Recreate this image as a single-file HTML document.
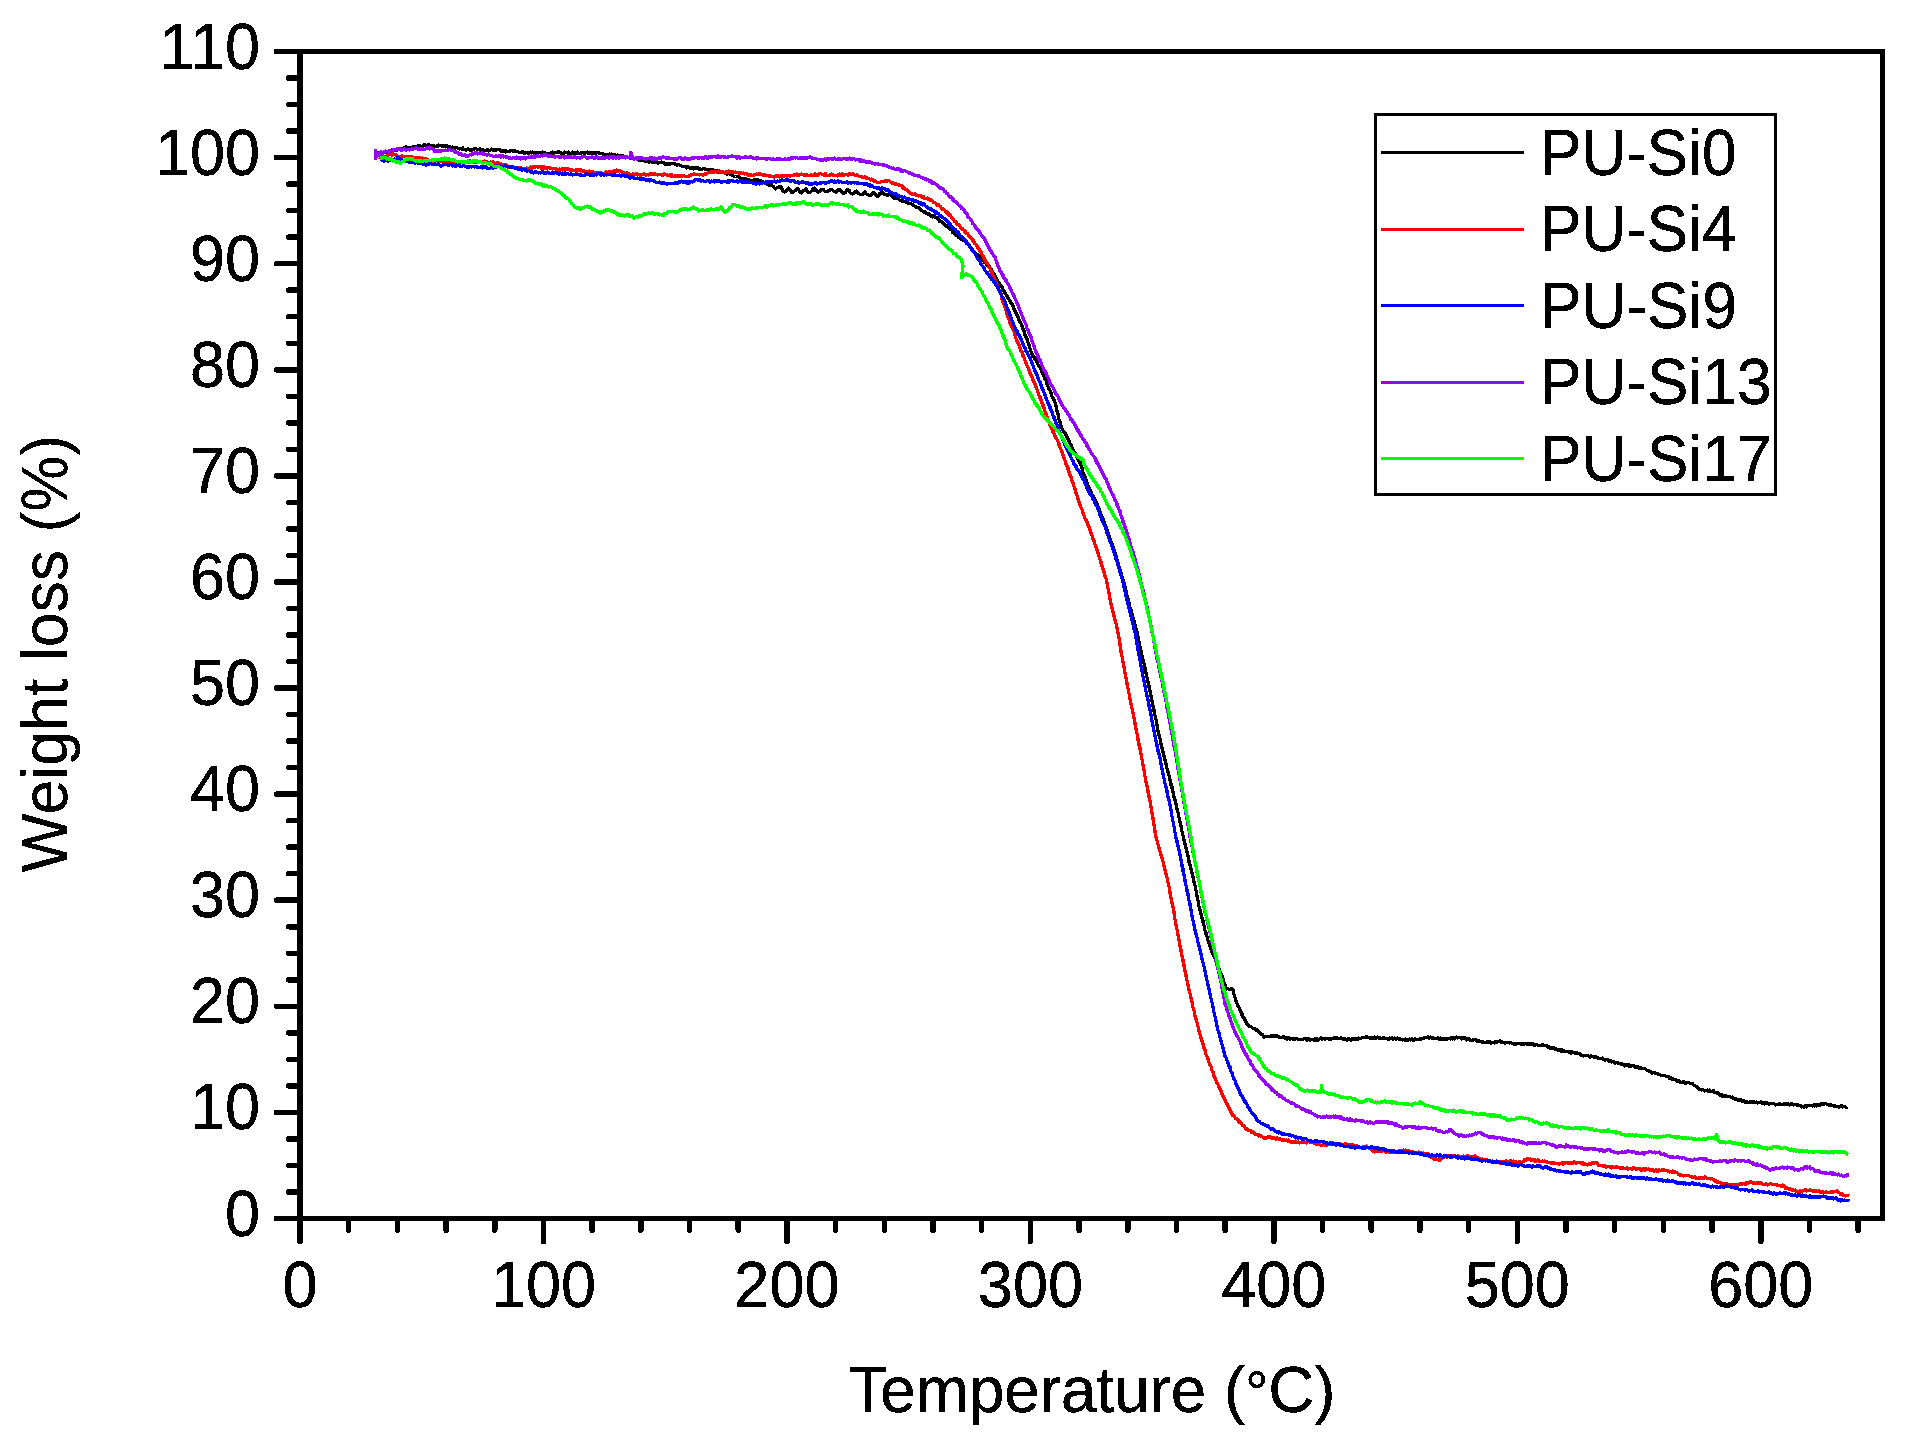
<!DOCTYPE html>
<html><head><meta charset="utf-8"><title>TGA curves</title>
<style>
html,body{margin:0;padding:0;background:#fff;}
body{width:1912px;height:1440px;overflow:hidden;}
svg{display:block;}
text{font-family:"Liberation Sans",sans-serif;font-size:63px;fill:#000;stroke:#000;stroke-width:0.35px;}
.ax{stroke:#000;stroke-width:5.5;fill:none;shape-rendering:crispEdges;}
.tk{stroke:#000;stroke-width:5.5;stroke-linecap:round;fill:none;shape-rendering:crispEdges;}
.cv{fill:none;stroke-width:3.3;stroke-linejoin:round;stroke-linecap:butt;}
</style></head><body>
<svg width="1912" height="1440" viewBox="0 0 1912 1440">
<defs><filter id="bin" x="-5%" y="-20%" width="110%" height="140%" color-interpolation-filters="sRGB"><feComponentTransfer><feFuncA type="discrete" tableValues="0 0 1 1"/></feComponentTransfer></filter></defs>
<rect x="0" y="0" width="1912" height="1440" fill="#fff"/>

<g shape-rendering="crispEdges">
<polyline class="cv" stroke="#000000" points="375.5,153.6 376.5,153.0 377.5,153.7 378.5,152.8 379.4,153.7 380.4,153.7 381.4,154.0 382.4,152.5 383.4,153.0 384.4,151.9 385.4,152.0 386.3,152.3 387.3,152.7 388.3,151.8 389.3,150.5 390.3,151.3 391.3,151.6 392.2,150.0 393.2,150.6 394.2,150.7 395.2,149.5 396.2,149.1 397.1,150.0 398.1,148.9 399.1,149.6 400.1,148.4 401.1,148.9 402.0,148.6 403.0,148.4 404.0,148.1 405.0,147.1 406.0,146.9 407.0,147.2 407.9,148.1 408.9,147.2 409.9,148.1 410.9,148.0 411.9,147.2 412.9,146.8 413.9,147.5 414.9,146.9 415.9,146.6 416.9,146.3 417.9,145.7 418.9,146.2 419.9,145.5 420.9,146.6 421.9,146.7 422.9,146.3 423.9,145.0 424.8,145.4 425.8,145.0 426.8,145.8 427.8,145.1 428.8,144.7 429.8,145.5 430.8,145.2 431.8,145.4 432.8,145.4 433.8,145.5 434.8,146.3 435.8,146.6 436.8,146.1 437.8,146.2 438.8,145.1 439.8,145.2 440.8,145.2 441.8,145.9 442.8,146.5 443.8,145.8 444.8,145.9 445.8,146.3 446.8,145.6 447.8,147.4 448.7,146.6 449.7,146.3 450.7,147.7 451.7,147.7 452.7,147.0 453.7,147.9 454.7,148.5 455.7,148.0 456.7,147.5 457.6,148.1 458.6,148.6 459.6,149.0 460.6,148.6 461.6,149.1 462.6,147.8 463.6,149.7 464.6,149.2 465.6,150.2 466.6,149.3 467.6,148.9 468.6,148.9 469.6,149.7 470.6,150.3 471.6,150.0 472.6,150.1 473.6,148.9 474.6,148.9 475.6,148.4 476.6,149.1 477.6,149.4 478.6,149.4 479.6,148.8 480.6,150.3 481.6,150.1 482.6,150.0 483.6,150.2 484.6,151.0 485.6,150.3 486.6,150.6 487.6,149.4 488.6,150.9 489.6,150.2 490.6,150.1 491.6,149.1 492.6,150.2 493.6,149.3 494.6,150.5 495.6,149.8 496.6,150.0 497.6,149.8 498.6,149.7 499.6,149.8 500.5,150.5 501.5,151.4 502.5,150.9 503.5,151.3 504.5,150.6 505.5,151.9 506.5,151.0 507.5,151.4 508.5,151.3 509.5,151.3 510.5,150.4 511.5,150.5 512.5,150.4 513.5,151.5 514.5,150.6 515.5,151.0 516.5,151.6 517.5,151.6 518.5,151.9 519.5,152.7 520.5,152.8 521.5,152.8 522.5,151.5 523.5,153.0 524.5,152.6 525.5,153.2 526.5,152.4 527.5,153.1 528.5,153.2 529.5,152.9 530.5,152.0 531.5,152.4 532.5,152.1 533.5,152.7 534.5,153.6 535.5,153.0 536.5,152.5 537.5,152.3 538.5,152.4 539.5,152.8 540.5,153.0 541.5,153.5 542.5,151.9 543.5,152.5 544.5,152.6 545.5,153.7 546.5,153.4 547.5,153.8 548.5,153.6 549.5,153.2 550.5,153.5 551.5,152.7 552.5,151.9 553.5,153.3 554.5,152.9 555.5,152.6 556.5,152.6 557.5,152.4 558.5,151.5 559.5,152.1 560.5,152.6 561.5,153.4 562.5,153.6 563.6,153.4 564.6,152.2 565.6,152.8 566.6,152.6 567.6,153.2 568.6,152.1 569.6,153.5 570.6,153.4 571.6,153.2 572.6,152.1 573.6,152.8 574.6,153.3 575.6,153.1 576.6,153.2 577.6,152.2 578.6,153.0 579.6,153.6 580.6,153.6 581.6,152.5 582.6,152.6 583.6,152.9 584.6,153.1 585.6,153.0 586.6,152.4 587.6,152.0 588.6,153.6 589.6,152.7 590.6,153.2 591.6,152.5 592.6,152.5 593.6,153.6 594.6,152.8 595.6,153.6 596.6,152.5 597.6,152.5 598.6,153.1 599.6,152.9 600.6,153.4 601.5,153.2 602.5,153.4 603.5,154.5 604.5,154.3 605.5,154.9 606.5,154.4 607.5,154.6 608.5,154.7 609.5,154.0 610.5,155.1 611.5,154.1 612.5,154.8 613.5,154.4 614.5,154.7 615.5,154.9 616.5,155.8 617.4,154.9 618.4,155.8 619.4,156.5 620.4,155.4 621.4,156.5 622.4,155.9 623.4,156.1 624.3,157.0 625.3,157.4 626.3,156.7 627.3,156.7 628.3,157.5 629.3,157.4 630.3,157.4 631.3,158.6 632.2,158.3 633.2,158.7 634.2,158.9 635.2,158.6 636.2,158.4 637.2,158.5 638.1,159.9 639.1,160.2 640.1,160.0 641.1,159.2 642.0,160.7 643.0,160.0 644.0,160.5 645.0,161.3 645.9,160.1 646.9,161.0 647.9,160.8 648.9,162.2 649.9,161.5 650.9,161.4 651.9,162.3 652.9,162.3 653.9,162.5 654.9,162.6 655.9,162.6 656.9,162.0 657.9,163.0 658.9,162.8 659.9,162.5 660.9,162.3 661.9,162.1 662.9,162.7 663.9,162.6 664.9,164.2 665.9,164.0 666.9,164.4 667.8,163.6 668.8,164.4 669.8,163.3 670.8,164.0 671.8,163.2 672.8,163.8 673.8,163.3 674.8,163.4 675.8,164.5 676.7,165.2 677.7,164.5 678.7,164.4 679.7,165.3 680.6,165.8 681.6,166.1 682.6,166.7 683.6,166.7 684.6,166.5 685.5,166.5 686.5,168.0 687.5,166.8 688.5,167.2 689.5,168.2 690.5,167.5 691.5,167.9 692.5,168.2 693.5,169.0 694.5,167.8 695.5,168.4 696.5,168.5 697.5,167.7 698.5,168.9 699.5,168.4 700.4,169.3 701.4,169.6 702.4,169.1 703.4,168.8 704.4,169.0 705.4,169.0 706.4,169.2 707.4,169.2 708.4,169.2 709.4,170.0 710.4,169.6 711.3,170.4 712.3,169.6 713.3,171.3 714.3,171.1 715.2,170.5 716.2,170.7 717.2,170.8 718.2,171.9 719.1,171.1 720.1,172.2 721.1,171.6 722.1,172.4 723.0,172.6 724.0,172.6 724.9,173.5 725.9,173.3 726.9,174.0 727.8,172.7 728.8,173.5 729.7,173.4 730.7,174.7 731.6,174.0 732.6,175.5 733.6,176.1 734.5,176.5 735.5,176.6 736.5,176.6 737.4,176.5 738.4,176.7 739.4,177.2 740.3,178.7 741.3,178.3 742.3,178.2 743.2,179.1 744.2,179.5 745.2,178.6 746.1,179.1 747.1,179.4 748.1,179.6 749.1,180.0 750.1,180.3 751.1,180.5 752.1,180.4 753.1,180.4 754.1,179.4 755.1,180.0 756.1,180.8 757.1,179.6 758.1,179.7 759.1,181.5 760.1,181.7 761.0,180.9 761.9,182.6 762.8,182.8 763.7,182.1 764.6,182.8 765.5,183.2 766.4,183.4 767.4,184.5 768.3,184.7 769.2,185.1 770.1,185.2 771.0,184.9 772.0,185.8 772.9,186.2 773.8,187.1 774.8,188.2 775.7,188.9 776.7,187.7 777.6,187.2 778.5,187.2 779.5,186.8 780.4,186.6 781.4,187.6 782.4,190.0 783.3,191.2 784.3,191.9 785.3,191.6 786.3,190.4 787.3,190.0 788.3,188.1 789.3,188.8 790.3,189.8 791.3,192.1 792.3,192.8 793.3,191.7 794.3,191.3 795.3,190.7 796.3,189.1 797.3,188.4 798.3,189.3 799.2,191.0 800.2,192.5 801.2,193.0 802.2,191.7 803.2,190.5 804.2,190.4 805.2,190.1 806.2,188.8 807.2,190.6 808.2,192.6 809.3,192.7 810.3,192.1 811.3,191.2 812.3,190.4 813.3,188.4 814.3,188.1 815.3,190.3 816.3,190.1 817.3,191.3 818.3,192.1 819.3,191.1 820.3,191.1 821.3,189.3 822.3,189.6 823.3,189.5 824.3,190.9 825.3,191.6 826.3,191.7 827.3,191.5 828.3,190.9 829.3,190.5 830.3,189.5 831.2,189.4 832.2,189.8 833.2,190.7 834.2,191.5 835.2,192.0 836.2,192.5 837.2,190.8 838.2,189.8 839.2,190.0 840.2,189.9 841.2,191.4 842.2,191.5 843.2,193.3 844.2,193.4 845.2,192.7 846.2,190.9 847.2,189.3 848.2,190.9 849.2,190.4 850.2,192.7 851.2,193.3 852.2,193.9 853.2,193.8 854.2,192.8 855.2,191.7 856.2,191.0 857.2,191.9 858.2,192.9 859.2,193.9 860.2,194.2 861.2,194.7 862.2,194.1 863.1,194.1 864.1,192.8 865.1,191.6 866.1,193.7 867.1,194.2 868.1,194.7 869.1,195.2 870.1,195.8 871.1,195.2 872.1,193.7 873.1,193.0 874.1,192.7 875.1,194.3 876.1,194.8 877.1,196.0 878.1,196.4 879.0,195.5 880.0,193.1 881.0,193.4 882.0,191.6 883.0,192.2 884.0,194.2 885.0,194.3 886.0,194.8 886.9,195.1 887.9,195.4 888.8,193.8 889.7,194.2 890.6,193.9 891.5,195.8 892.4,195.6 893.3,197.9 894.2,198.8 895.1,197.8 896.1,197.8 897.0,198.4 897.9,198.3 898.8,199.4 899.7,200.0 900.6,200.5 901.6,201.0 902.5,201.1 903.4,201.4 904.4,201.2 905.3,201.3 906.2,202.1 907.2,203.0 908.1,203.1 909.1,203.6 910.0,203.4 910.9,203.7 911.8,204.3 912.7,204.4 913.6,205.4 914.5,206.0 915.4,207.1 916.3,207.0 917.2,207.2 918.1,207.4 918.9,207.7 919.8,208.6 920.7,209.6 921.6,210.7 922.4,211.1 923.2,211.6 924.1,212.0 924.9,211.3 925.8,213.4 926.6,213.2 927.5,214.0 928.3,213.3 929.2,214.9 930.0,214.3 930.9,215.6 931.7,216.5 932.6,217.0 933.4,215.6 934.3,216.8 935.1,217.1 935.9,217.8 936.8,218.0 937.6,218.4 938.5,219.4 939.3,221.4 940.2,220.6 941.0,221.4 941.8,221.9 942.7,223.3 943.5,223.7 944.3,224.6 945.1,224.5 945.8,226.0 946.6,225.8 947.4,226.2 948.2,227.2 949.0,227.6 949.8,229.5 950.5,229.6 951.3,229.2 952.0,230.5 952.7,232.5 953.4,232.2 954.1,233.4 954.8,234.5 955.5,234.5 956.2,234.4 956.9,235.7 957.6,236.0 958.5,237.7 959.3,237.3 960.1,237.4 961.0,239.0 961.8,238.7 962.6,239.5 963.5,240.3 964.3,241.0 965.1,241.6 965.8,241.6 966.4,243.4 967.1,243.0 967.8,244.4 968.4,245.1 969.1,245.0 969.8,246.7 970.4,246.7 971.1,248.4 971.8,248.5 972.4,249.2 973.1,250.5 973.8,251.6 974.4,251.8 975.1,253.3 975.8,253.4 976.5,254.4 977.2,255.1 977.9,254.7 978.6,255.9 979.3,255.9 980.0,257.9 980.8,259.0 981.5,258.8 982.2,260.2 982.9,260.5 983.6,260.4 984.3,262.1 985.0,261.7 985.7,263.4 986.4,263.1 987.1,265.2 987.8,266.1 988.5,265.8 989.2,265.9 990.0,267.9 990.5,268.9 991.0,268.7 991.5,269.5 992.0,271.6 992.4,271.4 992.9,272.6 993.4,272.9 993.9,273.9 994.4,275.9 994.9,275.6 995.4,276.7 995.9,278.1 996.4,278.3 996.9,279.3 997.4,281.0 997.9,281.5 998.4,282.7 998.9,282.4 999.4,284.2 999.9,285.1 1000.4,285.3 1000.9,285.9 1001.5,286.8 1002.0,287.1 1002.5,288.4 1003.1,290.1 1003.6,291.0 1004.1,290.8 1004.7,292.6 1005.2,293.1 1005.7,293.2 1006.3,295.3 1006.8,295.3 1007.3,297.7 1007.8,298.1 1008.4,298.2 1008.9,299.2 1009.4,300.5 1010.0,300.4 1010.5,302.7 1011.0,302.3 1011.6,303.4 1012.1,303.7 1012.6,305.3 1013.0,306.3 1013.4,306.1 1013.8,308.3 1014.2,309.3 1014.6,309.2 1015.0,311.1 1015.4,312.4 1015.8,312.1 1016.2,313.1 1016.7,314.6 1017.1,315.8 1017.5,315.6 1017.9,317.6 1018.3,317.2 1018.7,318.5 1019.1,320.2 1019.5,319.9 1019.9,321.3 1020.3,322.9 1020.7,323.0 1021.1,323.9 1021.5,324.1 1021.9,325.6 1022.3,327.1 1022.7,327.5 1023.1,329.6 1023.4,329.5 1023.7,330.4 1024.1,331.4 1024.4,332.8 1024.8,334.7 1025.1,334.9 1025.4,334.9 1025.8,336.1 1026.1,337.2 1026.5,339.0 1026.8,339.0 1027.2,339.5 1027.5,341.4 1027.8,341.9 1028.2,343.4 1028.5,344.0 1028.9,344.5 1029.2,346.5 1029.6,348.1 1029.9,348.6 1030.2,348.5 1030.6,349.5 1030.9,351.4 1031.3,352.6 1031.6,352.4 1031.9,353.6 1032.3,354.9 1032.7,355.4 1033.2,356.0 1033.7,356.9 1034.2,357.4 1034.8,359.3 1035.3,359.8 1035.8,359.7 1036.3,361.3 1036.8,361.4 1037.3,363.5 1037.8,364.3 1038.4,364.8 1038.9,366.0 1039.4,366.3 1039.9,367.7 1040.3,367.8 1040.7,369.2 1041.1,369.2 1041.5,370.4 1041.9,371.4 1042.3,373.9 1042.7,373.5 1043.1,374.6 1043.5,376.0 1043.9,376.3 1044.3,376.8 1044.7,378.8 1045.1,379.2 1045.4,380.1 1045.8,380.3 1046.2,381.2 1046.6,383.0 1047.0,384.5 1047.4,384.3 1047.8,385.9 1048.2,386.7 1048.6,387.4 1049.0,389.0 1049.4,388.9 1049.8,390.3 1050.2,391.1 1050.6,392.9 1051.0,393.0 1051.4,393.6 1051.8,395.9 1052.1,396.4 1052.5,397.5 1052.9,397.9 1053.3,398.3 1053.7,400.3 1054.1,400.1 1054.5,400.7 1054.9,402.1 1055.2,403.3 1055.4,404.7 1055.7,405.8 1055.9,406.4 1056.2,406.4 1056.4,408.5 1056.6,409.7 1056.9,410.3 1057.1,411.7 1057.4,411.2 1057.6,412.4 1057.9,413.8 1058.1,414.2 1058.3,415.0 1058.6,415.9 1058.8,418.6 1059.1,419.6 1059.3,419.7 1059.6,420.3 1059.8,420.8 1060.0,422.1 1060.3,423.9 1060.5,424.7 1060.8,424.9 1061.0,426.3 1061.3,426.8 1061.8,428.5 1062.3,428.7 1062.9,430.2 1063.4,431.3 1063.9,432.0 1064.4,432.0 1065.0,432.9 1065.5,434.3 1066.0,434.6 1066.6,436.2 1067.1,437.4 1067.6,438.6 1068.0,438.5 1068.4,440.2 1068.8,441.0 1069.2,441.3 1069.6,441.7 1070.0,443.6 1070.4,444.4 1070.8,444.8 1071.3,445.1 1071.7,447.0 1072.1,448.8 1072.5,448.0 1072.9,449.4 1073.4,450.2 1073.9,451.3 1074.4,452.4 1074.9,452.5 1075.3,453.5 1075.8,454.5 1076.3,456.0 1076.8,457.0 1077.3,458.4 1077.7,459.1 1078.2,459.8 1078.7,460.7 1079.2,461.7 1079.7,462.5 1080.1,462.8 1080.4,462.8 1080.7,464.5 1081.0,465.3 1081.4,465.8 1081.7,466.3 1082.0,468.0 1082.3,469.7 1082.6,470.2 1082.9,472.2 1083.3,473.1 1083.6,473.9 1083.9,474.6 1084.2,475.9 1084.5,476.3 1084.8,477.8 1085.2,477.5 1085.5,478.1 1085.8,479.1 1086.1,481.5 1086.4,480.9 1086.7,483.4 1087.1,482.8 1087.4,484.5 1087.8,485.2 1088.2,486.6 1088.7,487.1 1089.1,488.0 1089.6,489.0 1090.0,490.3 1090.4,490.2 1090.9,491.1 1091.3,492.7 1091.8,494.4 1092.2,494.7 1092.7,495.4 1093.1,495.3 1093.6,496.7 1094.0,498.9 1094.5,498.4 1094.9,500.6 1095.4,500.7 1095.8,502.1 1096.3,502.0 1096.7,503.4 1097.2,504.3 1097.6,505.4 1097.9,506.4 1098.3,507.4 1098.7,507.7 1099.0,508.6 1099.4,509.9 1099.7,511.0 1100.1,512.2 1100.4,513.0 1100.8,513.8 1101.1,514.6 1101.5,516.0 1101.9,516.4 1102.2,517.9 1102.6,518.3 1102.9,519.5 1103.3,519.6 1103.6,521.6 1104.0,521.4 1104.3,523.0 1104.7,523.5 1105.1,524.7 1105.4,526.4 1105.8,527.4 1106.1,527.1 1106.5,527.7 1106.8,529.0 1107.2,529.7 1107.5,531.4 1107.8,532.9 1108.2,532.9 1108.5,533.9 1108.8,535.5 1109.2,536.5 1109.5,537.8 1109.8,537.6 1110.1,538.6 1110.5,538.9 1110.8,540.4 1111.1,542.3 1111.5,542.4 1111.8,542.6 1112.1,544.8 1112.5,545.9 1112.8,545.8 1113.1,547.4 1113.5,548.1 1113.8,548.8 1114.1,549.8 1114.4,550.9 1114.8,552.4 1115.1,553.4 1115.4,553.9 1115.8,555.3 1116.1,556.9 1116.3,557.0 1116.6,558.6 1116.9,559.6 1117.2,560.0 1117.5,560.9 1117.8,562.7 1118.1,563.0 1118.4,563.2 1118.6,565.6 1118.9,566.7 1119.2,567.1 1119.5,568.2 1119.8,569.3 1120.1,569.9 1120.4,571.2 1120.7,571.7 1120.9,572.9 1121.2,572.7 1121.5,574.7 1121.8,576.1 1122.1,577.2 1122.4,577.1 1122.7,579.0 1123.0,579.9 1123.2,580.5 1123.5,581.0 1123.7,582.5 1124.0,582.5 1124.2,584.7 1124.5,585.2 1124.7,586.1 1124.9,586.9 1125.2,587.0 1125.4,589.0 1125.7,589.8 1125.9,591.2 1126.2,591.3 1126.4,592.2 1126.6,593.1 1126.9,595.5 1127.1,595.9 1127.4,596.4 1127.6,596.8 1127.9,598.7 1128.1,598.7 1128.3,601.2 1128.6,600.7 1128.8,602.1 1129.1,602.7 1129.3,604.3 1129.6,605.6 1129.8,607.0 1130.1,607.4 1130.3,609.0 1130.6,610.0 1130.9,609.6 1131.1,611.4 1131.4,612.3 1131.6,613.2 1131.9,614.8 1132.2,614.1 1132.4,614.8 1132.7,616.5 1133.0,617.5 1133.2,619.0 1133.5,619.2 1133.7,620.0 1134.0,620.8 1134.3,621.7 1134.5,624.1 1134.8,624.9 1135.0,625.1 1135.3,626.8 1135.6,628.3 1135.8,628.2 1136.1,629.7 1136.3,630.1 1136.6,630.4 1136.8,631.0 1137.0,633.0 1137.2,633.2 1137.5,634.3 1137.7,635.3 1137.9,636.5 1138.1,637.4 1138.3,638.3 1138.6,640.3 1138.8,641.6 1139.0,641.4 1139.2,643.5 1139.5,643.0 1139.7,645.2 1139.9,646.3 1140.1,647.3 1140.4,648.5 1140.6,648.7 1140.8,650.4 1141.0,650.9 1141.3,651.9 1141.5,652.6 1141.7,653.4 1141.9,655.7 1142.2,656.7 1142.4,656.1 1142.6,657.6 1142.8,659.1 1143.0,659.1 1143.2,660.9 1143.4,660.8 1143.7,662.6 1143.9,663.3 1144.1,663.8 1144.3,664.5 1144.5,666.4 1144.7,667.1 1145.0,668.1 1145.2,669.6 1145.4,669.6 1145.6,671.5 1145.8,671.9 1146.0,672.7 1146.2,674.1 1146.5,675.9 1146.7,675.6 1146.9,677.6 1147.1,677.9 1147.3,679.6 1147.5,680.2 1147.7,680.9 1148.0,681.6 1148.2,683.4 1148.4,683.2 1148.6,685.2 1148.8,684.8 1149.0,686.9 1149.3,688.3 1149.5,689.0 1149.7,688.9 1149.9,691.3 1150.1,691.0 1150.3,692.3 1150.5,693.4 1150.8,694.5 1151.0,695.6 1151.2,697.1 1151.4,697.2 1151.6,698.2 1151.8,699.4 1152.0,701.3 1152.3,701.1 1152.5,702.3 1152.7,704.7 1152.9,704.8 1153.1,706.4 1153.3,707.2 1153.5,708.6 1153.7,709.1 1153.9,709.3 1154.1,711.7 1154.3,712.7 1154.5,713.6 1154.7,714.6 1154.9,715.7 1155.1,715.4 1155.3,716.2 1155.5,718.3 1155.7,719.1 1155.9,719.2 1156.1,719.8 1156.3,720.9 1156.4,721.5 1156.6,723.7 1156.8,723.9 1157.0,725.1 1157.2,726.1 1157.4,727.3 1157.6,728.9 1157.8,729.7 1158.0,731.3 1158.2,731.2 1158.5,732.1 1158.7,734.3 1158.9,734.0 1159.1,734.4 1159.4,735.5 1159.6,736.8 1159.8,738.5 1160.0,738.5 1160.3,740.0 1160.5,741.7 1160.7,742.3 1160.9,743.7 1161.2,744.7 1161.4,744.6 1161.6,746.0 1161.8,748.0 1162.1,747.8 1162.3,749.7 1162.5,750.3 1162.7,750.2 1163.0,751.3 1163.2,753.1 1163.4,754.0 1163.6,753.6 1163.9,755.8 1164.1,756.8 1164.3,757.4 1164.6,758.1 1164.8,759.7 1165.1,760.0 1165.3,761.1 1165.6,762.1 1165.8,763.9 1166.0,763.7 1166.3,766.1 1166.5,767.0 1166.8,767.6 1167.0,768.8 1167.3,769.4 1167.5,769.5 1167.7,770.7 1168.0,772.0 1168.2,772.6 1168.5,773.3 1168.7,775.0 1169.0,775.2 1169.2,776.6 1169.4,777.0 1169.7,779.5 1169.9,780.0 1170.2,779.8 1170.4,781.6 1170.7,782.8 1170.9,783.6 1171.1,785.3 1171.4,786.3 1171.6,785.7 1171.9,786.9 1172.1,788.1 1172.4,790.1 1172.6,790.3 1172.8,790.8 1173.1,792.3 1173.3,793.8 1173.6,794.8 1173.8,796.2 1174.1,797.1 1174.3,797.2 1174.5,797.7 1174.8,798.4 1175.0,800.4 1175.3,801.5 1175.5,801.0 1175.8,803.9 1176.0,804.1 1176.2,804.2 1176.5,805.1 1176.7,807.2 1176.9,808.7 1177.1,809.3 1177.3,810.5 1177.5,810.9 1177.8,811.5 1178.0,812.5 1178.2,813.5 1178.4,815.2 1178.6,815.4 1178.8,816.9 1179.1,817.8 1179.3,818.8 1179.5,819.4 1179.7,820.7 1179.9,821.8 1180.1,822.0 1180.4,823.0 1180.6,824.8 1180.8,825.1 1181.0,825.9 1181.2,827.4 1181.5,827.8 1181.7,829.4 1181.9,831.0 1182.1,831.8 1182.3,832.7 1182.5,833.4 1182.8,834.4 1183.0,835.7 1183.2,835.7 1183.4,838.1 1183.6,837.8 1183.8,839.5 1184.1,840.2 1184.3,841.9 1184.5,841.5 1184.7,843.0 1185.0,844.1 1185.2,844.6 1185.4,845.3 1185.6,846.6 1185.9,848.1 1186.1,848.0 1186.3,848.9 1186.5,850.0 1186.8,850.5 1187.0,852.5 1187.2,852.6 1187.4,853.8 1187.7,856.2 1187.9,855.7 1188.2,857.3 1188.4,857.9 1188.7,859.8 1188.9,860.4 1189.1,862.1 1189.4,862.8 1189.6,864.1 1189.9,864.2 1190.1,865.1 1190.4,867.1 1190.6,868.0 1190.8,867.6 1191.1,869.4 1191.3,870.6 1191.6,870.9 1191.8,872.2 1192.1,873.4 1192.3,874.5 1192.5,876.0 1192.8,876.1 1193.0,876.6 1193.3,878.9 1193.5,879.3 1193.8,880.1 1193.9,881.0 1194.1,882.7 1194.3,882.0 1194.5,884.2 1194.7,883.9 1194.9,885.4 1195.1,885.6 1195.3,886.4 1195.5,887.3 1195.7,889.6 1195.9,890.3 1196.1,890.8 1196.3,892.1 1196.5,893.2 1196.7,894.2 1196.9,895.0 1197.1,896.6 1197.3,898.3 1197.5,898.8 1197.7,900.1 1197.9,900.2 1198.1,900.9 1198.3,902.1 1198.5,903.1 1198.7,904.9 1198.9,906.1 1199.1,906.9 1199.4,908.5 1199.6,907.9 1199.8,909.0 1200.1,910.4 1200.3,912.1 1200.6,913.0 1200.8,914.4 1201.1,913.9 1201.3,915.7 1201.5,915.8 1201.8,916.9 1202.0,918.8 1202.3,918.3 1202.5,919.7 1202.8,920.2 1203.0,921.5 1203.2,923.6 1203.5,924.5 1203.7,925.1 1204.0,925.7 1204.2,926.2 1204.5,927.4 1204.7,929.1 1204.9,930.4 1205.2,930.7 1205.5,930.8 1205.8,932.1 1206.1,934.3 1206.4,934.7 1206.7,935.1 1207.0,936.8 1207.3,937.4 1207.6,939.0 1207.9,940.5 1208.2,940.6 1208.5,941.8 1208.8,942.4 1209.1,943.0 1209.4,944.8 1209.7,945.6 1210.0,945.3 1210.3,946.2 1210.6,947.9 1210.9,949.3 1211.2,949.1 1211.6,951.1 1212.0,952.0 1212.3,951.9 1212.7,953.5 1213.1,954.3 1213.5,955.3 1213.9,955.1 1214.3,957.3 1214.7,957.6 1215.0,958.2 1215.4,959.8 1215.8,961.0 1216.2,961.0 1216.6,962.0 1217.0,964.0 1217.3,964.9 1217.7,965.4 1218.1,966.9 1218.5,967.3 1218.8,968.1 1219.2,968.9 1219.6,970.6 1220.0,971.2 1220.3,971.8 1220.7,973.6 1221.1,973.9 1221.4,975.4 1221.8,976.2 1222.2,976.4 1222.5,977.9 1222.9,979.3 1223.2,979.2 1223.5,981.7 1223.8,982.3 1224.1,983.4 1224.4,983.4 1224.8,984.2 1225.1,985.2 1225.4,985.6 1225.7,987.0 1226.0,989.1 1226.6,989.0 1227.5,988.6 1228.5,989.0 1229.5,989.2 1230.5,989.0 1231.5,988.6 1232.5,989.3 1232.8,989.3 1233.0,990.0 1233.3,991.9 1233.5,993.1 1233.8,993.6 1234.0,994.5 1234.3,995.2 1234.5,995.6 1234.8,996.6 1235.0,997.7 1235.3,997.8 1235.5,1000.4 1235.8,1000.5 1236.0,1001.2 1236.3,1002.0 1236.7,1003.2 1237.2,1003.7 1237.6,1006.1 1238.1,1005.6 1238.5,1006.1 1239.0,1007.6 1239.4,1008.3 1239.9,1009.8 1240.3,1011.2 1240.7,1012.1 1241.2,1012.3 1241.6,1014.2 1242.1,1014.1 1242.5,1015.4 1243.0,1017.0 1243.4,1017.6 1243.9,1017.7 1244.3,1018.9 1244.8,1019.1 1245.2,1020.5 1245.7,1022.0 1246.1,1022.9 1246.6,1022.3 1247.0,1024.5 1247.5,1024.6 1248.3,1026.0 1249.2,1025.6 1250.1,1026.5 1251.0,1026.9 1251.9,1027.3 1252.8,1028.3 1253.7,1028.7 1254.6,1028.3 1255.5,1029.8 1256.4,1030.3 1257.3,1030.0 1258.0,1031.5 1258.7,1031.8 1259.3,1032.7 1260.0,1032.5 1260.7,1033.6 1261.3,1034.6 1262.0,1034.8 1262.7,1034.7 1263.3,1036.1 1264.1,1037.2 1265.1,1036.3 1266.1,1036.5 1267.1,1036.6 1268.1,1036.8 1269.1,1036.8 1270.1,1036.8 1271.1,1036.2 1272.1,1035.2 1273.1,1036.8 1274.1,1035.5 1275.1,1036.2 1276.1,1036.5 1277.1,1035.7 1278.1,1036.5 1279.1,1037.0 1280.1,1037.9 1281.1,1037.3 1282.1,1037.7 1283.0,1036.9 1284.0,1036.9 1285.0,1038.5 1286.0,1037.8 1287.0,1039.0 1288.0,1037.4 1289.0,1037.9 1290.0,1039.1 1291.0,1038.8 1292.0,1038.5 1293.0,1039.1 1294.0,1038.3 1295.0,1039.3 1296.0,1038.4 1297.0,1038.4 1298.0,1039.3 1299.0,1039.7 1300.0,1039.3 1301.0,1039.7 1302.0,1039.1 1303.0,1039.4 1304.0,1038.9 1305.0,1038.5 1306.0,1039.1 1307.0,1040.3 1308.0,1038.8 1309.0,1039.0 1310.0,1040.2 1311.0,1039.4 1312.0,1039.3 1313.0,1039.8 1314.0,1040.0 1315.0,1039.1 1316.0,1040.2 1317.0,1039.1 1318.0,1040.0 1319.0,1039.3 1320.0,1038.9 1321.0,1037.8 1321.9,1039.0 1322.9,1038.2 1323.9,1038.9 1324.9,1039.1 1325.9,1038.3 1326.9,1038.8 1327.9,1038.3 1328.9,1039.2 1329.9,1038.8 1330.9,1039.1 1331.9,1038.7 1332.9,1038.5 1333.9,1038.0 1334.9,1038.7 1335.9,1038.0 1336.9,1038.0 1337.9,1038.2 1338.9,1038.2 1339.9,1038.2 1340.9,1037.9 1341.9,1038.4 1342.9,1039.5 1343.9,1038.9 1344.9,1038.5 1345.9,1039.9 1346.9,1040.0 1347.9,1038.9 1348.9,1038.9 1349.9,1039.4 1350.9,1040.1 1351.9,1039.0 1352.8,1038.6 1353.8,1039.3 1354.8,1039.1 1355.8,1039.1 1356.8,1038.9 1357.8,1039.2 1358.8,1038.1 1359.8,1038.5 1360.8,1038.5 1361.8,1038.0 1362.8,1037.5 1363.8,1037.6 1364.8,1037.3 1365.8,1037.0 1366.8,1036.7 1367.8,1037.9 1368.8,1037.7 1369.8,1038.2 1370.8,1037.9 1371.8,1037.4 1372.8,1038.6 1373.8,1038.4 1374.8,1037.0 1375.8,1038.3 1376.8,1037.7 1377.8,1037.1 1378.8,1038.3 1379.8,1037.8 1380.8,1038.3 1381.8,1038.5 1382.8,1037.6 1383.8,1038.0 1384.8,1038.3 1385.8,1038.2 1386.8,1038.5 1387.8,1039.0 1388.8,1039.1 1389.8,1038.1 1390.8,1038.4 1391.8,1038.0 1392.8,1039.1 1393.8,1039.0 1394.8,1038.1 1395.8,1038.9 1396.8,1039.0 1397.8,1038.1 1398.8,1039.1 1399.8,1038.5 1400.8,1039.8 1401.8,1039.2 1402.8,1040.0 1403.8,1039.6 1404.8,1040.4 1405.8,1039.1 1406.8,1039.9 1407.8,1040.5 1408.8,1039.3 1409.8,1039.1 1410.8,1039.9 1411.8,1039.0 1412.8,1040.3 1413.8,1040.4 1414.8,1038.7 1415.8,1039.8 1416.8,1039.8 1417.8,1039.2 1418.8,1039.2 1419.8,1039.0 1420.8,1039.1 1421.8,1038.3 1422.8,1038.5 1423.7,1038.1 1424.7,1037.5 1425.7,1037.7 1426.7,1037.5 1427.7,1036.8 1428.7,1038.1 1429.7,1037.2 1430.7,1037.1 1431.7,1038.2 1432.7,1037.3 1433.7,1038.3 1434.7,1038.6 1435.7,1038.4 1436.7,1038.5 1437.6,1037.8 1438.6,1038.1 1439.6,1039.4 1440.6,1038.2 1441.6,1039.3 1442.6,1039.3 1443.6,1038.4 1444.6,1039.6 1445.6,1038.8 1446.6,1038.9 1447.6,1038.9 1448.6,1038.5 1449.6,1038.3 1450.6,1038.9 1451.5,1037.5 1452.5,1038.8 1453.5,1037.9 1454.5,1039.1 1455.5,1037.7 1456.5,1037.0 1457.5,1038.1 1458.5,1037.7 1459.5,1037.2 1460.5,1037.6 1461.5,1039.0 1462.5,1037.9 1463.5,1038.5 1464.5,1037.8 1465.4,1038.4 1466.4,1039.9 1467.4,1038.5 1468.4,1038.5 1469.4,1039.3 1470.4,1040.4 1471.4,1040.4 1472.4,1040.3 1473.4,1039.9 1474.4,1039.7 1475.4,1039.3 1476.3,1041.0 1477.3,1041.4 1478.3,1040.5 1479.3,1041.0 1480.3,1041.2 1481.3,1041.2 1482.3,1042.6 1483.3,1041.9 1484.2,1042.6 1485.2,1042.6 1486.2,1042.6 1487.2,1041.7 1488.2,1042.5 1489.2,1041.4 1490.2,1042.8 1491.2,1043.2 1492.2,1042.2 1493.2,1042.6 1494.2,1043.0 1495.2,1041.8 1496.2,1041.5 1497.2,1042.1 1498.2,1041.6 1499.2,1041.5 1500.2,1041.0 1501.2,1042.5 1502.2,1042.0 1503.2,1042.7 1504.2,1042.9 1505.2,1043.2 1506.2,1042.2 1507.2,1042.9 1508.2,1042.6 1509.2,1042.9 1510.2,1042.6 1511.2,1042.6 1512.2,1043.5 1513.2,1043.9 1514.2,1043.9 1515.2,1044.0 1516.2,1044.4 1517.2,1043.2 1518.2,1043.2 1519.2,1043.7 1520.2,1043.5 1521.2,1044.1 1522.2,1044.6 1523.2,1043.9 1524.2,1044.5 1525.2,1043.2 1526.2,1043.7 1527.2,1044.2 1528.2,1043.3 1529.2,1044.2 1530.2,1044.7 1531.2,1043.9 1532.2,1043.5 1533.2,1044.6 1534.2,1045.3 1535.2,1045.1 1536.2,1044.3 1537.2,1044.6 1538.2,1045.7 1539.2,1045.7 1540.2,1045.2 1541.2,1045.6 1542.1,1045.0 1543.1,1044.7 1544.0,1045.9 1545.0,1045.3 1545.9,1045.7 1546.9,1045.8 1547.8,1047.2 1548.8,1046.9 1549.7,1048.4 1550.7,1047.6 1551.6,1047.8 1552.6,1048.5 1553.6,1048.0 1554.6,1048.1 1555.5,1049.6 1556.5,1049.0 1557.5,1050.1 1558.5,1050.0 1559.5,1049.7 1560.5,1050.9 1561.4,1049.5 1562.4,1051.2 1563.4,1050.5 1564.4,1051.6 1565.4,1051.6 1566.4,1051.3 1567.3,1051.4 1568.3,1051.9 1569.3,1051.5 1570.2,1052.7 1571.2,1053.3 1572.2,1051.9 1573.2,1052.4 1574.1,1052.9 1575.1,1053.2 1576.1,1053.1 1577.0,1053.0 1578.0,1053.2 1579.0,1053.5 1580.0,1054.1 1580.9,1055.0 1581.9,1055.9 1582.9,1055.6 1583.8,1055.9 1584.8,1055.4 1585.8,1055.7 1586.8,1055.6 1587.8,1055.7 1588.8,1056.3 1589.8,1057.1 1590.8,1055.9 1591.8,1056.3 1592.8,1056.6 1593.8,1057.3 1594.8,1057.2 1595.8,1056.6 1596.8,1057.9 1597.7,1058.0 1598.7,1058.1 1599.6,1058.2 1600.6,1058.3 1601.5,1058.3 1602.5,1058.1 1603.4,1059.1 1604.4,1060.0 1605.3,1060.2 1606.3,1059.5 1607.2,1059.7 1608.2,1060.0 1609.1,1061.3 1610.1,1061.5 1611.1,1060.4 1612.0,1061.9 1613.0,1061.2 1614.0,1061.4 1615.0,1063.2 1615.9,1062.8 1616.9,1062.5 1617.9,1062.3 1618.8,1063.7 1619.8,1063.3 1620.8,1063.3 1621.8,1064.7 1622.7,1064.0 1623.7,1065.0 1624.7,1065.9 1625.6,1064.4 1626.6,1065.5 1627.6,1064.8 1628.6,1066.1 1629.6,1065.2 1630.6,1066.5 1631.6,1065.5 1632.6,1065.4 1633.6,1065.8 1634.5,1067.1 1635.5,1067.0 1636.5,1067.7 1637.5,1066.5 1638.5,1067.0 1639.5,1068.3 1640.5,1067.5 1641.5,1068.3 1642.4,1068.4 1643.3,1068.6 1644.2,1068.2 1645.0,1068.6 1645.9,1069.4 1646.8,1070.1 1647.6,1070.3 1648.5,1070.5 1649.4,1071.3 1650.3,1071.4 1651.2,1072.3 1652.1,1073.0 1653.1,1072.3 1654.1,1072.4 1655.1,1073.4 1656.0,1073.8 1657.0,1073.7 1658.0,1074.0 1658.9,1074.7 1659.9,1074.6 1660.9,1075.4 1661.9,1075.5 1662.8,1075.7 1663.8,1075.8 1664.8,1075.5 1665.7,1076.2 1666.7,1076.5 1667.7,1076.7 1668.6,1076.7 1669.4,1078.5 1670.3,1077.3 1671.2,1078.6 1672.1,1079.0 1673.0,1078.9 1673.9,1079.4 1674.8,1079.6 1675.7,1079.5 1676.7,1080.8 1677.7,1081.4 1678.7,1080.5 1679.6,1081.3 1680.6,1082.5 1681.6,1082.4 1682.6,1082.4 1683.6,1081.7 1684.6,1083.0 1685.5,1083.0 1686.5,1082.9 1687.5,1082.2 1688.5,1082.4 1689.5,1083.0 1690.5,1083.3 1691.5,1083.2 1692.4,1083.4 1693.3,1084.9 1694.1,1085.6 1694.9,1085.4 1695.7,1086.0 1696.5,1086.7 1697.4,1087.8 1698.2,1087.5 1699.0,1088.8 1699.8,1089.6 1700.6,1089.3 1701.6,1090.0 1702.6,1089.5 1703.6,1090.2 1704.6,1091.0 1705.6,1090.4 1706.6,1090.7 1707.6,1090.1 1708.5,1091.5 1709.5,1090.2 1710.5,1091.4 1711.5,1091.5 1712.5,1091.6 1713.5,1090.4 1714.4,1092.3 1715.3,1092.4 1716.2,1092.9 1717.1,1092.9 1718.0,1093.0 1718.9,1094.4 1719.8,1094.8 1720.7,1095.3 1721.6,1094.5 1722.5,1096.4 1723.5,1095.6 1724.5,1095.5 1725.5,1096.3 1726.4,1096.1 1727.4,1096.6 1728.4,1096.7 1729.4,1096.8 1730.3,1096.7 1731.3,1097.6 1732.3,1097.0 1733.3,1098.0 1734.3,1099.0 1735.2,1098.9 1736.2,1099.1 1737.1,1099.5 1738.1,1100.2 1739.1,1099.6 1740.0,1100.4 1741.0,1099.7 1742.0,1100.9 1742.9,1101.5 1743.9,1100.5 1744.9,1102.2 1745.8,1102.5 1746.8,1101.8 1747.8,1102.2 1748.8,1102.3 1749.8,1102.4 1750.8,1101.4 1751.8,1102.8 1752.8,1101.2 1753.7,1102.7 1754.7,1102.0 1755.7,1102.8 1756.7,1102.1 1757.7,1102.9 1758.7,1102.3 1759.7,1102.8 1760.7,1101.8 1761.7,1102.9 1762.7,1103.7 1763.7,1102.4 1764.7,1104.0 1765.7,1102.9 1766.7,1102.9 1767.7,1103.1 1768.7,1104.2 1769.7,1103.2 1770.7,1103.6 1771.7,1103.2 1772.7,1103.6 1773.7,1103.3 1774.7,1104.3 1775.7,1105.0 1776.7,1104.5 1777.7,1104.8 1778.7,1104.6 1779.7,1103.5 1780.7,1104.4 1781.7,1104.3 1782.7,1104.6 1783.7,1104.1 1784.7,1104.0 1785.7,1103.9 1786.7,1103.8 1787.7,1104.8 1788.7,1104.0 1789.7,1104.9 1790.7,1103.9 1791.7,1104.2 1792.7,1104.0 1793.7,1104.9 1794.7,1104.6 1795.7,1104.5 1796.7,1104.5 1797.6,1105.5 1798.6,1105.0 1799.6,1105.3 1800.6,1105.5 1801.6,1106.9 1802.6,1106.2 1803.6,1107.2 1804.6,1107.0 1805.6,1105.6 1806.6,1106.8 1807.6,1105.3 1808.6,1105.4 1809.6,1105.2 1810.6,1105.3 1811.6,1105.2 1812.6,1106.1 1813.6,1105.1 1814.6,1105.9 1815.6,1104.5 1816.6,1105.9 1817.6,1105.1 1818.6,1104.7 1819.6,1104.9 1820.6,1105.1 1821.6,1103.6 1822.6,1104.8 1823.5,1104.6 1824.5,1103.5 1825.5,1103.7 1826.5,1103.9 1827.5,1104.4 1828.5,1105.1 1829.4,1105.3 1830.4,1104.7 1831.4,1104.7 1832.3,1105.7 1833.3,1105.9 1834.3,1106.3 1835.3,1105.8 1836.3,1106.8 1837.3,1106.6 1838.3,1106.6 1839.3,1107.1 1840.3,1106.6 1841.3,1105.6 1842.3,1107.0 1843.3,1106.6 1844.3,1106.2 1845.3,1106.9 1846.3,1107.4 1847.3,1106.4"/>
<polyline class="cv" stroke="#ff0000" points="378.8,157.1 379.7,157.7 380.7,156.9 381.6,157.0 382.6,156.9 383.5,155.9 384.5,156.6 385.4,156.4 386.4,155.9 387.4,156.0 388.3,155.1 389.3,154.6 390.2,153.7 391.2,154.9 392.2,155.4 393.2,154.0 394.2,154.2 395.2,154.5 396.1,155.8 397.1,156.0 398.1,156.2 399.1,156.4 400.1,156.5 401.1,156.8 402.1,156.0 403.1,156.5 404.1,156.8 405.1,157.3 406.1,157.0 407.1,156.5 408.1,156.6 409.1,156.2 410.1,156.6 411.1,157.4 412.0,156.8 413.0,158.7 414.0,157.2 415.0,157.8 416.0,158.0 417.0,157.8 418.0,157.9 419.0,157.3 419.9,158.2 420.9,158.5 421.9,158.8 422.9,158.1 423.9,158.6 424.9,160.0 425.9,158.7 426.9,159.5 427.8,159.7 428.8,160.2 429.8,160.8 430.8,161.3 431.8,161.1 432.8,160.3 433.7,160.2 434.7,161.5 435.7,160.6 436.7,160.4 437.7,161.3 438.7,160.7 439.7,160.4 440.7,161.6 441.7,161.3 442.7,161.3 443.7,160.7 444.7,162.4 445.7,161.8 446.7,162.4 447.7,161.7 448.7,162.2 449.7,161.7 450.7,163.0 451.7,162.7 452.7,163.0 453.7,163.2 454.7,162.6 455.7,163.1 456.7,162.8 457.7,162.0 458.7,162.4 459.7,162.0 460.7,162.6 461.7,161.9 462.7,163.0 463.7,162.5 464.7,161.9 465.7,162.4 466.7,162.6 467.7,162.6 468.7,162.1 469.7,160.8 470.7,161.3 471.7,162.4 472.7,161.0 473.7,162.1 474.7,161.1 475.7,162.2 476.7,161.4 477.7,162.5 478.7,161.4 479.7,161.3 480.7,161.4 481.7,161.7 482.7,161.8 483.7,161.6 484.7,161.0 485.7,161.6 486.7,161.5 487.7,162.2 488.6,162.9 489.6,162.5 490.6,162.1 491.6,163.1 492.6,162.1 493.6,162.0 494.5,163.4 495.5,163.5 496.5,163.1 497.5,162.9 498.4,163.2 499.4,163.3 500.4,163.2 501.4,164.0 502.3,164.8 503.3,164.6 504.3,164.6 505.2,164.6 506.2,164.9 507.2,166.4 508.1,167.0 509.1,167.4 510.1,166.5 511.1,167.1 512.1,167.0 513.0,166.7 514.0,167.3 515.0,167.1 516.0,168.5 517.0,168.3 518.0,168.3 519.0,167.5 520.0,167.7 521.0,167.8 522.0,168.7 523.0,168.8 523.9,169.3 524.9,168.8 525.9,168.7 526.9,168.1 527.9,168.4 528.8,168.7 529.8,168.2 530.8,167.1 531.8,168.3 532.8,167.2 533.8,166.3 534.7,167.6 535.7,166.5 536.7,166.2 537.7,166.9 538.7,167.0 539.7,166.3 540.7,166.7 541.7,168.4 542.7,167.1 543.7,166.8 544.6,168.4 545.6,167.9 546.6,168.2 547.6,168.1 548.6,167.4 549.6,167.5 550.6,168.6 551.6,168.6 552.6,169.1 553.6,168.4 554.6,168.4 555.6,168.5 556.6,169.8 557.6,170.1 558.6,170.1 559.6,169.1 560.6,169.5 561.6,169.6 562.6,168.5 563.6,169.6 564.6,169.8 565.6,168.3 566.6,169.1 567.6,168.5 568.6,169.6 569.6,169.4 570.6,170.5 571.6,169.7 572.6,169.9 573.6,170.5 574.6,170.5 575.6,171.1 576.6,169.5 577.5,171.2 578.5,169.9 579.5,170.2 580.5,170.9 581.5,169.8 582.5,170.8 583.5,171.1 584.5,170.9 585.5,171.3 586.5,171.7 587.5,171.9 588.4,171.5 589.4,171.0 590.4,171.8 591.4,172.2 592.4,171.4 593.4,172.5 594.4,172.4 595.4,172.7 596.4,173.4 597.4,173.2 598.4,172.8 599.4,172.6 600.4,172.2 601.4,173.0 602.4,173.3 603.4,173.4 604.4,173.2 605.4,172.2 606.4,172.0 607.4,173.1 608.4,173.0 609.4,171.8 610.4,173.1 611.3,171.5 612.3,172.2 613.3,172.1 614.2,170.7 615.2,171.2 616.2,170.1 617.2,171.4 618.2,171.0 619.2,170.8 620.1,170.6 621.1,171.3 622.1,172.9 623.1,172.4 624.1,172.5 625.1,173.3 626.1,173.4 627.1,173.0 628.1,173.9 629.1,173.9 630.0,174.6 631.0,174.6 632.0,174.8 633.0,173.7 634.0,174.6 635.0,174.4 636.0,174.0 637.0,173.9 638.0,174.2 639.0,174.4 640.0,175.2 641.0,175.0 642.0,174.3 643.0,174.6 644.0,174.0 645.0,174.2 646.0,175.7 647.0,174.3 648.0,174.9 649.0,174.9 649.9,173.9 650.9,174.4 651.9,174.0 652.8,174.0 653.8,174.2 654.8,174.0 655.8,174.2 656.8,174.2 657.8,174.9 658.8,174.4 659.8,174.2 660.8,174.3 661.8,175.0 662.8,175.1 663.8,173.8 664.8,174.6 665.8,174.8 666.8,174.9 667.8,175.5 668.7,175.4 669.7,174.7 670.7,176.2 671.7,174.9 672.7,176.2 673.7,176.4 674.7,175.8 675.7,176.0 676.7,175.2 677.7,176.4 678.7,176.6 679.7,175.4 680.7,175.6 681.7,176.5 682.7,175.5 683.7,175.5 684.7,176.1 685.7,176.4 686.7,176.7 687.7,176.3 688.7,176.4 689.7,175.4 690.7,175.2 691.7,174.6 692.7,174.8 693.6,173.8 694.6,174.8 695.6,174.5 696.6,174.7 697.6,174.7 698.6,174.8 699.6,174.9 700.6,174.2 701.6,174.4 702.6,175.2 703.6,174.7 704.6,174.2 705.6,173.7 706.6,173.9 707.5,173.1 708.5,172.4 709.5,172.8 710.5,172.1 711.5,172.0 712.5,171.5 713.5,172.7 714.5,171.8 715.5,171.4 716.5,172.1 717.5,172.2 718.5,171.2 719.5,172.1 720.5,171.5 721.5,172.5 722.5,171.6 723.5,172.2 724.5,173.0 725.5,172.1 726.5,172.5 727.5,171.2 728.5,171.1 729.5,172.4 730.5,171.5 731.5,172.5 732.5,171.7 733.5,172.1 734.5,172.6 735.5,172.1 736.5,172.8 737.5,172.7 738.5,173.1 739.5,173.0 740.5,172.7 741.5,173.2 742.5,173.6 743.4,173.1 744.4,174.1 745.4,173.3 746.4,173.7 747.3,174.9 748.3,174.9 749.3,175.3 750.2,175.0 751.2,174.8 752.2,175.8 753.2,175.1 754.2,175.0 755.2,174.6 756.2,174.0 757.2,174.4 758.2,174.8 759.2,173.5 760.2,174.7 761.2,174.8 762.2,174.4 763.2,175.6 764.2,174.4 765.2,174.9 766.2,175.7 767.2,175.6 768.2,175.4 769.2,176.3 770.2,175.9 771.1,176.3 772.1,176.7 773.1,176.9 774.1,176.9 775.1,176.8 776.1,175.9 777.1,176.0 778.1,175.8 779.1,176.9 780.1,176.1 781.1,176.1 782.1,176.8 783.1,175.6 784.1,176.1 785.1,175.2 786.1,175.7 787.1,176.2 788.1,175.5 789.1,175.7 790.1,176.1 791.1,175.2 792.1,175.3 793.1,175.3 794.1,175.0 795.1,174.6 796.1,174.1 797.1,175.1 798.1,174.2 799.1,175.0 800.1,174.3 801.1,174.1 802.1,174.3 803.1,174.9 804.1,174.9 805.1,175.7 806.1,174.7 807.1,174.5 808.1,175.8 809.1,175.6 810.1,175.8 811.1,174.9 812.1,175.5 813.1,175.9 814.1,174.2 815.1,173.7 816.1,175.0 817.1,174.9 818.1,175.0 819.1,173.8 820.1,173.3 821.1,173.6 822.1,174.3 822.5,174.8 823.3,174.9 824.3,175.2 825.3,173.6 826.3,175.2 827.3,175.2 828.3,175.2 829.3,175.1 830.3,175.3 831.3,174.1 832.3,174.5 833.3,175.3 834.3,175.6 835.3,175.3 836.3,175.5 837.3,175.9 838.3,174.6 839.3,174.1 840.3,175.6 841.3,175.4 842.3,174.0 843.3,175.3 844.2,175.4 845.2,174.6 846.2,174.6 847.2,174.3 848.2,175.1 849.2,173.4 850.2,174.0 851.2,174.7 852.2,174.9 853.1,173.9 854.1,174.7 855.1,175.2 856.0,175.5 857.0,175.0 858.0,175.9 859.0,176.3 859.9,176.6 860.9,176.7 861.9,177.0 862.8,177.1 863.8,177.8 864.7,176.9 865.7,178.3 866.6,177.4 867.6,178.5 868.5,178.5 869.5,178.9 870.4,180.0 871.4,179.1 872.3,179.5 873.3,180.3 874.2,181.4 875.2,181.0 876.2,181.7 877.2,182.5 878.2,182.4 879.2,182.4 880.2,182.5 881.2,181.2 882.2,181.7 883.2,181.8 884.2,181.1 885.2,181.5 886.2,180.4 887.2,181.0 888.2,180.8 889.1,180.8 890.0,181.3 891.0,182.5 891.9,183.5 892.9,183.1 893.8,183.1 894.8,183.9 895.7,183.5 896.7,184.7 897.6,184.2 898.6,185.0 899.5,185.0 900.4,185.2 901.2,185.3 902.1,186.1 902.9,188.0 903.8,187.3 904.6,188.2 905.4,189.7 906.3,189.3 907.1,190.0 907.9,190.8 908.8,192.0 909.6,192.2 910.4,193.4 911.3,193.2 912.1,194.3 913.0,194.4 914.0,194.7 914.9,193.9 915.9,195.5 916.8,195.3 917.8,195.7 918.7,196.0 919.7,195.5 920.6,195.5 921.6,196.5 922.5,197.3 923.5,196.6 924.4,198.2 925.4,198.2 926.3,198.5 927.3,198.0 928.2,199.7 929.2,199.1 930.1,200.4 930.9,200.0 931.8,200.4 932.6,201.0 933.4,202.5 934.3,202.2 935.1,202.6 935.9,203.6 936.7,205.1 937.6,204.6 938.4,204.6 939.2,205.9 940.1,206.6 940.8,206.9 941.6,208.5 942.3,209.1 943.1,209.0 943.8,209.3 944.6,209.9 945.3,211.4 946.1,211.2 946.8,213.0 947.6,214.0 948.3,213.1 949.1,215.2 949.8,215.2 950.5,215.0 951.2,217.1 951.8,217.6 952.4,218.3 953.1,219.0 953.7,220.0 954.4,221.2 955.0,221.1 955.6,221.6 956.3,222.5 956.9,224.0 957.6,224.3 958.2,224.9 958.8,224.8 959.5,225.6 960.1,226.9 960.8,228.0 961.6,228.8 962.3,228.5 963.0,229.9 963.7,230.1 964.4,230.5 965.1,232.3 965.8,231.9 966.5,233.8 967.2,233.4 967.9,234.3 968.6,235.7 969.3,236.7 970.0,236.2 970.6,237.8 971.3,238.4 971.9,238.8 972.5,240.7 973.1,240.8 973.7,240.8 974.3,243.0 974.9,243.7 975.5,244.0 976.1,244.6 976.8,245.5 977.4,247.4 978.0,247.3 978.6,249.2 979.2,248.8 979.8,249.8 980.3,251.9 980.8,251.7 981.3,252.1 981.7,253.7 982.2,255.2 982.7,255.3 983.1,256.2 983.6,258.1 984.1,258.1 984.6,258.1 985.0,260.4 985.5,260.4 986.0,262.2 986.4,262.1 986.9,262.9 987.4,263.5 987.9,264.3 988.3,265.3 988.8,266.6 989.3,267.9 989.7,267.4 990.2,268.0 990.6,268.8 991.0,270.9 991.3,271.2 991.7,272.7 992.1,272.4 992.5,274.2 992.9,275.6 993.3,276.2 993.7,276.3 994.1,278.2 994.4,279.4 994.8,279.7 995.2,280.5 995.6,281.4 996.0,283.3 996.4,284.1 996.8,284.2 997.2,285.5 997.6,285.7 997.9,288.4 998.3,289.1 998.7,289.4 999.1,289.5 999.5,290.9 999.9,291.4 1000.2,292.9 1000.5,293.8 1000.9,294.3 1001.2,295.3 1001.5,296.5 1001.8,298.9 1002.1,299.5 1002.4,300.7 1002.8,300.4 1003.1,302.7 1003.4,302.8 1003.7,303.6 1004.0,304.0 1004.3,304.9 1004.7,307.1 1005.0,307.0 1005.3,309.2 1005.6,309.0 1005.9,309.7 1006.2,310.7 1006.6,312.2 1006.9,313.9 1007.2,314.7 1007.5,315.6 1007.8,315.6 1008.1,317.8 1008.5,318.3 1008.8,319.1 1009.1,319.8 1009.4,321.7 1009.7,321.6 1010.0,323.2 1010.4,323.2 1010.8,325.3 1011.2,325.4 1011.5,325.5 1011.9,327.4 1012.3,327.0 1012.6,327.9 1013.0,329.5 1013.4,330.9 1013.8,331.1 1014.1,331.7 1014.5,334.1 1014.9,334.4 1015.2,336.1 1015.6,336.0 1016.0,338.8 1016.4,339.0 1016.7,339.8 1017.1,341.1 1017.5,341.5 1017.8,342.7 1018.2,344.1 1018.6,343.8 1019.0,344.8 1019.3,345.9 1019.7,346.6 1020.1,348.3 1020.4,349.0 1020.8,350.3 1021.2,351.3 1021.6,351.0 1021.9,351.9 1022.3,353.0 1022.7,354.3 1023.1,356.3 1023.4,355.6 1023.8,357.1 1024.2,357.9 1024.5,359.3 1024.9,360.2 1025.3,361.1 1025.7,361.4 1026.0,363.5 1026.4,363.2 1026.8,365.3 1027.1,365.4 1027.5,367.0 1027.9,367.6 1028.3,368.4 1028.6,369.9 1029.0,369.7 1029.4,372.2 1029.7,372.8 1030.1,372.9 1030.5,373.7 1030.9,374.8 1031.2,376.2 1031.6,376.8 1032.0,376.9 1032.3,377.9 1032.7,379.0 1033.1,380.7 1033.5,381.4 1033.8,382.0 1034.2,382.3 1034.6,383.6 1034.9,384.0 1035.3,384.7 1035.7,386.7 1036.1,387.7 1036.4,387.6 1036.8,389.2 1037.2,389.7 1037.5,391.7 1037.9,392.0 1038.3,392.9 1038.7,393.8 1039.0,395.8 1039.4,396.6 1039.8,396.3 1040.1,398.1 1040.5,399.5 1040.8,400.3 1041.2,400.2 1041.5,401.8 1041.8,402.4 1042.2,404.2 1042.5,405.0 1042.9,404.6 1043.2,407.0 1043.6,406.8 1043.9,407.8 1044.2,409.3 1044.6,409.5 1044.9,411.6 1045.3,411.8 1045.6,413.6 1046.0,413.9 1046.3,415.7 1046.6,416.2 1047.0,417.1 1047.3,417.6 1047.7,419.8 1048.0,420.5 1048.3,420.7 1048.7,421.2 1049.0,422.5 1049.4,424.4 1049.7,423.9 1050.1,424.8 1050.5,425.7 1050.9,426.8 1051.3,428.1 1051.8,429.1 1052.2,429.7 1052.6,431.4 1053.1,430.9 1053.5,432.6 1053.9,433.5 1054.3,434.4 1054.8,435.7 1055.2,435.8 1055.6,436.4 1056.0,438.1 1056.5,438.9 1056.9,439.1 1057.3,439.8 1057.7,440.6 1058.2,441.8 1058.6,443.1 1059.0,445.1 1059.4,444.5 1059.9,446.9 1060.2,447.8 1060.6,448.7 1060.9,448.9 1061.2,450.4 1061.5,451.1 1061.9,452.4 1062.2,451.9 1062.5,452.6 1062.9,455.0 1063.2,454.9 1063.5,456.0 1063.8,457.9 1064.2,457.9 1064.5,459.2 1064.8,460.0 1065.2,460.9 1065.5,462.2 1065.8,463.7 1066.2,463.7 1066.5,464.2 1066.8,466.2 1067.1,465.7 1067.5,467.8 1067.8,468.8 1068.1,468.3 1068.5,469.8 1068.8,470.7 1069.1,472.1 1069.4,473.2 1069.8,474.3 1070.1,475.7 1070.4,475.3 1070.8,476.4 1071.1,477.0 1071.5,478.0 1071.8,480.6 1072.2,481.5 1072.5,482.3 1072.8,483.0 1073.2,482.9 1073.5,483.9 1073.9,486.1 1074.2,487.3 1074.5,486.9 1074.9,488.1 1075.2,490.6 1075.5,491.4 1075.8,492.6 1076.1,493.4 1076.4,493.3 1076.7,494.8 1077.0,495.5 1077.3,496.1 1077.6,497.6 1077.8,497.7 1078.1,499.3 1078.4,500.9 1078.7,500.1 1079.0,502.0 1079.3,503.0 1079.6,504.4 1079.9,505.4 1080.3,505.3 1080.6,505.7 1081.0,507.5 1081.4,507.8 1081.7,508.7 1082.1,509.9 1082.5,511.6 1082.9,512.0 1083.2,513.7 1083.6,513.7 1084.0,515.8 1084.3,516.3 1084.7,517.9 1085.1,518.4 1085.5,519.5 1085.8,520.1 1086.2,520.3 1086.6,520.9 1086.9,521.9 1087.3,522.7 1087.7,523.5 1088.1,525.5 1088.4,525.8 1088.8,526.7 1089.2,527.5 1089.5,527.8 1089.9,529.1 1090.3,531.0 1090.6,531.0 1090.9,532.5 1091.3,533.6 1091.6,533.9 1091.9,534.9 1092.2,535.8 1092.6,537.2 1092.9,538.0 1093.2,540.0 1093.6,540.4 1093.9,540.8 1094.2,542.3 1094.6,542.9 1094.9,544.0 1095.2,545.0 1095.6,545.9 1095.9,546.7 1096.2,547.7 1096.5,547.9 1096.9,550.1 1097.2,550.0 1097.5,551.7 1097.9,552.0 1098.2,554.0 1098.5,553.9 1098.8,556.0 1099.1,556.8 1099.4,558.0 1099.7,558.7 1100.0,559.9 1100.3,559.9 1100.6,561.6 1100.9,561.7 1101.1,563.7 1101.4,564.3 1101.7,564.4 1102.0,566.1 1102.3,566.8 1102.6,567.7 1102.9,569.2 1103.2,568.8 1103.4,569.9 1103.7,571.3 1104.0,572.2 1104.3,573.7 1104.6,575.4 1104.9,575.4 1105.2,575.7 1105.5,577.4 1105.7,577.5 1106.0,578.4 1106.3,579.3 1106.5,580.7 1106.7,581.4 1106.9,582.8 1107.1,583.4 1107.3,585.2 1107.5,585.7 1107.7,587.8 1107.9,588.0 1108.1,588.4 1108.3,589.1 1108.5,591.0 1108.7,592.4 1108.9,592.4 1109.0,593.2 1109.2,594.6 1109.4,595.2 1109.6,596.7 1109.8,598.3 1110.0,599.2 1110.2,599.2 1110.4,599.8 1110.6,600.9 1110.8,602.3 1111.0,603.6 1111.2,605.0 1111.4,605.3 1111.7,606.8 1111.9,607.1 1112.2,608.6 1112.4,608.8 1112.7,610.0 1112.9,611.2 1113.1,613.0 1113.4,613.1 1113.6,614.5 1113.9,615.7 1114.1,616.0 1114.4,617.3 1114.6,619.2 1114.8,619.1 1115.1,620.2 1115.3,621.4 1115.6,623.1 1115.8,623.4 1116.1,623.4 1116.3,625.4 1116.5,626.5 1116.8,626.1 1117.0,628.0 1117.3,629.0 1117.5,629.5 1117.7,629.9 1117.8,632.1 1118.0,633.0 1118.2,634.2 1118.3,634.2 1118.5,635.9 1118.7,636.1 1118.8,636.6 1119.0,638.3 1119.2,639.6 1119.3,640.7 1119.5,642.5 1119.7,643.6 1119.9,643.5 1120.0,644.8 1120.2,646.3 1120.4,648.1 1120.5,648.0 1120.7,648.8 1120.9,649.9 1121.0,652.0 1121.2,652.2 1121.4,653.8 1121.5,653.6 1121.7,654.8 1121.9,656.4 1122.1,656.4 1122.2,657.2 1122.4,658.8 1122.6,659.4 1122.8,660.0 1122.9,661.3 1123.1,662.3 1123.3,663.8 1123.5,665.2 1123.6,666.2 1123.8,666.7 1124.0,666.8 1124.2,668.4 1124.4,668.5 1124.5,669.9 1124.7,671.5 1124.9,673.0 1125.1,672.5 1125.2,674.4 1125.4,674.4 1125.6,675.4 1125.8,676.4 1126.0,677.8 1126.1,678.5 1126.3,679.9 1126.5,680.5 1126.7,682.5 1126.9,682.5 1127.1,684.9 1127.3,686.0 1127.5,686.8 1127.7,687.2 1127.9,688.5 1128.1,688.9 1128.3,690.0 1128.5,692.3 1128.7,692.3 1128.9,693.4 1129.1,693.8 1129.3,694.8 1129.5,695.5 1129.6,696.4 1129.8,697.8 1130.0,699.7 1130.2,699.8 1130.4,701.6 1130.6,701.7 1130.8,702.5 1131.0,704.1 1131.2,704.7 1131.4,705.8 1131.6,706.3 1131.8,707.4 1132.0,708.7 1132.2,709.1 1132.4,709.9 1132.6,711.0 1132.8,712.4 1133.0,713.2 1133.2,714.4 1133.4,715.2 1133.6,716.1 1133.8,717.4 1134.0,718.0 1134.2,718.8 1134.4,720.7 1134.6,720.7 1134.8,722.5 1134.9,722.7 1135.1,725.0 1135.3,725.0 1135.5,726.3 1135.7,727.3 1135.9,728.9 1136.1,729.2 1136.3,731.2 1136.5,730.8 1136.7,732.1 1136.9,733.7 1137.1,733.7 1137.3,735.8 1137.5,735.4 1137.7,737.2 1137.9,738.2 1138.1,740.3 1138.3,741.0 1138.5,741.4 1138.7,742.3 1138.9,743.6 1139.1,745.2 1139.3,745.9 1139.5,746.0 1139.7,746.2 1139.9,747.1 1140.1,749.7 1140.2,750.4 1140.4,751.8 1140.6,753.0 1140.8,752.8 1141.0,754.4 1141.2,754.3 1141.4,756.6 1141.6,756.3 1141.8,758.4 1141.9,759.6 1142.1,759.7 1142.3,760.3 1142.5,762.2 1142.7,762.9 1142.8,764.1 1143.0,765.3 1143.2,766.5 1143.4,767.1 1143.5,767.6 1143.7,769.0 1143.9,769.4 1144.1,770.2 1144.2,771.8 1144.4,773.1 1144.6,773.3 1144.8,775.7 1145.0,776.3 1145.1,776.7 1145.3,777.6 1145.5,778.8 1145.7,779.4 1145.9,781.4 1146.0,781.9 1146.2,783.2 1146.4,783.6 1146.6,785.1 1146.8,784.6 1147.0,785.5 1147.2,787.3 1147.4,787.7 1147.6,788.9 1147.8,789.9 1148.0,791.2 1148.2,793.3 1148.4,793.0 1148.6,793.9 1148.8,795.0 1149.0,796.8 1149.2,797.6 1149.4,799.1 1149.6,800.0 1149.8,800.0 1150.0,800.5 1150.2,801.6 1150.4,803.6 1150.6,803.6 1150.8,805.8 1150.9,807.0 1151.1,807.0 1151.2,808.2 1151.4,809.4 1151.6,810.7 1151.7,811.2 1151.9,812.9 1152.0,813.1 1152.2,814.2 1152.4,815.3 1152.5,815.3 1152.7,816.5 1152.9,817.4 1153.0,819.3 1153.2,820.5 1153.3,821.3 1153.5,822.6 1153.7,822.6 1153.8,824.2 1154.0,824.9 1154.1,825.7 1154.3,827.3 1154.5,827.6 1154.6,829.4 1154.8,829.6 1154.9,831.0 1155.1,832.4 1155.3,832.2 1155.4,833.6 1155.6,835.6 1155.7,836.1 1155.9,836.5 1156.1,836.6 1156.2,839.0 1156.5,839.9 1156.8,839.7 1157.1,840.5 1157.4,842.8 1157.7,842.9 1158.0,844.9 1158.3,844.8 1158.6,846.9 1158.9,847.7 1159.2,848.4 1159.5,850.0 1159.7,851.1 1160.0,851.2 1160.3,852.4 1160.6,854.3 1160.9,854.0 1161.2,855.4 1161.5,855.7 1161.7,857.8 1162.0,857.6 1162.2,859.1 1162.4,859.5 1162.7,859.7 1162.9,861.6 1163.2,862.0 1163.4,862.6 1163.7,864.8 1163.9,865.0 1164.1,867.1 1164.4,867.5 1164.6,868.8 1164.9,869.8 1165.1,870.9 1165.4,871.4 1165.6,872.1 1165.8,873.0 1166.1,874.4 1166.3,875.4 1166.6,876.1 1166.8,876.5 1167.1,878.0 1167.3,878.8 1167.5,879.0 1167.7,881.2 1167.9,882.5 1168.1,882.9 1168.3,884.3 1168.5,885.3 1168.7,885.8 1168.9,886.4 1169.1,886.5 1169.3,888.5 1169.5,890.3 1169.7,890.7 1169.9,891.3 1170.1,893.5 1170.3,893.7 1170.5,894.8 1170.7,896.7 1170.9,896.9 1171.1,898.0 1171.3,899.5 1171.5,899.3 1171.7,900.4 1171.8,902.4 1172.0,902.2 1172.2,903.8 1172.4,905.5 1172.6,906.2 1172.8,907.3 1173.0,907.0 1173.2,908.0 1173.3,909.8 1173.5,910.5 1173.7,911.2 1173.9,911.5 1174.0,913.2 1174.2,913.1 1174.4,915.1 1174.6,917.2 1174.7,917.1 1174.9,919.1 1175.1,919.8 1175.3,920.3 1175.5,922.2 1175.6,922.6 1175.8,924.1 1176.0,924.4 1176.2,926.6 1176.3,926.8 1176.5,928.1 1176.7,928.1 1176.9,929.0 1177.1,929.6 1177.2,930.8 1177.4,931.8 1177.6,933.5 1177.8,933.8 1178.0,935.3 1178.2,935.6 1178.4,936.7 1178.6,937.9 1178.7,939.3 1178.9,939.1 1179.1,940.5 1179.3,942.4 1179.5,942.3 1179.7,944.3 1179.9,945.3 1180.0,946.0 1180.2,946.8 1180.4,948.4 1180.6,949.3 1180.8,948.9 1181.0,951.1 1181.2,951.2 1181.4,951.6 1181.5,954.0 1181.7,953.6 1181.9,955.0 1182.1,956.9 1182.3,957.8 1182.5,959.1 1182.8,958.7 1183.0,961.6 1183.2,961.9 1183.4,963.7 1183.6,964.1 1183.8,964.6 1184.0,965.2 1184.2,967.4 1184.4,967.0 1184.6,969.5 1184.8,969.1 1185.0,971.0 1185.2,972.2 1185.4,972.8 1185.6,974.2 1185.8,974.2 1186.0,975.4 1186.3,977.3 1186.5,977.0 1186.7,979.5 1186.9,980.6 1187.1,980.6 1187.3,982.2 1187.5,982.1 1187.7,983.6 1187.9,984.4 1188.2,985.5 1188.4,986.4 1188.6,987.9 1188.8,989.0 1189.0,989.8 1189.2,990.1 1189.4,990.7 1189.7,992.8 1189.9,993.6 1190.1,993.8 1190.3,995.1 1190.5,996.5 1190.7,996.2 1190.9,997.4 1191.2,998.5 1191.4,998.9 1191.6,1000.3 1191.8,1001.2 1192.0,1001.7 1192.2,1002.8 1192.5,1005.0 1192.7,1005.4 1192.9,1007.0 1193.2,1008.0 1193.4,1008.9 1193.7,1008.8 1193.9,1010.1 1194.1,1011.0 1194.4,1012.0 1194.6,1012.9 1194.9,1015.3 1195.1,1016.2 1195.4,1016.5 1195.6,1017.1 1195.8,1019.0 1196.1,1019.5 1196.3,1019.4 1196.6,1021.2 1196.8,1022.1 1197.1,1022.9 1197.3,1023.3 1197.5,1025.3 1197.8,1026.0 1198.0,1026.2 1198.3,1027.8 1198.5,1029.5 1198.8,1029.5 1199.0,1031.4 1199.3,1031.7 1199.6,1033.4 1199.9,1034.1 1200.2,1035.3 1200.5,1037.2 1200.8,1037.7 1201.1,1037.8 1201.3,1037.8 1201.6,1040.3 1201.9,1040.4 1202.2,1041.9 1202.5,1042.7 1202.8,1044.2 1203.1,1043.9 1203.4,1045.7 1203.6,1047.1 1203.9,1047.7 1204.2,1047.6 1204.5,1048.0 1204.8,1049.3 1205.1,1050.3 1205.4,1051.7 1205.7,1053.7 1205.9,1054.4 1206.2,1054.5 1206.6,1055.8 1206.9,1056.3 1207.3,1057.7 1207.6,1058.6 1208.0,1059.1 1208.3,1061.3 1208.7,1061.3 1209.0,1062.6 1209.4,1062.9 1209.7,1064.5 1210.1,1064.9 1210.5,1066.0 1210.8,1066.1 1211.2,1067.1 1211.5,1068.4 1211.9,1070.4 1212.2,1071.0 1212.6,1071.7 1212.9,1071.7 1213.3,1073.3 1213.6,1075.1 1214.0,1075.9 1214.4,1076.3 1214.8,1077.8 1215.2,1078.1 1215.6,1079.3 1216.0,1080.7 1216.4,1081.7 1216.8,1082.7 1217.2,1083.2 1217.6,1083.7 1218.0,1084.5 1218.4,1085.1 1218.8,1086.7 1219.2,1087.2 1219.6,1087.3 1220.0,1089.1 1220.4,1090.4 1220.8,1091.5 1221.2,1091.3 1221.6,1093.1 1222.0,1094.2 1222.4,1095.0 1222.9,1095.6 1223.3,1095.7 1223.8,1097.3 1224.2,1098.3 1224.7,1099.8 1225.1,1099.7 1225.5,1100.9 1226.0,1102.2 1226.4,1103.9 1226.9,1104.5 1227.3,1104.1 1227.8,1105.2 1228.2,1106.8 1228.7,1108.3 1229.1,1108.0 1229.6,1108.4 1230.0,1110.3 1230.5,1110.5 1230.9,1111.8 1231.4,1112.4 1231.8,1113.1 1232.3,1115.3 1232.8,1114.6 1233.5,1115.8 1234.2,1116.4 1235.0,1117.6 1235.7,1118.9 1236.4,1118.9 1237.1,1118.7 1237.8,1119.8 1238.5,1120.9 1239.2,1122.2 1239.9,1121.6 1240.6,1123.2 1241.3,1123.0 1242.0,1124.4 1242.7,1125.7 1243.4,1125.4 1244.2,1126.1 1244.9,1127.6 1245.6,1128.4 1246.3,1129.4 1247.0,1128.6 1247.7,1129.5 1248.6,1130.7 1249.5,1130.3 1250.4,1130.3 1251.3,1132.0 1252.2,1131.3 1253.1,1132.0 1254.0,1133.3 1254.9,1133.6 1255.8,1134.6 1256.7,1134.3 1257.6,1134.5 1258.5,1136.0 1259.4,1135.1 1260.3,1135.3 1261.2,1136.2 1262.1,1136.5 1263.0,1137.4 1263.9,1138.4 1264.9,1137.7 1265.9,1138.2 1266.9,1137.9 1267.9,1137.0 1268.9,1137.7 1269.9,1136.8 1270.9,1137.1 1271.9,1138.5 1272.9,1138.0 1273.9,1137.5 1274.9,1138.1 1275.9,1139.1 1276.9,1137.7 1277.9,1138.1 1278.9,1139.1 1279.9,1138.7 1280.8,1139.6 1281.8,1140.4 1282.8,1139.4 1283.8,1139.8 1284.8,1140.5 1285.7,1140.5 1286.7,1140.0 1287.7,1141.1 1288.7,1140.2 1289.6,1141.4 1290.6,1142.0 1291.6,1141.6 1292.6,1142.4 1293.6,1141.8 1294.6,1142.4 1295.6,1141.0 1296.6,1142.2 1297.6,1142.5 1298.6,1142.0 1299.6,1143.0 1300.6,1142.2 1301.6,1142.8 1302.6,1141.5 1303.6,1142.5 1304.6,1142.6 1305.6,1142.4 1306.6,1142.9 1307.6,1141.5 1308.6,1141.2 1309.6,1142.2 1310.6,1141.4 1311.5,1142.4 1312.5,1142.1 1313.5,1142.4 1314.4,1143.3 1315.4,1143.7 1316.4,1144.1 1317.3,1144.4 1318.3,1143.9 1319.3,1144.4 1320.3,1144.8 1321.2,1145.2 1322.2,1145.1 1323.2,1144.5 1324.2,1144.4 1325.2,1145.2 1326.1,1145.0 1327.1,1145.1 1328.1,1143.4 1329.1,1144.7 1330.1,1143.0 1331.1,1143.4 1332.1,1142.9 1333.0,1142.5 1334.0,1143.3 1335.0,1143.1 1336.0,1143.9 1337.0,1143.8 1338.0,1143.6 1339.0,1144.1 1340.0,1143.6 1340.9,1144.6 1341.9,1144.4 1342.9,1144.6 1343.9,1144.4 1344.9,1144.0 1345.9,1144.0 1346.9,1144.8 1347.9,1144.3 1348.8,1145.5 1349.8,1144.9 1350.8,1146.0 1351.8,1145.2 1352.8,1144.5 1353.8,1145.4 1354.8,1146.7 1355.8,1146.0 1356.7,1145.7 1357.7,1147.2 1358.7,1147.1 1359.7,1147.3 1360.7,1147.7 1361.7,1147.4 1362.7,1147.0 1363.7,1146.5 1364.7,1147.9 1365.7,1147.4 1366.7,1146.2 1367.7,1147.4 1368.5,1147.4 1369.4,1148.2 1370.3,1148.6 1371.2,1148.8 1372.0,1150.7 1372.9,1150.3 1373.8,1151.7 1374.6,1152.1 1375.6,1151.5 1376.6,1150.6 1377.6,1151.2 1378.6,1151.2 1379.6,1151.7 1380.6,1151.6 1381.6,1151.8 1382.6,1150.5 1383.6,1150.6 1384.6,1150.8 1385.6,1152.1 1386.6,1152.1 1387.6,1150.7 1388.6,1151.9 1389.6,1151.3 1390.6,1152.4 1391.6,1152.4 1392.6,1152.8 1393.6,1152.0 1394.6,1152.2 1395.6,1152.1 1396.6,1151.3 1397.6,1152.0 1398.6,1151.0 1399.6,1152.3 1400.6,1150.4 1401.6,1151.3 1402.6,1151.2 1403.6,1150.2 1404.6,1152.0 1405.6,1150.2 1406.6,1151.4 1407.6,1151.7 1408.6,1150.7 1409.6,1151.5 1410.6,1151.7 1411.6,1151.3 1412.6,1152.7 1413.6,1152.1 1414.5,1152.9 1415.5,1153.1 1416.5,1153.4 1417.5,1152.8 1418.5,1152.1 1419.5,1153.3 1420.5,1152.6 1421.4,1153.0 1422.4,1153.9 1423.3,1153.0 1424.2,1154.7 1425.2,1153.3 1426.1,1154.5 1427.1,1155.1 1428.0,1154.0 1428.9,1155.9 1429.9,1155.4 1430.8,1155.8 1431.7,1157.5 1432.7,1156.8 1433.6,1158.9 1434.6,1158.0 1435.5,1159.6 1436.4,1158.8 1437.4,1159.5 1438.3,1160.0 1439.3,1159.1 1440.2,1160.0 1441.1,1158.8 1442.1,1158.4 1443.0,1157.8 1443.9,1157.1 1444.9,1156.7 1445.8,1156.6 1446.8,1157.2 1447.7,1156.0 1448.7,1155.5 1449.7,1155.6 1450.7,1156.6 1451.7,1156.2 1452.7,1155.7 1453.7,1156.6 1454.7,1155.9 1455.7,1157.0 1456.7,1157.1 1457.7,1155.9 1458.7,1156.9 1459.7,1156.9 1460.7,1157.3 1461.7,1156.4 1462.7,1156.2 1463.7,1156.0 1464.7,1156.7 1465.7,1156.2 1466.7,1156.1 1467.7,1155.8 1468.7,1156.6 1469.7,1157.2 1470.7,1157.1 1471.7,1156.2 1472.7,1156.6 1473.7,1157.3 1474.7,1155.8 1475.7,1157.2 1476.6,1157.1 1477.6,1157.4 1478.5,1157.9 1479.4,1158.3 1480.4,1159.4 1481.3,1159.7 1482.3,1159.0 1483.2,1160.3 1484.1,1160.1 1485.1,1159.8 1486.1,1159.9 1487.0,1159.7 1488.0,1160.6 1489.0,1160.7 1490.0,1160.7 1491.0,1161.3 1492.0,1161.1 1493.0,1161.2 1494.0,1162.3 1495.0,1162.1 1495.9,1162.2 1496.9,1161.2 1497.9,1161.4 1498.9,1161.5 1499.9,1163.0 1500.9,1161.6 1501.9,1162.0 1502.9,1162.0 1503.9,1162.0 1504.9,1162.0 1505.9,1161.0 1506.9,1161.7 1507.9,1162.4 1508.9,1161.8 1509.9,1160.8 1510.8,1160.9 1511.8,1161.1 1512.8,1161.8 1513.8,1161.1 1514.8,1162.0 1515.8,1161.7 1516.8,1162.1 1517.8,1162.7 1518.8,1163.2 1519.7,1161.6 1520.7,1162.0 1521.6,1162.4 1522.5,1161.9 1523.5,1161.3 1524.4,1159.7 1525.4,1160.6 1526.3,1160.0 1527.2,1158.8 1528.2,1158.9 1529.2,1159.4 1530.2,1159.1 1531.2,1160.1 1532.2,1160.6 1533.2,1159.3 1534.1,1160.9 1535.1,1159.5 1536.1,1161.0 1537.1,1160.7 1538.1,1159.8 1539.1,1161.5 1540.1,1161.4 1541.1,1161.5 1542.1,1161.1 1543.1,1161.6 1544.1,1161.1 1545.1,1161.4 1546.1,1161.1 1547.1,1162.2 1548.1,1162.4 1549.1,1162.2 1550.1,1162.6 1551.1,1163.0 1552.1,1163.4 1553.0,1163.3 1554.0,1162.3 1555.0,1163.6 1556.0,1163.4 1557.0,1163.7 1558.0,1163.6 1559.0,1164.1 1560.0,1163.5 1561.0,1163.3 1562.0,1162.8 1563.0,1164.2 1564.0,1162.9 1565.0,1163.0 1566.0,1162.5 1567.0,1162.7 1568.0,1163.4 1569.0,1163.0 1570.0,1162.6 1571.0,1163.2 1572.0,1163.1 1573.0,1163.8 1574.0,1161.8 1575.0,1162.7 1576.0,1163.1 1577.0,1162.2 1578.0,1162.4 1578.9,1162.2 1579.9,1162.5 1580.8,1163.2 1581.8,1162.9 1582.8,1162.6 1583.7,1164.7 1584.7,1163.7 1585.6,1164.8 1586.6,1164.2 1587.5,1164.9 1588.5,1164.7 1589.4,1163.7 1590.3,1164.8 1591.2,1163.1 1592.2,1163.0 1593.1,1163.4 1594.0,1163.8 1594.9,1162.3 1595.8,1162.3 1596.7,1162.8 1597.5,1163.4 1598.4,1165.3 1599.2,1165.2 1600.1,1165.6 1601.0,1165.4 1602.0,1165.9 1603.0,1166.0 1604.0,1166.6 1605.0,1166.0 1606.0,1167.0 1607.0,1166.4 1608.0,1166.9 1609.0,1166.4 1610.0,1167.3 1610.9,1166.7 1611.9,1167.9 1612.9,1166.8 1613.9,1167.5 1614.9,1167.3 1615.9,1167.0 1616.9,1166.6 1617.9,1167.1 1618.9,1167.5 1619.9,1168.5 1620.9,1167.6 1621.9,1168.3 1622.9,1167.4 1623.9,1168.5 1624.9,1168.4 1625.9,1168.3 1626.9,1167.9 1627.9,1169.0 1628.9,1168.4 1629.9,1168.6 1630.9,1168.7 1631.9,1169.1 1632.9,1167.9 1633.9,1168.7 1634.9,1168.1 1635.9,1168.8 1636.9,1169.5 1637.9,1168.4 1638.9,1168.4 1639.9,1168.7 1640.9,1170.4 1641.9,1170.2 1642.9,1169.1 1643.9,1168.8 1644.9,1170.2 1645.9,1169.0 1646.9,1169.7 1647.9,1169.7 1648.9,1169.1 1649.9,1170.1 1650.9,1170.7 1651.9,1169.5 1652.9,1169.8 1653.9,1171.0 1654.9,1170.3 1655.9,1169.7 1656.9,1171.2 1657.9,1171.1 1658.9,1169.6 1659.9,1170.2 1660.9,1170.2 1661.9,1169.7 1662.9,1170.4 1663.9,1169.9 1664.9,1170.5 1665.9,1170.4 1666.9,1170.9 1667.8,1170.6 1668.8,1171.5 1669.8,1171.9 1670.8,1171.6 1671.8,1172.2 1672.8,1171.1 1673.8,1172.5 1674.8,1171.4 1675.7,1172.8 1676.6,1172.7 1677.6,1173.1 1678.5,1174.3 1679.4,1174.9 1680.3,1174.5 1681.2,1175.2 1682.1,1175.8 1683.0,1175.8 1684.0,1175.9 1684.9,1175.8 1685.9,1175.8 1686.9,1175.4 1687.9,1175.4 1688.9,1175.7 1689.9,1176.5 1690.8,1176.6 1691.8,1176.9 1692.8,1177.4 1693.8,1177.3 1694.8,1177.0 1695.8,1178.2 1696.8,1178.6 1697.8,1178.3 1698.8,1178.0 1699.8,1177.7 1700.8,1178.4 1701.8,1178.1 1702.8,1178.1 1703.8,1178.2 1704.8,1176.8 1705.8,1177.0 1706.8,1178.4 1707.8,1178.2 1708.8,1178.2 1709.7,1178.3 1710.6,1179.0 1711.5,1178.7 1712.4,1178.9 1713.3,1179.2 1714.2,1180.8 1715.1,1181.7 1716.0,1180.6 1716.9,1182.5 1717.8,1182.0 1718.8,1182.2 1719.8,1182.7 1720.7,1182.4 1721.7,1183.8 1722.7,1183.6 1723.7,1184.5 1724.7,1183.3 1725.7,1184.0 1726.6,1183.7 1727.6,1184.6 1728.7,1184.4 1729.7,1185.1 1730.7,1185.1 1731.7,1185.0 1732.7,1185.1 1733.7,1184.6 1734.7,1184.6 1735.7,1185.1 1736.7,1184.3 1737.7,1184.4 1738.7,1184.9 1739.6,1184.7 1740.6,1183.7 1741.6,1184.5 1742.6,1183.6 1743.6,1183.2 1744.5,1183.4 1745.5,1184.3 1746.5,1182.4 1747.5,1183.6 1748.5,1183.2 1749.5,1182.2 1750.4,1181.7 1751.4,1182.2 1752.4,1182.6 1753.4,1183.2 1754.4,1182.8 1755.4,1183.6 1756.4,1183.1 1757.4,1182.4 1758.4,1183.4 1759.4,1183.4 1760.4,1182.4 1761.4,1183.3 1762.4,1183.9 1763.4,1184.7 1764.4,1184.2 1765.4,1184.7 1766.4,1183.8 1767.4,1185.1 1768.4,1184.7 1769.4,1183.9 1770.4,1183.8 1771.4,1183.9 1772.4,1184.7 1773.4,1184.3 1774.3,1184.6 1775.3,1184.3 1776.3,1184.2 1777.3,1185.3 1778.3,1185.4 1779.3,1185.2 1780.3,1185.5 1781.3,1186.5 1782.3,1185.1 1783.2,1186.7 1784.1,1185.8 1784.9,1186.6 1785.8,1188.6 1786.7,1187.5 1787.6,1188.4 1788.4,1188.6 1789.4,1189.2 1790.4,1188.9 1791.4,1190.1 1792.3,1189.6 1793.3,1190.5 1794.3,1190.4 1795.3,1190.1 1796.3,1191.6 1797.3,1191.3 1798.3,1191.7 1799.3,1191.2 1800.3,1191.0 1801.3,1191.5 1802.3,1191.0 1803.3,1190.2 1804.3,1190.8 1805.3,1189.6 1806.3,1191.0 1807.3,1190.6 1808.3,1190.4 1809.3,1190.4 1810.3,1189.9 1811.3,1190.3 1812.2,1190.7 1813.2,1191.2 1814.2,1191.7 1815.2,1190.3 1816.2,1190.6 1817.2,1191.5 1818.2,1191.2 1819.2,1191.0 1820.2,1192.5 1821.2,1191.8 1822.2,1192.7 1823.2,1191.8 1824.2,1192.4 1825.2,1192.1 1826.1,1191.5 1827.1,1192.4 1828.1,1192.8 1829.1,1192.2 1830.1,1192.8 1831.1,1191.8 1832.1,1192.7 1833.1,1191.5 1834.1,1191.4 1835.1,1191.2 1836.1,1191.6 1837.1,1191.0 1838.0,1192.4 1838.9,1192.8 1839.8,1193.1 1840.7,1194.5 1841.6,1193.3 1842.5,1194.4 1843.4,1195.6 1844.4,1195.2 1845.4,1196.0 1846.4,1195.4 1847.4,1195.8 1848.4,1195.2 1849.4,1195.5"/>
<polyline class="cv" stroke="#0000ff" points="380.0,159.7 380.9,159.7 381.9,160.5 382.8,159.5 383.8,161.0 384.7,160.8 385.7,160.4 386.7,159.8 387.7,161.2 388.6,159.6 389.6,160.8 390.6,160.5 391.6,159.7 392.6,159.8 393.5,160.4 394.5,159.2 395.5,159.9 396.5,159.1 397.5,157.8 398.4,159.3 399.4,158.5 400.3,159.5 401.3,159.4 402.3,160.7 403.2,161.0 404.2,160.5 405.1,161.4 406.1,160.9 407.1,161.8 408.0,161.7 409.0,162.0 409.9,162.3 410.9,162.7 411.9,162.1 412.9,162.3 413.9,161.9 414.9,163.4 415.9,162.7 416.9,161.9 417.9,163.6 418.9,163.0 419.9,162.4 420.9,163.4 421.9,163.8 422.9,164.4 423.9,164.5 424.9,163.8 425.9,165.0 426.9,164.2 427.9,163.8 428.9,164.2 429.9,163.9 430.9,163.4 431.9,164.5 432.9,164.7 433.9,164.6 434.9,164.0 435.9,164.5 436.9,164.9 437.9,163.7 438.9,164.5 439.9,165.3 440.9,166.1 441.9,165.5 442.9,165.3 443.9,164.5 444.9,164.8 445.9,164.5 446.9,164.7 447.9,165.3 448.8,165.8 449.8,164.1 450.8,164.7 451.8,164.3 452.8,166.0 453.8,165.6 454.8,165.9 455.8,166.3 456.8,165.0 457.8,165.5 458.8,165.8 459.8,165.9 460.8,166.5 461.8,166.7 462.8,165.8 463.8,165.6 464.8,166.3 465.8,166.2 466.8,167.3 467.8,166.8 468.8,167.2 469.8,166.7 470.8,166.4 471.8,167.0 472.8,166.5 473.8,166.7 474.8,167.0 475.8,166.6 476.8,167.4 477.8,167.1 478.8,167.2 479.8,167.2 480.8,166.9 481.8,166.5 482.8,168.0 483.8,166.6 484.8,167.2 485.8,166.9 486.7,167.8 487.7,168.7 488.7,168.3 489.7,168.2 490.6,168.0 491.6,167.2 492.6,168.1 493.5,167.9 494.5,167.4 495.5,167.7 496.4,166.0 497.4,165.8 498.4,166.7 499.4,166.4 500.3,165.8 501.3,166.3 502.3,166.3 503.3,166.2 504.3,166.4 505.3,165.8 506.3,166.7 507.3,166.6 508.3,166.7 509.3,166.9 510.3,167.1 511.3,167.3 512.3,166.4 513.3,167.1 514.2,167.3 515.2,168.7 516.2,168.3 517.2,167.9 518.2,169.1 519.1,169.5 520.1,169.9 521.1,168.8 522.1,170.1 523.1,169.4 524.0,169.6 525.0,170.5 526.0,169.7 527.0,171.0 527.9,170.2 528.9,170.2 529.9,171.6 530.9,172.2 531.8,171.9 532.8,172.2 533.8,172.9 534.7,172.0 535.7,171.9 536.7,172.6 537.7,172.7 538.7,172.9 539.7,172.8 540.7,172.9 541.7,172.0 542.7,171.7 543.7,172.6 544.7,173.7 545.7,173.3 546.7,172.3 547.7,172.1 548.7,173.0 549.7,173.1 550.7,173.3 551.7,172.8 552.7,173.2 553.7,173.4 554.7,172.5 555.7,172.7 556.7,173.1 557.7,173.0 558.7,174.3 559.7,172.9 560.7,173.4 561.7,174.2 562.7,173.1 563.7,173.9 564.7,172.8 565.7,174.6 566.7,173.3 567.7,173.2 568.7,174.2 569.7,174.6 570.7,174.0 571.7,174.1 572.7,175.0 573.7,174.4 574.7,174.3 575.7,174.1 576.7,174.3 577.7,174.4 578.7,174.8 579.7,175.1 580.7,175.0 581.7,175.1 582.7,175.6 583.7,175.4 584.7,175.4 585.7,173.9 586.7,174.5 587.7,174.8 588.7,174.5 589.7,174.8 590.7,175.3 591.7,173.9 592.7,174.2 593.7,175.5 594.7,174.6 595.8,174.3 596.8,174.9 597.8,173.5 598.8,173.8 599.8,173.9 600.8,175.5 601.8,174.0 602.8,174.3 603.8,175.2 604.8,174.5 605.8,174.2 606.8,174.9 607.8,174.1 608.8,174.8 609.8,174.4 610.8,174.3 611.7,175.3 612.7,175.5 613.7,174.8 614.7,174.8 615.7,175.5 616.7,175.6 617.7,175.6 618.7,175.2 619.7,175.1 620.7,176.2 621.7,175.2 622.7,175.4 623.7,175.1 624.6,176.0 625.6,176.2 626.6,175.8 627.6,176.6 628.6,176.9 629.6,177.9 630.6,178.1 631.5,176.7 632.5,177.3 633.5,178.0 634.5,178.1 635.5,178.5 636.5,178.7 637.5,178.0 638.5,178.6 639.4,179.0 640.4,178.3 641.4,179.6 642.4,178.7 643.4,179.2 644.4,178.9 645.4,179.3 646.4,180.6 647.3,180.7 648.3,179.8 649.3,181.0 650.3,179.8 651.3,180.1 652.3,180.7 653.3,180.2 654.3,181.2 655.3,182.0 656.2,182.3 657.2,182.3 658.2,182.8 659.2,182.1 660.2,182.9 661.2,182.8 662.2,183.1 663.2,182.6 664.1,183.1 665.1,183.7 666.1,183.5 667.1,184.2 668.1,183.7 669.1,183.4 670.1,183.3 671.0,183.4 672.0,183.6 673.0,183.2 674.0,183.5 675.0,182.7 676.0,183.2 677.0,182.2 677.9,183.0 678.9,181.5 679.9,182.1 680.9,181.5 681.9,181.1 682.9,182.3 683.9,181.4 684.9,182.1 685.9,181.5 686.9,183.1 687.9,181.8 688.9,183.0 689.9,181.5 690.9,181.9 691.9,181.8 692.9,181.9 693.8,181.3 694.8,180.1 695.8,179.7 696.8,179.7 697.8,179.6 698.8,180.8 699.8,179.8 700.8,181.2 701.8,180.3 702.8,180.3 703.8,181.1 704.8,181.4 705.8,181.4 706.8,180.9 707.8,180.6 708.8,180.9 709.8,182.1 710.8,181.8 711.8,181.1 712.8,181.3 713.8,180.9 714.8,181.9 715.8,181.0 716.8,181.2 717.8,181.4 718.8,180.5 719.8,181.6 720.8,181.6 721.8,182.6 722.8,181.9 723.8,181.6 724.8,181.6 725.8,181.6 726.8,182.3 727.8,180.8 728.8,182.1 729.8,181.1 730.8,180.3 731.8,180.6 732.8,181.0 733.8,181.2 734.8,181.4 735.8,181.4 736.8,180.6 737.8,182.3 738.8,181.5 739.8,180.9 740.8,181.4 741.8,182.2 742.8,181.4 743.8,181.9 744.8,182.7 745.8,181.8 746.8,182.0 747.8,181.5 748.8,182.6 749.8,182.5 750.7,182.2 751.7,182.4 752.7,183.0 753.7,183.2 754.7,183.6 755.7,184.1 756.7,183.2 757.7,183.2 758.7,183.5 759.7,184.0 760.6,183.2 761.6,183.3 762.6,183.0 763.6,182.3 764.6,183.0 765.6,182.8 766.5,181.6 767.5,182.4 768.5,182.2 769.5,181.4 770.5,181.6 771.4,182.4 772.4,181.3 773.4,181.3 774.4,181.1 775.4,181.6 776.4,182.2 777.4,181.1 778.4,181.7 779.4,181.7 780.4,180.8 781.4,180.1 782.4,179.9 783.4,180.5 784.4,180.6 785.4,180.0 786.4,180.1 787.3,179.9 788.3,180.0 789.3,181.0 790.3,180.5 791.3,181.1 792.3,180.5 793.3,180.6 794.3,181.2 795.3,182.3 796.2,182.2 797.2,182.7 798.2,181.9 799.2,183.1 800.2,182.6 801.2,182.9 802.2,181.9 803.2,182.0 804.2,182.6 805.2,182.9 806.2,183.2 807.2,182.2 808.2,183.9 809.2,184.0 810.2,184.5 811.2,183.3 812.2,184.1 813.2,183.8 814.2,183.3 815.2,182.7 816.2,182.8 817.2,184.0 818.2,183.7 819.2,183.5 820.2,183.0 821.2,183.2 822.2,182.3 823.1,182.3 824.1,182.4 825.0,183.0 826.0,183.3 827.0,182.4 828.0,182.5 829.0,182.4 829.9,181.3 830.9,181.1 831.9,180.6 832.9,181.4 833.9,182.0 834.9,181.1 835.9,182.0 836.9,181.6 837.9,181.0 838.9,182.4 839.9,181.5 840.9,181.8 841.9,182.1 842.9,182.3 843.9,182.6 844.9,182.3 845.9,182.5 846.9,182.0 847.9,183.4 848.9,182.4 849.9,182.6 850.9,183.2 851.9,182.4 852.9,182.2 853.9,182.7 854.9,182.9 855.9,182.3 856.9,183.5 857.9,182.2 858.9,183.7 859.9,183.8 860.9,183.7 861.9,183.8 862.8,183.8 863.8,184.3 864.7,183.8 865.7,183.7 866.6,184.3 867.6,184.1 868.5,185.6 869.5,184.6 870.4,186.4 871.4,185.6 872.3,186.8 873.3,186.7 874.2,187.6 875.2,187.4 876.1,187.9 877.1,188.5 878.1,187.6 879.0,187.9 880.0,189.3 881.0,188.8 881.9,188.0 882.9,188.6 883.9,188.7 884.9,188.9 885.8,190.5 886.8,189.5 887.7,190.4 888.7,190.1 889.6,191.7 890.5,192.6 891.4,192.4 892.3,193.0 893.2,193.7 894.2,194.1 895.1,193.5 896.0,193.6 896.9,195.6 897.8,195.2 898.7,196.2 899.7,196.1 900.6,196.3 901.6,196.2 902.5,197.7 903.5,197.9 904.4,197.0 905.4,197.8 906.4,198.6 907.3,199.4 908.3,198.5 909.3,199.4 910.2,199.3 911.2,199.2 912.1,200.1 913.1,199.7 914.1,201.3 915.0,201.3 916.0,200.9 917.0,201.2 917.9,201.5 918.7,202.5 919.6,203.3 920.4,202.5 921.3,204.0 922.2,203.5 923.0,204.9 923.9,204.0 924.7,205.1 925.6,206.2 926.5,206.8 927.3,206.9 928.2,208.1 929.0,208.2 929.9,209.1 930.7,208.7 931.5,209.2 932.4,210.7 933.2,211.0 934.0,211.0 934.8,211.6 935.6,213.4 936.5,212.1 937.3,213.2 938.1,213.2 938.9,214.3 939.7,216.1 940.6,215.4 941.4,216.0 942.2,216.6 942.9,217.9 943.6,217.9 944.4,219.1 945.1,218.9 945.8,220.2 946.5,220.2 947.2,221.5 947.9,221.8 948.6,224.3 949.3,223.3 950.0,225.2 950.7,224.7 951.4,226.0 952.1,227.6 952.9,227.3 953.6,228.9 954.3,228.8 955.0,229.1 955.7,230.0 956.4,230.9 957.1,232.6 957.8,231.9 958.5,232.7 959.2,234.1 959.9,235.3 960.6,236.1 961.3,236.5 962.1,236.4 962.8,237.9 963.5,238.9 964.2,239.3 964.9,240.2 965.5,241.3 966.1,240.7 966.7,241.7 967.3,243.8 967.8,243.6 968.4,245.1 969.0,245.3 969.6,246.3 970.2,247.7 970.8,247.9 971.4,249.0 972.0,250.2 972.6,251.2 973.1,250.5 973.7,252.0 974.3,253.0 974.9,253.1 975.4,254.6 976.0,255.6 976.5,256.8 977.0,257.7 977.5,258.5 978.1,258.8 978.6,260.1 979.1,260.8 979.6,260.7 980.2,261.7 980.7,263.8 981.2,263.9 981.7,265.0 982.3,266.0 982.8,266.1 983.3,267.6 983.8,268.4 984.4,268.6 984.9,270.3 985.5,270.9 986.1,271.5 986.7,272.8 987.4,272.3 988.0,273.4 988.6,275.0 989.2,275.1 989.9,277.0 990.5,277.7 991.1,277.6 991.7,279.5 992.4,279.9 993.0,280.3 993.6,281.8 994.2,281.4 994.9,283.0 995.4,283.5 995.8,284.5 996.2,284.9 996.7,286.0 997.1,285.9 997.6,287.9 998.0,287.8 998.5,289.1 998.9,290.0 999.4,291.9 999.8,291.6 1000.3,293.7 1000.7,293.1 1001.2,295.1 1001.6,294.9 1002.1,296.9 1002.5,297.4 1003.0,298.7 1003.4,298.0 1003.9,299.1 1004.3,300.5 1004.8,301.0 1005.2,302.0 1005.5,304.2 1005.9,304.9 1006.3,305.1 1006.7,306.3 1007.0,307.8 1007.4,308.6 1007.8,309.3 1008.1,310.7 1008.5,310.4 1008.9,311.7 1009.3,313.0 1009.6,314.6 1010.0,314.7 1010.4,316.6 1010.7,316.1 1011.1,318.6 1011.5,319.5 1011.9,320.2 1012.2,321.4 1012.6,322.2 1013.0,322.1 1013.3,324.5 1013.7,324.8 1014.1,325.5 1014.5,327.1 1014.8,326.9 1015.2,329.0 1015.7,330.0 1016.1,330.6 1016.6,330.4 1017.0,330.7 1017.5,332.2 1017.9,333.8 1018.4,334.3 1018.8,334.3 1019.3,335.4 1019.7,336.4 1020.2,337.2 1020.6,338.9 1021.1,339.2 1021.5,340.2 1022.0,341.5 1022.4,342.6 1022.9,343.4 1023.3,344.9 1023.7,345.0 1024.2,347.2 1024.6,348.0 1025.1,348.0 1025.5,349.4 1025.9,350.8 1026.3,351.7 1026.7,352.1 1027.1,352.2 1027.5,353.1 1027.9,354.0 1028.3,355.3 1028.7,355.8 1029.1,356.5 1029.6,357.3 1030.0,358.0 1030.4,360.0 1030.8,360.2 1031.2,360.8 1031.6,361.9 1032.0,362.6 1032.4,364.9 1032.8,365.0 1033.2,365.8 1033.6,366.8 1034.0,368.9 1034.4,369.1 1034.8,370.5 1035.2,371.4 1035.6,372.4 1036.0,373.0 1036.3,373.1 1036.7,374.7 1037.1,375.3 1037.5,376.2 1037.8,377.6 1038.2,377.9 1038.6,379.8 1038.9,380.2 1039.3,381.9 1039.7,381.4 1040.1,382.1 1040.4,383.4 1040.8,384.4 1041.2,385.4 1041.5,386.9 1041.9,387.9 1042.3,388.4 1042.7,389.0 1043.0,390.0 1043.4,391.0 1043.8,392.4 1044.1,392.5 1044.5,394.5 1044.9,394.6 1045.3,395.3 1045.6,397.2 1046.0,397.9 1046.4,399.1 1046.7,400.3 1047.1,400.5 1047.5,401.7 1047.9,402.7 1048.2,403.4 1048.6,404.0 1049.0,405.0 1049.3,406.0 1049.7,408.1 1050.1,407.3 1050.5,409.2 1050.8,410.0 1051.2,410.2 1051.6,411.7 1051.9,411.9 1052.3,413.3 1052.7,414.6 1053.1,415.9 1053.4,416.3 1053.8,417.8 1054.2,417.3 1054.6,419.3 1054.9,419.1 1055.3,420.4 1055.7,422.4 1056.0,422.9 1056.4,423.7 1056.8,425.1 1057.2,425.2 1057.5,427.2 1057.9,427.2 1058.3,428.1 1058.6,429.1 1059.0,430.6 1059.4,431.0 1059.8,432.4 1060.1,433.7 1060.5,434.7 1060.9,435.4 1061.2,436.2 1061.6,436.4 1062.0,437.1 1062.4,438.9 1062.7,440.0 1063.1,439.9 1063.5,441.7 1063.8,442.2 1064.2,443.0 1064.6,443.9 1065.0,445.7 1065.4,445.6 1065.8,446.2 1066.3,448.1 1066.7,448.9 1067.2,449.7 1067.6,451.0 1068.1,450.5 1068.5,453.0 1069.0,453.0 1069.4,453.0 1069.9,455.6 1070.3,455.0 1070.8,457.5 1071.2,457.9 1071.7,458.5 1072.1,459.9 1072.6,460.6 1073.0,460.9 1073.5,462.3 1073.9,463.6 1074.4,464.8 1074.8,465.0 1075.3,466.0 1075.8,466.7 1076.3,466.1 1076.8,468.5 1077.3,469.3 1077.8,469.4 1078.3,471.0 1078.7,470.9 1079.2,471.4 1079.7,472.4 1080.2,473.3 1080.7,474.9 1081.2,476.2 1081.7,476.8 1082.2,477.6 1082.7,478.1 1083.2,479.3 1083.7,480.0 1084.2,481.1 1084.7,481.6 1085.2,483.6 1085.5,484.5 1085.9,484.5 1086.3,486.1 1086.6,487.7 1087.0,488.2 1087.4,488.7 1087.8,490.2 1088.3,490.3 1088.8,492.0 1089.2,492.7 1089.7,493.4 1090.2,494.3 1090.7,493.8 1091.1,494.6 1091.6,495.7 1092.1,496.4 1092.6,498.9 1093.0,499.5 1093.5,499.4 1094.0,500.7 1094.5,502.3 1094.9,503.6 1095.4,504.4 1095.9,505.4 1096.3,504.9 1096.7,506.2 1097.1,506.8 1097.5,508.7 1097.8,508.0 1098.2,509.2 1098.6,510.5 1098.9,510.9 1099.3,512.8 1099.7,514.5 1100.1,515.3 1100.4,514.8 1100.8,516.2 1101.2,517.5 1101.5,517.9 1101.9,520.1 1102.3,520.7 1102.7,522.1 1103.0,522.5 1103.4,522.8 1103.8,523.6 1104.1,524.9 1104.5,525.9 1104.9,526.3 1105.3,527.1 1105.6,529.1 1106.0,529.2 1106.4,530.2 1106.7,531.4 1107.0,532.9 1107.4,533.7 1107.7,534.2 1108.0,535.3 1108.3,537.1 1108.7,537.0 1109.0,538.3 1109.3,539.6 1109.7,540.5 1110.0,540.6 1110.3,541.7 1110.7,542.0 1111.0,543.8 1111.3,543.9 1111.7,545.3 1112.0,545.9 1112.3,547.4 1112.6,547.4 1113.0,548.7 1113.3,550.3 1113.6,551.7 1114.0,552.7 1114.3,553.5 1114.6,554.4 1115.0,554.8 1115.3,557.0 1115.5,556.8 1115.8,559.1 1116.1,559.0 1116.4,560.6 1116.7,560.7 1117.0,560.7 1117.3,562.9 1117.6,562.7 1117.8,563.8 1118.1,565.4 1118.4,565.2 1118.7,567.8 1119.0,567.8 1119.3,569.8 1119.6,570.1 1119.9,571.9 1120.1,572.3 1120.4,572.9 1120.7,574.8 1121.0,574.9 1121.3,575.3 1121.6,577.6 1121.9,578.4 1122.2,579.2 1122.4,580.3 1122.7,581.2 1122.9,582.7 1123.1,582.3 1123.4,584.4 1123.6,585.4 1123.8,586.4 1124.0,586.7 1124.2,587.9 1124.5,589.3 1124.7,590.2 1124.9,591.0 1125.1,591.2 1125.4,593.4 1125.6,593.3 1125.8,595.3 1126.0,596.2 1126.3,596.4 1126.5,598.0 1126.7,598.2 1126.9,599.7 1127.2,601.0 1127.4,601.8 1127.6,603.0 1127.8,602.7 1128.1,604.9 1128.3,605.9 1128.5,607.2 1128.8,606.9 1129.0,608.7 1129.3,608.8 1129.5,609.8 1129.7,612.2 1130.0,612.6 1130.2,612.6 1130.5,614.2 1130.7,614.8 1131.0,616.4 1131.2,617.0 1131.4,617.7 1131.7,618.6 1131.9,619.7 1132.2,620.4 1132.4,621.4 1132.7,623.0 1132.9,624.3 1133.1,624.1 1133.4,624.9 1133.6,627.1 1133.9,628.2 1134.1,629.2 1134.4,629.9 1134.6,629.2 1134.8,630.5 1134.9,631.7 1135.1,632.3 1135.3,634.5 1135.5,635.7 1135.6,635.9 1135.8,636.8 1136.0,637.4 1136.2,639.0 1136.3,640.6 1136.5,640.7 1136.7,642.4 1136.9,642.6 1137.1,643.5 1137.2,645.4 1137.4,646.6 1137.6,646.3 1137.8,648.4 1137.9,649.0 1138.1,650.1 1138.3,650.7 1138.5,651.3 1138.7,652.3 1138.8,654.3 1139.0,655.7 1139.2,655.5 1139.4,656.5 1139.6,658.2 1139.8,659.0 1139.9,660.5 1140.1,660.3 1140.3,661.4 1140.5,662.7 1140.7,663.4 1140.9,665.6 1141.1,666.4 1141.2,666.5 1141.4,668.3 1141.6,668.7 1141.8,669.6 1142.0,670.2 1142.2,671.7 1142.4,673.1 1142.6,673.1 1142.7,675.5 1142.9,675.9 1143.1,676.9 1143.3,677.9 1143.5,679.3 1143.7,679.4 1143.9,680.1 1144.1,681.1 1144.3,682.6 1144.5,684.2 1144.7,684.2 1144.9,685.9 1145.1,686.0 1145.3,687.5 1145.5,688.5 1145.7,689.8 1145.9,690.9 1146.1,692.0 1146.3,693.0 1146.6,694.2 1146.8,694.5 1147.0,696.1 1147.2,696.1 1147.4,697.7 1147.6,697.9 1147.8,699.6 1148.0,700.6 1148.2,700.3 1148.4,701.3 1148.6,702.7 1148.8,703.4 1149.0,705.6 1149.2,706.9 1149.4,706.6 1149.6,708.6 1149.8,709.6 1150.0,710.7 1150.1,710.1 1150.3,711.5 1150.5,713.0 1150.7,714.6 1150.9,714.2 1151.1,715.7 1151.3,716.0 1151.4,717.4 1151.6,718.9 1151.8,720.7 1152.0,720.9 1152.2,721.9 1152.4,723.5 1152.6,723.6 1152.8,725.1 1152.9,725.9 1153.1,726.7 1153.3,727.9 1153.5,728.4 1153.7,729.4 1153.9,730.2 1154.1,731.6 1154.3,732.0 1154.5,733.6 1154.8,734.4 1155.0,735.5 1155.2,737.1 1155.4,738.2 1155.6,738.4 1155.8,740.0 1156.0,740.9 1156.3,742.6 1156.5,743.5 1156.7,744.3 1156.9,744.0 1157.1,746.5 1157.3,747.2 1157.5,748.5 1157.8,749.1 1158.0,750.6 1158.2,751.7 1158.4,752.1 1158.6,752.2 1158.8,753.3 1159.1,754.9 1159.3,756.0 1159.5,756.8 1159.7,756.7 1159.9,757.6 1160.1,759.2 1160.2,759.2 1160.4,760.2 1160.6,761.6 1160.8,762.2 1161.0,764.9 1161.2,764.8 1161.4,765.6 1161.6,767.6 1161.8,767.8 1162.0,769.0 1162.2,770.3 1162.4,770.6 1162.6,772.3 1162.8,773.5 1163.0,773.1 1163.2,775.4 1163.4,775.0 1163.6,776.5 1163.8,777.6 1164.0,778.9 1164.2,778.9 1164.4,781.2 1164.6,781.3 1164.8,783.1 1165.1,783.8 1165.3,784.3 1165.5,785.9 1165.7,785.5 1166.0,787.6 1166.2,787.7 1166.4,789.8 1166.6,789.7 1166.9,790.8 1167.1,792.6 1167.3,793.3 1167.5,794.5 1167.8,796.0 1168.0,796.9 1168.2,797.6 1168.4,797.7 1168.7,798.6 1168.9,799.3 1169.1,800.6 1169.3,801.6 1169.5,802.2 1169.8,804.3 1170.0,805.5 1170.2,805.7 1170.4,806.9 1170.5,808.2 1170.7,809.8 1170.9,809.7 1171.1,810.8 1171.3,811.9 1171.5,813.1 1171.6,814.6 1171.8,815.6 1172.0,816.5 1172.2,817.1 1172.4,818.3 1172.5,818.8 1172.7,820.5 1172.9,821.6 1173.1,821.5 1173.3,823.7 1173.5,824.8 1173.6,825.6 1173.8,826.4 1174.0,826.5 1174.2,827.0 1174.4,828.2 1174.6,830.1 1174.7,829.9 1174.9,832.2 1175.1,832.7 1175.3,834.0 1175.5,834.5 1175.6,835.6 1175.8,836.5 1176.0,838.1 1176.2,837.6 1176.4,840.4 1176.6,841.2 1176.9,840.6 1177.1,842.3 1177.3,843.2 1177.5,843.7 1177.8,845.9 1178.0,846.1 1178.2,846.6 1178.4,848.2 1178.7,849.2 1178.9,849.5 1179.1,850.3 1179.3,851.6 1179.6,853.7 1179.8,854.7 1180.0,855.5 1180.2,855.3 1180.4,857.4 1180.6,858.1 1180.8,858.7 1181.0,860.9 1181.2,860.7 1181.4,862.0 1181.6,862.7 1181.8,863.5 1182.0,865.7 1182.2,866.7 1182.4,867.2 1182.6,867.3 1182.8,868.4 1183.0,869.2 1183.1,871.5 1183.3,871.4 1183.5,873.9 1183.7,873.8 1183.9,875.1 1184.1,874.9 1184.3,877.3 1184.5,877.6 1184.7,878.6 1184.9,879.4 1185.1,881.1 1185.3,882.0 1185.5,883.5 1185.7,882.9 1185.9,884.9 1186.1,885.9 1186.3,886.1 1186.5,887.2 1186.7,889.0 1186.9,889.7 1187.1,891.3 1187.3,891.1 1187.5,892.7 1187.7,893.7 1187.9,893.8 1188.1,895.2 1188.2,895.7 1188.4,896.5 1188.6,898.8 1188.8,899.7 1189.0,900.4 1189.2,901.5 1189.4,902.2 1189.6,903.6 1189.8,904.2 1190.0,904.1 1190.2,906.3 1190.4,907.2 1190.6,908.4 1190.8,908.6 1191.0,909.8 1191.2,911.0 1191.4,911.7 1191.6,913.3 1191.8,914.5 1192.0,916.1 1192.2,916.1 1192.4,917.2 1192.6,917.8 1192.8,919.8 1193.0,920.6 1193.2,921.3 1193.4,921.5 1193.5,922.4 1193.7,923.3 1193.9,924.3 1194.1,926.0 1194.3,927.3 1194.5,927.9 1194.7,928.2 1194.9,929.5 1195.1,931.0 1195.4,932.0 1195.6,931.7 1195.9,933.1 1196.1,934.8 1196.4,935.6 1196.6,936.1 1196.8,937.2 1197.1,937.8 1197.3,940.1 1197.6,940.3 1197.8,942.0 1198.1,942.8 1198.3,943.9 1198.5,944.3 1198.8,945.5 1199.0,945.4 1199.3,947.6 1199.5,948.3 1199.8,948.7 1200.0,950.9 1200.2,950.5 1200.5,951.5 1200.7,953.3 1201.0,953.8 1201.2,955.3 1201.4,955.6 1201.7,956.7 1201.9,958.6 1202.1,959.2 1202.3,959.5 1202.6,960.4 1202.8,961.6 1203.0,962.4 1203.2,963.1 1203.5,965.0 1203.7,965.3 1203.9,966.6 1204.1,966.6 1204.4,967.5 1204.6,968.4 1204.8,970.2 1205.0,971.3 1205.3,972.9 1205.5,972.9 1205.7,975.0 1205.9,976.1 1206.2,975.8 1206.4,977.7 1206.6,979.0 1206.8,980.1 1207.0,980.3 1207.3,980.7 1207.5,983.0 1207.7,983.8 1207.9,985.3 1208.1,985.1 1208.3,986.1 1208.6,986.7 1208.8,988.2 1209.0,988.6 1209.2,990.5 1209.4,990.7 1209.6,992.9 1209.8,992.6 1210.1,994.6 1210.3,994.2 1210.5,996.7 1210.7,996.2 1210.9,998.4 1211.1,998.6 1211.4,1000.0 1211.6,1001.4 1211.8,1001.8 1212.0,1002.3 1212.2,1003.3 1212.4,1005.2 1212.6,1006.4 1212.9,1006.9 1213.1,1007.2 1213.3,1009.3 1213.5,1009.6 1213.7,1010.5 1213.9,1012.6 1214.1,1012.5 1214.4,1013.9 1214.6,1013.7 1214.8,1016.0 1215.0,1016.5 1215.2,1016.6 1215.4,1018.0 1215.7,1018.6 1215.9,1019.9 1216.1,1021.7 1216.3,1022.8 1216.5,1023.1 1216.7,1024.7 1216.9,1025.8 1217.2,1027.0 1217.4,1027.0 1217.6,1028.0 1217.8,1029.8 1218.0,1030.3 1218.3,1031.2 1218.6,1031.3 1218.8,1032.3 1219.1,1033.3 1219.4,1035.6 1219.6,1036.0 1219.9,1036.9 1220.2,1038.2 1220.5,1039.6 1220.7,1040.3 1221.0,1040.8 1221.3,1041.8 1221.5,1042.7 1221.8,1043.9 1222.1,1044.6 1222.3,1045.0 1222.6,1047.0 1222.9,1047.2 1223.1,1048.3 1223.4,1050.0 1223.7,1051.1 1224.0,1051.9 1224.2,1052.4 1224.5,1054.2 1224.8,1054.6 1225.0,1055.8 1225.4,1056.8 1225.8,1056.5 1226.1,1057.8 1226.5,1059.4 1226.8,1059.6 1227.2,1061.4 1227.5,1061.9 1227.9,1062.8 1228.2,1063.3 1228.6,1064.3 1228.9,1066.0 1229.3,1066.8 1229.6,1067.4 1230.0,1067.1 1230.3,1068.6 1230.7,1070.7 1231.0,1071.6 1231.4,1072.1 1231.7,1073.2 1232.1,1073.0 1232.4,1075.1 1232.8,1076.0 1233.2,1077.2 1233.6,1078.2 1234.0,1079.2 1234.4,1079.0 1234.8,1080.1 1235.2,1081.1 1235.6,1081.8 1236.0,1083.9 1236.4,1084.5 1236.8,1085.5 1237.2,1086.0 1237.6,1086.5 1238.0,1087.6 1238.4,1089.5 1238.8,1089.6 1239.2,1090.5 1239.6,1092.1 1240.0,1093.9 1240.4,1094.0 1240.8,1093.7 1241.2,1095.6 1241.7,1096.4 1242.3,1096.3 1242.8,1098.2 1243.3,1098.1 1243.8,1100.1 1244.3,1101.0 1244.8,1100.3 1245.3,1102.1 1245.8,1102.7 1246.3,1103.7 1246.8,1104.0 1247.3,1105.4 1247.8,1107.1 1248.3,1107.6 1248.8,1107.8 1249.3,1108.7 1249.8,1110.5 1250.4,1110.4 1251.0,1111.8 1251.6,1112.1 1252.2,1113.4 1252.8,1113.6 1253.4,1114.5 1254.0,1115.8 1254.6,1115.2 1255.2,1116.5 1255.8,1118.4 1256.4,1118.2 1257.0,1119.9 1257.6,1120.4 1258.5,1121.6 1259.3,1121.2 1260.2,1122.7 1261.0,1123.4 1261.9,1123.3 1262.7,1123.2 1263.6,1124.6 1264.4,1124.3 1265.3,1125.5 1266.1,1125.5 1267.0,1126.6 1267.8,1125.9 1268.7,1127.1 1269.5,1127.9 1270.4,1128.4 1271.2,1129.2 1272.1,1128.9 1272.9,1128.9 1273.8,1129.3 1274.6,1131.1 1275.4,1131.8 1276.3,1131.2 1277.1,1131.8 1278.1,1132.9 1279.0,1131.8 1280.0,1132.5 1281.0,1132.7 1281.9,1134.1 1282.9,1133.6 1283.9,1133.5 1284.9,1134.8 1285.8,1134.8 1286.8,1134.7 1287.8,1134.4 1288.7,1135.0 1289.7,1135.0 1290.7,1135.2 1291.7,1135.9 1292.6,1135.5 1293.6,1135.9 1294.6,1136.9 1295.5,1137.2 1296.5,1136.9 1297.5,1138.2 1298.5,1138.0 1299.4,1137.7 1300.4,1137.3 1301.4,1138.7 1302.4,1138.8 1303.3,1139.1 1304.3,1138.9 1305.3,1138.3 1306.2,1138.9 1307.2,1139.7 1308.2,1140.5 1309.2,1140.4 1310.1,1140.3 1311.1,1141.6 1312.1,1141.2 1313.1,1141.4 1314.1,1141.2 1315.1,1140.6 1316.1,1141.2 1317.1,1141.1 1318.1,1141.7 1319.1,1141.7 1320.1,1141.7 1321.1,1141.8 1322.1,1141.3 1323.1,1142.5 1324.0,1142.2 1325.0,1142.1 1326.0,1143.0 1327.0,1142.8 1328.0,1143.4 1328.9,1143.2 1329.9,1142.8 1330.9,1143.5 1331.9,1144.2 1332.9,1143.8 1333.8,1144.1 1334.8,1143.7 1335.8,1145.3 1336.8,1143.9 1337.8,1144.0 1338.8,1144.0 1339.8,1145.5 1340.8,1144.4 1341.8,1145.2 1342.8,1145.3 1343.7,1146.1 1344.7,1146.8 1345.7,1146.8 1346.7,1146.5 1347.7,1146.6 1348.7,1146.0 1349.7,1147.2 1350.7,1146.9 1351.7,1147.7 1352.7,1146.4 1353.7,1146.4 1354.7,1148.1 1355.6,1147.7 1356.6,1147.8 1357.6,1147.5 1358.6,1146.8 1359.6,1147.6 1360.6,1147.3 1361.6,1147.7 1362.6,1148.8 1363.6,1148.4 1364.6,1148.2 1365.6,1147.3 1366.6,1147.3 1367.6,1147.7 1368.6,1147.5 1369.6,1147.8 1370.6,1147.5 1371.6,1146.6 1372.6,1147.5 1373.6,1147.3 1374.6,1148.1 1375.6,1147.6 1376.6,1148.4 1377.5,1147.4 1378.5,1149.0 1379.5,1149.0 1380.5,1148.3 1381.5,1148.9 1382.5,1149.1 1383.5,1149.0 1384.5,1149.1 1385.4,1150.5 1386.4,1149.7 1387.4,1150.9 1388.4,1150.4 1389.3,1150.2 1390.3,1150.3 1391.3,1151.8 1392.3,1151.5 1393.2,1150.5 1394.2,1151.3 1395.2,1151.4 1396.1,1152.9 1397.1,1152.7 1398.1,1151.4 1399.1,1151.4 1400.1,1152.1 1401.1,1152.8 1402.1,1151.7 1403.1,1151.7 1404.1,1152.4 1405.1,1152.8 1406.1,1152.8 1407.1,1152.1 1408.1,1152.3 1409.1,1153.1 1410.1,1152.3 1411.1,1152.5 1412.1,1153.1 1413.1,1153.3 1414.1,1153.1 1415.1,1152.9 1416.1,1153.4 1417.1,1153.4 1418.1,1153.7 1419.1,1153.4 1420.0,1154.2 1421.0,1154.7 1422.0,1153.8 1423.0,1154.6 1424.0,1155.2 1425.0,1155.3 1426.0,1154.4 1427.0,1155.1 1428.0,1155.5 1429.0,1154.5 1430.0,1156.0 1431.0,1155.8 1432.0,1154.8 1433.0,1155.4 1434.0,1155.4 1435.0,1155.1 1436.0,1156.6 1437.0,1155.0 1438.0,1155.1 1439.0,1156.2 1440.0,1154.8 1441.0,1155.4 1442.0,1156.7 1443.0,1157.0 1444.0,1155.9 1445.0,1155.3 1446.0,1155.4 1447.0,1156.5 1448.0,1156.6 1449.0,1156.5 1450.0,1157.2 1451.0,1156.0 1452.0,1157.3 1452.9,1156.5 1453.9,1156.3 1454.9,1156.5 1455.9,1156.9 1456.9,1156.9 1457.9,1158.2 1458.9,1157.4 1459.9,1157.6 1460.9,1158.1 1461.9,1158.5 1462.9,1157.9 1463.9,1157.8 1464.9,1158.9 1465.9,1157.9 1466.9,1158.5 1467.9,1157.8 1468.9,1158.7 1469.9,1158.7 1470.9,1159.0 1471.9,1158.1 1472.9,1159.1 1473.8,1158.7 1474.8,1159.0 1475.8,1158.7 1476.8,1159.8 1477.8,1159.1 1478.8,1159.5 1479.7,1160.6 1480.7,1160.2 1481.7,1161.2 1482.7,1160.6 1483.7,1160.5 1484.6,1160.7 1485.6,1160.9 1486.6,1160.6 1487.6,1160.6 1488.6,1161.7 1489.6,1160.6 1490.6,1161.2 1491.6,1161.9 1492.6,1161.8 1493.6,1162.4 1494.6,1161.7 1495.6,1162.2 1496.6,1161.1 1497.6,1162.0 1498.6,1162.0 1499.6,1162.7 1500.6,1162.4 1501.6,1162.8 1502.6,1163.3 1503.5,1163.3 1504.5,1162.7 1505.5,1164.0 1506.5,1164.5 1507.5,1163.2 1508.4,1163.6 1509.4,1164.3 1510.4,1163.5 1511.4,1164.3 1512.4,1165.5 1513.4,1165.6 1514.4,1164.5 1515.4,1165.0 1516.4,1165.6 1517.4,1166.0 1518.4,1166.2 1519.4,1165.0 1520.4,1164.6 1521.4,1164.9 1522.4,1165.8 1523.4,1165.5 1524.3,1166.1 1525.3,1166.7 1526.3,1166.2 1527.3,1165.4 1528.3,1166.4 1529.3,1166.1 1530.3,1165.9 1531.3,1167.0 1532.3,1167.0 1533.3,1165.8 1534.3,1166.4 1535.3,1166.2 1536.3,1166.3 1537.2,1165.9 1538.2,1165.5 1539.2,1166.6 1540.2,1166.1 1541.1,1167.0 1542.1,1167.2 1543.1,1168.0 1544.1,1167.3 1545.0,1167.0 1546.0,1167.7 1547.0,1166.9 1548.0,1168.4 1548.9,1167.5 1549.9,1169.3 1550.8,1168.8 1551.8,1169.1 1552.7,1169.7 1553.7,1170.2 1554.6,1169.8 1555.6,1170.1 1556.5,1170.9 1557.5,1170.7 1558.4,1170.9 1559.4,1170.6 1560.4,1171.2 1561.4,1171.6 1562.4,1171.2 1563.4,1171.5 1564.4,1171.5 1565.3,1172.2 1566.3,1172.8 1567.3,1171.5 1568.3,1172.1 1569.3,1172.5 1570.3,1172.3 1571.3,1173.2 1572.3,1171.8 1573.3,1172.5 1574.3,1172.4 1575.3,1172.0 1576.3,1171.4 1577.3,1172.4 1578.3,1171.7 1579.3,1172.6 1580.3,1171.5 1581.2,1172.7 1582.1,1173.3 1583.0,1174.0 1584.0,1173.3 1584.9,1174.0 1585.9,1172.7 1586.8,1172.9 1587.8,1172.9 1588.7,1173.2 1589.7,1172.5 1590.6,1172.0 1591.6,1172.3 1592.6,1171.2 1593.6,1171.8 1594.5,1172.9 1595.5,1172.9 1596.5,1172.7 1597.5,1173.4 1598.4,1172.8 1599.4,1173.5 1600.4,1174.6 1601.4,1174.1 1602.3,1174.4 1603.3,1174.8 1604.3,1175.2 1605.3,1174.1 1606.3,1175.1 1607.3,1175.7 1608.3,1174.1 1609.3,1174.4 1610.2,1176.4 1611.2,1175.6 1612.2,1176.1 1613.2,1175.8 1614.2,1176.6 1615.2,1176.1 1616.2,1176.1 1617.2,1177.1 1618.2,1176.4 1619.2,1177.6 1620.2,1176.6 1621.2,1176.8 1622.2,1176.4 1623.2,1176.8 1624.2,1176.8 1625.2,1176.5 1626.2,1176.7 1627.2,1177.2 1628.2,1177.6 1629.2,1177.1 1630.2,1177.1 1631.2,1176.7 1632.2,1178.6 1633.1,1177.6 1634.1,1178.0 1635.1,1177.8 1636.1,1177.8 1637.1,1178.7 1638.1,1177.7 1639.1,1177.8 1640.1,1178.7 1641.1,1177.6 1642.1,1178.7 1643.1,1178.0 1644.1,1177.6 1645.1,1178.3 1646.1,1179.1 1647.1,1178.0 1648.1,1178.7 1649.1,1179.3 1650.1,1178.2 1651.1,1179.4 1652.1,1179.8 1653.1,1179.5 1654.1,1179.3 1655.1,1179.1 1656.1,1179.0 1657.1,1179.5 1658.0,1179.7 1659.0,1180.2 1660.0,1179.7 1661.0,1180.4 1662.0,1179.9 1663.0,1181.2 1664.0,1180.3 1665.0,1180.8 1666.0,1181.4 1667.0,1181.7 1668.0,1180.1 1669.0,1181.5 1670.0,1181.9 1671.0,1181.5 1672.0,1181.0 1672.9,1180.5 1673.9,1181.4 1674.9,1182.3 1675.9,1181.5 1676.9,1183.3 1677.9,1182.7 1678.9,1183.1 1679.9,1182.5 1680.8,1182.4 1681.8,1183.7 1682.8,1182.9 1683.8,1183.9 1684.8,1182.8 1685.8,1184.2 1686.8,1183.8 1687.8,1183.5 1688.8,1184.3 1689.8,1183.6 1690.8,1183.9 1691.8,1183.0 1692.8,1182.7 1693.8,1183.3 1694.8,1184.5 1695.8,1183.2 1696.8,1184.6 1697.8,1184.6 1698.8,1183.9 1699.7,1184.6 1700.7,1185.1 1701.7,1185.7 1702.7,1184.7 1703.7,1185.8 1704.6,1184.9 1705.6,1185.1 1706.6,1186.2 1707.6,1185.4 1708.6,1186.0 1709.6,1186.6 1710.6,1187.2 1711.6,1186.3 1712.6,1185.9 1713.6,1186.9 1714.6,1186.8 1715.6,1186.9 1716.6,1187.3 1717.6,1186.9 1718.6,1187.5 1719.6,1187.2 1720.6,1186.5 1721.6,1186.6 1722.6,1186.2 1723.6,1187.4 1724.6,1186.9 1725.6,1186.2 1726.6,1185.5 1727.6,1186.4 1728.6,1186.5 1729.6,1186.1 1730.5,1187.1 1731.5,1186.9 1732.5,1187.6 1733.4,1187.2 1734.4,1187.9 1735.3,1188.3 1736.3,1187.9 1737.3,1188.1 1738.2,1188.8 1739.2,1189.6 1740.2,1189.9 1741.2,1189.3 1742.2,1189.7 1743.2,1189.5 1744.2,1189.5 1745.2,1190.3 1746.2,1189.3 1747.2,1189.8 1748.2,1190.9 1749.2,1190.9 1750.1,1190.6 1751.1,1190.7 1752.1,1189.8 1753.1,1191.0 1754.1,1191.4 1755.1,1191.2 1756.1,1191.3 1757.1,1191.7 1758.1,1190.9 1759.1,1192.0 1760.1,1191.8 1761.1,1191.2 1762.1,1191.9 1763.1,1192.2 1764.1,1191.7 1765.1,1192.4 1766.0,1192.6 1767.0,1192.9 1768.0,1192.2 1769.0,1191.6 1770.0,1193.4 1770.9,1192.9 1771.9,1193.2 1772.9,1194.0 1773.9,1192.7 1774.9,1193.5 1775.9,1194.0 1776.9,1194.0 1777.9,1193.6 1778.9,1193.8 1779.9,1192.8 1780.9,1193.1 1781.9,1193.8 1782.9,1193.2 1783.9,1192.8 1784.9,1192.8 1785.9,1193.9 1786.9,1193.1 1787.9,1194.1 1788.9,1194.1 1789.9,1194.1 1790.9,1194.9 1791.9,1195.4 1792.9,1195.1 1793.9,1195.8 1794.9,1194.7 1795.9,1195.1 1796.9,1196.1 1797.9,1194.5 1798.9,1195.6 1799.9,1194.8 1800.9,1195.7 1801.9,1196.6 1802.9,1195.1 1803.9,1196.0 1804.9,1195.7 1805.8,1196.4 1806.8,1196.0 1807.8,1196.5 1808.8,1197.1 1809.8,1195.7 1810.8,1197.3 1811.8,1196.2 1812.8,1197.6 1813.7,1196.7 1814.7,1196.8 1815.7,1197.3 1816.7,1196.9 1817.7,1197.4 1818.8,1197.1 1819.8,1197.1 1820.8,1196.9 1821.8,1196.5 1822.8,1196.7 1823.8,1196.1 1824.7,1196.3 1825.7,1196.7 1826.7,1198.4 1827.7,1198.0 1828.7,1198.0 1829.7,1197.8 1830.7,1198.2 1831.7,1198.3 1832.7,1197.7 1833.6,1199.0 1834.6,1198.6 1835.6,1197.8 1836.6,1198.6 1837.5,1199.5 1838.5,1200.3 1839.5,1199.7 1840.5,1201.0 1841.4,1199.6 1842.4,1200.2 1843.4,1200.5 1844.4,1200.1 1845.4,1200.3 1846.4,1200.7 1847.4,1200.2 1848.4,1200.7 1849.4,1201.0"/>
<polyline class="cv" stroke="#9500ff" points="375.5,160.0 375.5,157.7 375.6,158.2 375.6,156.5 375.6,154.9 375.6,154.7 375.7,154.0 375.7,152.2 375.7,151.6 375.7,150.4 375.8,150.6 376.0,151.7 376.1,152.5 376.2,154.1 376.4,153.8 376.5,156.3 377.2,155.9 378.0,154.3 378.7,154.7 379.5,153.3 380.3,152.8 381.3,151.7 382.3,153.0 383.3,152.4 384.3,151.3 385.3,151.0 386.3,151.4 387.2,151.2 388.2,152.1 389.2,150.6 390.2,151.1 391.2,150.3 392.2,150.4 393.2,149.8 394.2,150.2 395.2,149.2 396.2,149.6 397.2,148.9 398.2,148.9 399.2,148.9 400.2,149.0 401.2,150.5 402.2,149.4 403.2,149.2 404.2,149.0 405.2,149.9 406.2,150.2 407.2,149.6 408.2,149.6 409.2,149.9 410.2,149.4 411.2,149.1 412.2,149.7 413.2,148.9 414.2,148.9 415.2,148.1 416.2,147.9 417.2,148.4 418.2,149.2 419.2,149.6 420.2,148.8 421.2,149.0 422.2,148.5 423.2,149.1 424.2,149.3 425.2,149.3 426.2,148.5 427.1,148.0 428.1,148.0 429.1,148.9 430.1,147.7 431.1,148.7 432.1,148.7 432.9,149.0 433.6,149.8 434.3,151.0 434.9,151.6 435.9,150.8 436.9,151.4 437.9,150.9 438.9,151.7 439.9,150.7 440.9,151.4 441.9,150.3 442.9,150.6 443.9,150.2 444.9,150.7 445.9,150.1 446.9,150.6 447.9,150.5 448.9,149.5 449.9,149.2 450.9,150.4 451.9,150.3 452.9,150.6 453.8,150.1 454.7,152.1 455.6,151.7 456.5,152.4 457.4,152.4 458.3,153.3 459.2,154.1 460.2,153.2 461.1,154.3 462.1,155.1 463.1,155.3 464.0,155.3 465.0,155.0 466.0,156.7 466.9,156.9 467.9,155.7 468.8,155.2 469.8,154.8 470.7,154.8 471.6,154.9 472.6,153.2 473.5,154.0 474.4,153.4 475.4,152.7 476.3,152.5 477.3,153.9 478.3,153.6 479.3,153.1 480.3,153.5 481.3,153.5 482.2,152.8 483.2,154.2 484.2,154.1 485.2,154.3 486.2,154.5 487.2,155.1 488.2,154.2 489.2,154.6 490.2,155.6 491.2,155.5 492.1,155.9 493.1,156.3 494.1,156.5 495.1,156.4 496.1,155.9 497.1,156.6 498.1,156.7 499.1,155.9 500.1,156.1 501.0,157.1 502.0,155.5 503.0,155.2 503.9,156.9 504.9,156.5 505.8,157.4 506.7,156.9 507.7,157.1 508.6,158.2 509.5,157.3 510.5,158.8 511.5,158.5 512.5,158.0 513.5,157.6 514.5,157.7 515.5,158.5 516.5,157.2 517.5,158.6 518.5,158.2 519.5,157.9 520.5,158.9 521.5,157.5 522.5,158.3 523.5,158.4 524.5,157.6 525.5,158.8 526.5,158.1 527.4,157.6 528.4,157.0 529.4,157.2 530.4,157.4 531.4,156.1 532.3,157.8 533.3,157.6 534.3,156.0 535.3,157.3 536.3,156.4 537.3,155.7 538.3,156.1 539.3,156.8 540.3,156.3 541.3,155.7 542.3,156.0 543.3,155.0 544.3,155.0 545.2,155.0 546.2,155.0 547.2,155.9 548.2,156.0 549.2,156.6 550.2,155.7 551.2,156.8 552.2,156.2 553.2,156.1 554.2,156.8 555.2,157.0 556.2,156.4 557.2,156.7 558.2,156.8 559.2,157.2 560.2,156.9 561.2,157.3 562.2,156.2 563.2,156.4 564.2,157.9 565.2,156.4 566.2,157.8 567.2,156.4 568.2,156.9 569.2,157.7 570.2,156.4 571.2,156.7 572.2,157.7 573.2,157.4 574.2,156.9 575.2,156.9 576.2,157.9 577.2,157.4 578.2,157.8 579.2,157.7 580.2,158.1 581.2,157.8 582.2,156.7 583.2,156.4 584.2,156.5 585.2,156.7 586.2,158.0 587.2,158.1 588.2,157.9 589.2,157.6 590.2,157.7 591.2,157.3 592.2,157.0 593.2,157.9 594.2,157.5 595.2,158.3 596.2,156.7 597.2,156.8 598.2,158.1 599.2,157.7 600.2,158.4 601.2,157.6 602.2,158.5 603.2,157.1 604.2,158.2 605.2,158.2 606.2,157.8 607.2,156.9 608.2,157.5 609.2,158.3 610.2,156.9 611.2,156.5 612.2,156.8 613.2,158.2 614.2,156.7 615.2,157.3 616.2,158.3 617.2,157.4 618.2,156.9 619.2,158.2 620.2,157.0 621.2,157.8 622.2,157.4 623.2,156.8 624.2,157.0 625.2,157.9 626.2,157.8 627.2,156.6 628.2,157.6 629.2,158.0 630.0,157.6 630.2,155.8 630.3,155.2 630.5,155.2 630.6,154.4 630.8,153.0 630.9,152.2 631.1,153.3 631.3,154.2 631.5,155.0 631.8,155.9 632.0,156.0 632.2,157.8 632.4,158.5 633.0,158.7 633.9,159.0 634.9,158.2 635.9,157.9 636.9,158.9 637.9,157.9 638.9,158.0 639.9,158.7 640.9,157.5 641.9,157.4 642.9,158.4 643.9,158.4 644.9,158.8 645.9,159.2 646.9,158.7 647.9,158.4 648.9,158.2 649.9,157.8 650.9,157.8 651.9,159.1 652.9,158.1 653.9,159.1 654.9,158.1 655.9,159.0 656.9,159.0 657.9,158.8 658.9,157.8 659.9,158.5 660.9,158.8 661.9,157.3 662.9,157.1 663.9,157.2 664.9,157.4 665.9,158.1 666.9,158.8 667.9,157.6 668.9,158.4 669.9,158.1 670.9,158.8 671.9,158.6 672.9,158.3 673.9,159.1 674.9,159.2 675.9,158.4 676.9,159.2 677.9,158.6 678.9,157.5 679.9,157.6 680.9,157.6 681.9,159.1 682.9,159.4 683.9,159.1 684.9,158.0 685.9,158.5 686.9,158.9 687.9,159.3 688.9,158.6 689.9,159.5 690.9,158.8 691.9,157.8 692.9,158.0 693.9,158.1 694.9,157.6 695.9,157.9 696.9,157.3 697.9,158.0 698.9,158.4 699.9,157.3 700.9,157.6 701.9,158.2 702.9,157.3 703.9,158.1 704.9,156.8 705.9,157.0 706.9,158.2 707.9,158.1 708.9,156.8 709.9,156.6 710.9,157.5 711.9,157.6 712.9,156.3 713.9,156.7 714.9,156.4 715.9,157.3 716.9,157.0 717.9,156.1 718.9,157.7 719.9,156.3 720.9,157.2 721.9,156.5 722.9,156.8 723.9,157.4 724.9,156.3 725.9,157.4 726.9,157.6 727.9,157.5 728.9,156.1 729.9,156.3 730.9,156.2 731.9,156.0 732.9,156.8 733.9,156.3 734.9,156.4 735.9,156.7 736.9,158.1 737.9,157.1 738.9,156.9 739.9,158.4 740.9,157.4 741.9,157.5 742.9,157.2 743.9,157.4 744.9,156.7 745.9,156.9 746.9,157.5 747.9,157.3 748.9,157.2 749.9,157.1 750.9,157.1 751.9,157.1 752.9,158.2 753.9,158.6 754.9,158.4 755.9,157.8 756.9,158.9 757.9,157.8 758.8,158.4 759.8,158.7 760.8,158.7 761.8,158.2 762.8,158.7 763.8,158.7 764.8,158.5 765.9,159.3 766.9,158.7 767.9,158.9 768.9,158.5 769.9,158.5 770.9,159.1 771.9,159.6 772.9,158.8 773.9,159.5 774.9,159.9 775.9,159.7 776.9,159.5 777.9,158.3 778.9,159.4 779.9,158.7 780.9,159.6 781.9,159.4 782.9,159.4 783.9,159.7 784.9,158.6 785.9,159.5 786.9,159.8 787.9,159.0 788.9,158.3 789.9,159.3 790.8,157.9 791.8,157.4 792.8,158.8 793.8,157.7 794.8,157.7 795.8,158.0 796.8,157.5 797.8,158.3 798.8,158.6 799.8,158.1 800.8,157.7 801.8,158.0 802.8,158.4 803.8,157.3 804.8,158.6 805.8,157.9 806.8,158.0 807.8,158.0 808.8,157.2 809.8,156.9 810.8,157.1 811.8,158.1 812.8,158.3 813.8,158.7 814.8,158.3 815.8,158.8 816.8,159.3 817.7,159.5 818.7,159.7 819.7,160.2 820.7,160.5 821.7,159.4 822.7,160.2 823.7,160.0 824.6,159.0 825.6,160.2 826.6,158.7 827.6,158.6 828.6,159.3 829.6,158.8 830.6,158.2 831.6,159.2 832.6,158.7 833.6,158.9 834.6,158.0 835.6,159.2 836.6,159.7 837.6,159.5 838.6,158.5 839.6,158.9 840.6,159.0 841.6,159.5 842.6,159.0 843.6,158.2 844.6,158.8 845.6,159.0 846.6,159.5 847.6,158.4 848.6,159.0 849.6,157.9 850.6,159.3 851.6,159.0 852.6,159.1 853.5,158.7 854.5,158.9 855.5,160.0 856.4,159.7 857.4,159.2 858.4,159.3 859.4,160.6 860.3,161.3 861.3,160.0 862.3,161.6 863.3,161.5 864.3,160.8 865.2,161.8 866.2,162.5 867.2,161.5 868.2,162.7 869.2,162.1 870.2,161.5 871.1,163.0 872.1,163.0 873.1,163.8 874.1,163.2 875.1,164.0 876.1,163.6 877.0,163.4 878.0,164.2 879.0,164.8 880.0,164.2 881.0,164.4 882.0,164.4 882.9,165.4 883.9,165.0 884.9,165.6 885.8,165.6 886.8,165.4 887.7,166.5 888.7,166.4 889.7,167.5 890.6,167.6 891.6,168.0 892.6,168.5 893.5,168.1 894.5,168.9 895.4,169.8 896.4,169.3 897.4,168.6 898.3,169.5 899.3,169.0 900.2,170.9 901.2,170.1 902.1,171.2 903.1,170.9 904.1,170.8 905.0,170.6 906.0,171.5 906.9,171.4 907.9,172.4 908.8,173.3 909.8,172.5 910.7,173.1 911.7,174.2 912.6,174.1 913.6,174.2 914.5,175.7 915.5,175.2 916.4,175.6 917.4,175.8 918.3,176.6 919.2,175.7 920.1,176.8 921.0,177.6 921.9,177.3 922.9,177.8 923.8,178.7 924.7,179.2 925.6,178.3 926.5,179.9 927.4,179.6 928.4,179.7 929.3,181.0 930.2,180.4 931.0,181.3 931.9,183.0 932.8,182.1 933.6,182.5 934.5,183.4 935.3,183.7 936.2,184.7 937.0,184.7 937.9,186.4 938.8,186.4 939.6,187.7 940.5,188.2 941.3,187.9 942.2,188.8 943.0,188.5 943.7,190.3 944.4,191.1 945.1,191.9 945.8,191.7 946.5,193.6 947.2,193.3 947.9,194.6 948.6,195.5 949.3,195.9 950.0,197.1 950.7,196.6 951.4,197.9 952.2,199.0 952.9,198.7 953.6,200.3 954.3,201.1 955.0,201.8 955.7,202.3 956.3,201.9 957.0,203.2 957.7,204.0 958.4,204.9 959.1,205.2 959.8,206.4 960.4,206.6 961.1,207.2 961.8,208.8 962.5,208.1 963.2,209.7 963.8,209.5 964.5,211.5 965.2,211.9 965.7,213.3 966.3,212.7 966.9,213.9 967.5,214.7 968.0,217.0 968.6,217.1 969.2,218.0 969.8,218.0 970.3,219.1 970.9,219.6 971.5,220.9 972.1,221.6 972.6,223.5 973.2,223.6 973.8,224.1 974.4,225.7 974.9,225.7 975.5,227.4 976.1,228.5 976.7,229.1 977.3,229.0 977.9,230.0 978.5,230.1 979.1,231.1 979.7,233.2 980.2,233.0 980.8,234.4 981.4,235.4 982.0,235.6 982.6,236.0 983.2,237.4 983.8,238.0 984.4,238.4 984.9,240.7 985.5,240.8 986.0,242.0 986.4,243.2 986.9,243.7 987.4,245.2 987.9,245.7 988.4,246.1 988.9,247.7 989.4,248.1 989.9,249.8 990.4,250.4 990.9,250.8 991.4,252.5 991.9,253.1 992.4,253.6 992.9,254.3 993.4,255.0 993.9,255.9 994.4,256.8 994.9,257.6 995.3,257.6 995.7,259.8 996.0,260.2 996.4,261.8 996.8,262.3 997.1,263.5 997.5,264.7 997.9,266.1 998.3,265.9 998.6,266.4 999.0,268.3 999.4,268.2 999.7,269.8 1000.2,271.5 1000.7,271.2 1001.2,271.8 1001.6,272.8 1002.1,274.9 1002.6,275.6 1003.1,275.0 1003.6,276.1 1004.1,278.4 1004.6,279.3 1005.1,279.3 1005.6,280.6 1006.1,280.1 1006.6,282.0 1007.1,282.5 1007.6,283.4 1008.1,283.6 1008.6,285.2 1009.1,285.4 1009.6,286.4 1010.1,288.6 1010.5,288.7 1010.9,290.3 1011.3,290.0 1011.7,291.5 1012.1,292.8 1012.5,293.5 1012.9,293.3 1013.3,294.1 1013.7,295.7 1014.1,296.3 1014.5,297.0 1014.9,298.2 1015.4,299.5 1015.8,300.0 1016.2,301.1 1016.6,301.6 1017.0,303.0 1017.4,303.8 1017.8,304.8 1018.2,305.5 1018.6,306.1 1019.0,308.1 1019.4,308.6 1019.8,310.2 1020.2,310.7 1020.6,311.1 1021.0,313.5 1021.3,313.6 1021.7,314.7 1022.1,315.9 1022.4,317.2 1022.8,316.5 1023.2,318.9 1023.6,318.5 1023.9,320.0 1024.3,321.2 1024.7,322.3 1025.0,322.2 1025.4,323.0 1025.8,323.8 1026.2,325.3 1026.5,327.3 1026.9,328.5 1027.3,328.7 1027.6,330.0 1028.0,330.4 1028.4,330.7 1028.8,331.8 1029.1,333.2 1029.5,333.2 1029.9,335.3 1030.2,335.3 1030.5,336.6 1030.8,336.9 1031.2,337.4 1031.5,339.1 1031.8,339.6 1032.1,341.3 1032.4,341.2 1032.7,342.7 1033.1,343.5 1033.4,344.0 1033.7,345.2 1034.0,345.9 1034.3,347.1 1034.6,348.9 1035.0,349.7 1035.4,349.9 1035.8,352.0 1036.3,352.6 1036.7,352.5 1037.2,355.0 1037.6,356.3 1038.1,356.1 1038.5,356.7 1039.0,359.0 1039.4,359.8 1039.9,360.9 1040.3,360.2 1040.7,361.3 1041.1,362.9 1041.5,363.0 1041.9,365.1 1042.3,365.8 1042.7,366.6 1043.1,367.7 1043.5,368.2 1043.9,369.6 1044.3,370.9 1044.8,370.8 1045.2,371.2 1045.6,372.6 1046.0,373.0 1046.4,374.6 1046.8,375.6 1047.2,376.7 1047.6,376.5 1048.0,377.6 1048.4,378.7 1048.8,379.1 1049.2,380.1 1049.6,382.0 1050.0,382.8 1050.5,384.0 1051.0,384.7 1051.5,385.8 1051.9,386.4 1052.4,386.3 1052.9,387.0 1053.3,387.9 1053.8,388.7 1054.3,390.4 1054.8,391.9 1055.2,391.7 1055.7,393.1 1056.2,394.5 1056.6,394.4 1057.1,395.1 1057.6,396.0 1058.0,396.2 1058.5,398.3 1059.0,398.6 1059.5,400.3 1059.9,401.1 1060.4,401.3 1061.0,403.0 1061.5,403.5 1062.0,405.0 1062.5,405.6 1063.1,406.4 1063.6,407.4 1064.1,408.8 1064.6,408.4 1065.2,409.5 1065.7,411.0 1066.2,410.7 1066.7,412.2 1067.3,412.4 1067.8,413.4 1068.3,415.0 1068.8,415.2 1069.4,415.4 1069.9,417.5 1070.4,418.5 1070.9,419.7 1071.5,419.5 1072.0,419.5 1072.5,421.0 1073.0,422.1 1073.6,422.5 1074.1,423.3 1074.6,424.3 1075.1,425.4 1075.7,426.4 1076.2,427.7 1076.7,428.2 1077.2,429.6 1077.8,430.8 1078.3,430.1 1078.8,431.5 1079.3,433.0 1079.9,434.3 1080.4,434.2 1080.9,435.9 1081.4,435.7 1082.0,437.5 1082.5,438.5 1083.0,439.0 1083.5,439.5 1084.0,440.3 1084.6,440.5 1085.1,442.5 1085.6,442.7 1086.1,443.2 1086.7,445.4 1087.2,445.1 1087.7,447.0 1088.2,446.9 1088.8,448.6 1089.3,449.4 1089.8,450.0 1090.3,451.3 1090.8,451.9 1091.3,453.0 1091.8,454.1 1092.3,454.5 1092.8,454.9 1093.3,455.9 1093.8,456.3 1094.3,457.5 1094.8,457.8 1095.3,458.7 1095.8,460.9 1096.3,460.5 1096.8,462.5 1097.3,463.7 1097.8,462.9 1098.3,465.1 1098.8,464.6 1099.3,467.2 1099.8,467.0 1100.2,467.8 1100.6,469.5 1101.1,470.7 1101.5,471.5 1101.9,471.0 1102.3,473.1 1102.8,473.3 1103.2,474.6 1103.6,473.9 1104.1,476.2 1104.5,477.1 1104.9,477.7 1105.3,478.5 1105.8,478.5 1106.2,479.5 1106.6,480.4 1107.0,481.8 1107.5,483.6 1107.9,483.9 1108.3,484.6 1108.7,486.4 1109.2,487.1 1109.6,487.0 1110.0,489.3 1110.4,490.0 1110.9,491.4 1111.3,491.9 1111.7,492.1 1112.1,493.8 1112.5,494.6 1113.0,494.7 1113.4,496.5 1113.8,496.9 1114.2,497.8 1114.6,499.7 1115.0,500.2 1115.5,500.5 1115.9,501.2 1116.3,502.5 1116.7,503.9 1117.1,505.4 1117.6,504.8 1117.9,506.3 1118.2,507.5 1118.5,507.3 1118.9,509.5 1119.2,510.0 1119.5,510.7 1119.9,510.7 1120.2,513.2 1120.5,513.5 1120.9,515.3 1121.2,516.4 1121.5,516.9 1121.8,518.1 1122.2,518.3 1122.5,519.7 1122.8,521.7 1123.2,521.1 1123.5,522.9 1123.8,523.1 1124.2,525.4 1124.5,524.8 1124.8,526.9 1125.2,527.1 1125.5,527.6 1125.8,529.4 1126.1,529.6 1126.4,531.7 1126.7,532.6 1127.0,533.2 1127.3,533.5 1127.6,534.0 1127.9,536.1 1128.2,537.5 1128.5,537.5 1128.7,538.0 1129.0,539.0 1129.3,540.3 1129.6,542.3 1129.9,542.7 1130.2,544.4 1130.5,543.7 1130.8,545.4 1131.0,546.5 1131.3,547.2 1131.6,548.6 1131.9,549.1 1132.2,550.3 1132.5,550.3 1132.8,551.5 1133.1,552.4 1133.3,553.6 1133.6,555.4 1133.9,555.3 1134.2,556.5 1134.4,557.1 1134.7,557.4 1135.0,558.5 1135.2,560.5 1135.5,561.7 1135.7,562.8 1136.0,563.0 1136.3,564.4 1136.5,565.8 1136.8,567.1 1137.0,566.5 1137.3,568.7 1137.6,568.9 1137.8,569.4 1138.1,571.2 1138.3,570.6 1138.6,572.1 1138.9,573.5 1139.1,574.0 1139.4,574.9 1139.6,576.1 1139.9,577.6 1140.2,578.8 1140.4,579.2 1140.7,581.0 1140.9,582.4 1141.2,583.3 1141.4,583.8 1141.6,585.4 1141.9,586.2 1142.1,586.7 1142.4,587.4 1142.6,587.9 1142.9,589.3 1143.1,590.9 1143.3,591.4 1143.6,592.3 1143.8,592.8 1144.1,594.1 1144.3,595.8 1144.6,596.0 1144.8,597.9 1145.0,599.3 1145.3,600.3 1145.5,600.5 1145.8,602.1 1146.0,602.6 1146.3,603.3 1146.5,604.3 1146.7,605.3 1146.9,606.1 1147.1,606.8 1147.3,607.9 1147.5,609.5 1147.7,610.9 1147.9,611.8 1148.1,611.4 1148.3,613.8 1148.5,614.8 1148.7,615.9 1148.9,616.7 1149.1,617.8 1149.3,617.8 1149.5,618.9 1149.7,619.3 1149.9,620.2 1150.1,622.3 1150.3,623.2 1150.5,624.5 1150.7,625.4 1150.9,625.5 1151.1,626.4 1151.3,627.3 1151.5,628.7 1151.7,630.1 1151.8,629.8 1152.0,631.9 1152.2,632.5 1152.4,633.3 1152.5,633.2 1152.7,635.3 1152.9,636.2 1153.1,636.7 1153.3,638.0 1153.4,638.6 1153.6,640.0 1153.8,641.0 1154.0,641.8 1154.1,642.8 1154.3,643.9 1154.5,644.5 1154.7,646.6 1154.9,647.7 1155.0,647.8 1155.2,648.5 1155.4,650.7 1155.6,650.3 1155.7,652.2 1155.9,653.1 1156.1,653.3 1156.3,654.9 1156.5,656.8 1156.7,657.2 1156.9,657.9 1157.1,659.5 1157.3,660.4 1157.6,660.0 1157.8,662.5 1158.0,662.7 1158.2,663.3 1158.4,664.6 1158.6,666.4 1158.9,666.3 1159.1,668.7 1159.3,669.2 1159.5,670.0 1159.7,671.1 1159.9,671.6 1160.1,672.6 1160.4,675.0 1160.6,675.7 1160.8,675.5 1161.0,676.8 1161.2,677.8 1161.4,678.1 1161.6,678.9 1161.9,681.4 1162.1,681.1 1162.2,682.0 1162.4,683.5 1162.6,684.8 1162.8,686.4 1163.0,687.1 1163.2,687.9 1163.4,688.1 1163.6,690.4 1163.8,690.7 1164.0,691.4 1164.2,692.8 1164.4,692.7 1164.6,693.6 1164.8,695.4 1165.0,696.0 1165.2,697.4 1165.4,698.0 1165.6,699.6 1165.8,699.5 1166.0,701.3 1166.2,702.6 1166.4,703.8 1166.6,703.7 1166.8,706.0 1166.9,705.5 1167.1,708.1 1167.3,709.0 1167.5,710.0 1167.6,709.9 1167.8,711.4 1168.0,711.8 1168.2,713.5 1168.4,714.2 1168.5,715.8 1168.7,715.4 1168.9,717.5 1169.1,718.1 1169.2,719.3 1169.4,720.5 1169.6,721.4 1169.8,721.7 1170.0,722.8 1170.1,723.5 1170.3,725.4 1170.5,726.7 1170.7,727.5 1170.8,728.6 1171.0,729.1 1171.2,729.8 1171.4,730.2 1171.5,732.2 1171.7,732.5 1171.9,732.7 1172.1,734.3 1172.3,734.7 1172.4,736.9 1172.6,737.7 1172.8,738.0 1173.0,739.2 1173.1,740.5 1173.3,742.4 1173.5,742.1 1173.7,743.2 1173.9,744.1 1174.0,745.8 1174.2,747.1 1174.4,747.0 1174.6,747.5 1174.7,749.9 1174.9,749.3 1175.1,750.2 1175.3,752.0 1175.4,753.0 1175.6,754.4 1175.8,755.5 1176.0,755.7 1176.1,756.9 1176.3,758.5 1176.5,758.5 1176.6,759.5 1176.8,761.2 1177.0,761.7 1177.1,762.4 1177.3,763.8 1177.5,765.3 1177.6,766.8 1177.8,766.8 1178.0,769.2 1178.1,769.1 1178.3,770.5 1178.5,771.8 1178.6,772.7 1178.8,773.0 1179.0,774.6 1179.2,774.9 1179.3,776.3 1179.5,776.4 1179.7,778.7 1179.8,779.6 1180.0,779.2 1180.2,780.9 1180.3,781.9 1180.5,782.6 1180.7,783.5 1180.9,784.1 1181.1,785.2 1181.2,785.9 1181.4,787.4 1181.6,787.9 1181.8,789.1 1181.9,790.6 1182.1,791.4 1182.3,792.8 1182.5,793.2 1182.6,794.1 1182.8,795.5 1183.0,796.4 1183.2,798.0 1183.4,798.5 1183.5,799.9 1183.7,799.8 1183.9,801.4 1184.1,803.1 1184.2,803.5 1184.4,805.2 1184.6,805.6 1184.8,806.3 1184.9,807.5 1185.1,808.6 1185.3,809.3 1185.5,810.3 1185.6,810.6 1185.8,813.1 1186.0,813.3 1186.2,815.5 1186.4,816.0 1186.5,817.0 1186.7,817.2 1186.9,818.6 1187.1,819.9 1187.2,820.0 1187.4,821.6 1187.6,822.3 1187.8,823.8 1187.9,823.3 1188.1,825.1 1188.3,826.5 1188.5,827.9 1188.6,828.9 1188.8,828.5 1189.0,830.6 1189.2,831.1 1189.3,833.2 1189.5,834.3 1189.7,834.8 1189.9,835.0 1190.0,835.7 1190.2,837.9 1190.4,838.8 1190.6,840.2 1190.8,840.5 1191.0,841.1 1191.1,842.7 1191.3,843.6 1191.5,844.5 1191.7,845.4 1191.9,845.8 1192.1,846.7 1192.3,847.6 1192.5,848.9 1192.7,850.6 1192.9,851.2 1193.1,852.0 1193.3,853.4 1193.5,854.2 1193.7,854.5 1193.9,856.4 1194.1,856.2 1194.3,858.4 1194.5,859.5 1194.7,859.3 1194.9,861.5 1195.1,862.1 1195.3,862.9 1195.5,863.6 1195.7,865.3 1195.9,865.0 1196.1,866.9 1196.3,867.9 1196.4,868.4 1196.6,870.2 1196.8,870.2 1197.0,871.3 1197.2,872.8 1197.4,873.7 1197.6,873.9 1197.8,876.1 1198.0,876.5 1198.2,878.0 1198.4,878.0 1198.6,879.3 1198.8,880.5 1199.0,881.9 1199.2,882.0 1199.4,883.9 1199.5,884.1 1199.7,885.1 1199.9,886.4 1200.1,886.8 1200.3,888.1 1200.5,889.7 1200.7,890.0 1200.9,891.9 1201.0,892.0 1201.2,893.3 1201.4,894.1 1201.6,895.7 1201.8,896.8 1202.0,897.8 1202.2,898.0 1202.3,899.6 1202.5,899.8 1202.7,900.0 1202.9,900.9 1203.1,902.7 1203.3,903.6 1203.5,904.3 1203.7,906.1 1203.9,907.0 1204.2,908.4 1204.4,909.0 1204.6,909.6 1204.9,911.0 1205.1,912.3 1205.3,912.4 1205.6,912.8 1205.8,915.0 1206.0,915.7 1206.3,916.2 1206.5,917.0 1206.7,917.5 1207.0,919.9 1207.2,920.5 1207.4,922.1 1207.7,923.3 1207.9,923.9 1208.1,924.8 1208.4,925.8 1208.6,926.7 1208.8,927.8 1209.1,927.4 1209.3,929.8 1209.5,930.4 1209.7,931.2 1210.0,931.6 1210.2,932.6 1210.4,933.4 1210.6,934.6 1210.8,936.1 1211.0,937.4 1211.3,938.7 1211.5,939.4 1211.7,940.0 1211.9,941.1 1212.1,942.1 1212.3,944.3 1212.5,945.1 1212.8,944.7 1213.0,946.3 1213.2,946.9 1213.4,947.2 1213.6,949.6 1213.8,949.6 1214.0,950.7 1214.3,950.8 1214.5,952.0 1214.7,952.8 1214.9,954.9 1215.1,955.6 1215.3,957.2 1215.6,956.9 1215.8,959.1 1216.0,960.4 1216.2,961.0 1216.4,962.3 1216.6,962.8 1216.8,963.9 1217.1,965.3 1217.3,964.8 1217.5,965.8 1217.7,966.7 1217.9,968.2 1218.1,969.1 1218.3,970.4 1218.6,971.0 1218.8,972.6 1219.0,973.2 1219.2,973.4 1219.4,974.6 1219.6,976.0 1219.9,977.4 1220.1,978.5 1220.3,979.0 1220.5,980.8 1220.7,980.4 1220.9,981.7 1221.1,982.8 1221.2,983.3 1221.4,984.3 1221.6,986.5 1221.8,986.4 1222.0,987.8 1222.2,988.6 1222.4,990.3 1222.6,990.1 1222.7,992.1 1222.9,992.7 1223.1,992.9 1223.3,993.9 1223.5,995.6 1223.7,996.1 1223.9,997.2 1224.0,998.3 1224.2,999.4 1224.4,1000.9 1224.6,1001.4 1224.8,1003.3 1225.0,1004.0 1225.2,1004.5 1225.4,1004.9 1225.8,1006.4 1226.1,1006.6 1226.4,1008.7 1226.7,1009.7 1227.1,1009.4 1227.4,1010.2 1227.7,1012.1 1228.0,1012.8 1228.4,1013.5 1228.7,1014.0 1229.0,1015.8 1229.3,1017.1 1229.7,1017.3 1230.0,1018.2 1230.3,1019.3 1230.6,1021.2 1230.9,1021.2 1231.3,1021.7 1231.7,1023.6 1232.0,1023.6 1232.4,1026.3 1232.8,1026.6 1233.2,1027.4 1233.6,1027.9 1234.0,1029.8 1234.4,1030.1 1234.7,1031.3 1235.1,1032.3 1235.5,1033.1 1235.9,1033.8 1236.3,1034.0 1236.7,1035.7 1237.1,1036.4 1237.4,1036.0 1237.9,1037.6 1238.3,1038.1 1238.8,1039.4 1239.2,1039.5 1239.7,1040.7 1240.1,1041.7 1240.6,1043.8 1241.0,1043.8 1241.5,1045.2 1241.9,1046.8 1242.3,1047.5 1242.8,1048.9 1243.2,1049.1 1243.7,1049.3 1244.1,1051.4 1244.6,1051.4 1245.0,1052.8 1245.5,1053.9 1246.0,1055.1 1246.6,1054.8 1247.1,1055.7 1247.6,1058.1 1248.1,1058.5 1248.6,1059.8 1249.1,1060.4 1249.6,1059.9 1250.1,1061.1 1250.6,1063.1 1251.1,1064.1 1251.6,1064.7 1252.1,1065.8 1252.6,1065.3 1253.1,1066.8 1253.6,1068.6 1254.2,1069.0 1254.7,1070.0 1255.3,1070.2 1255.9,1070.9 1256.5,1071.4 1257.0,1072.0 1257.6,1072.8 1258.2,1073.5 1258.8,1075.8 1259.3,1074.9 1259.9,1076.8 1260.5,1077.7 1261.1,1078.1 1261.6,1078.0 1262.2,1078.8 1262.8,1079.6 1263.5,1081.0 1264.3,1081.1 1265.0,1081.8 1265.7,1083.5 1266.4,1084.5 1267.1,1084.3 1267.8,1085.3 1268.5,1085.7 1269.2,1086.5 1269.9,1087.3 1270.6,1087.5 1271.3,1089.2 1272.0,1088.9 1272.8,1090.6 1273.5,1090.1 1274.3,1091.7 1275.1,1092.5 1275.9,1092.8 1276.7,1092.7 1277.5,1094.3 1278.2,1094.7 1279.0,1094.4 1279.8,1096.6 1280.6,1096.6 1281.4,1096.0 1282.1,1097.2 1282.9,1098.5 1283.7,1098.2 1284.5,1098.7 1285.3,1099.8 1286.2,1100.6 1287.1,1100.3 1288.0,1100.3 1288.9,1101.7 1289.8,1102.0 1290.7,1103.2 1291.6,1102.7 1292.5,1102.9 1293.4,1103.6 1294.3,1104.0 1295.2,1104.6 1296.0,1106.3 1296.9,1106.0 1297.8,1106.8 1298.8,1106.7 1299.7,1107.1 1300.6,1108.2 1301.5,1108.7 1302.4,1109.3 1303.3,1108.8 1304.2,1109.3 1305.1,1110.1 1306.0,1110.3 1306.9,1111.6 1307.8,1110.6 1308.8,1112.3 1309.7,1112.8 1310.6,1111.8 1311.5,1113.2 1312.4,1113.7 1313.2,1113.8 1314.1,1114.4 1315.0,1115.1 1315.9,1115.2 1316.8,1116.1 1317.7,1116.9 1318.6,1116.7 1319.5,1116.8 1320.5,1116.9 1321.5,1117.6 1322.5,1117.5 1323.5,1116.4 1324.5,1117.3 1325.5,1116.9 1326.5,1116.2 1327.5,1117.2 1328.5,1116.7 1329.5,1116.7 1330.5,1117.5 1331.5,1117.1 1332.4,1116.5 1333.4,1116.0 1334.4,1117.3 1335.4,1116.2 1336.4,1117.2 1337.3,1116.8 1338.3,1117.7 1339.3,1116.6 1340.2,1118.0 1341.2,1117.1 1342.1,1118.4 1343.1,1119.1 1344.1,1118.4 1345.0,1119.6 1346.0,1119.6 1346.9,1119.0 1347.9,1120.6 1348.9,1119.2 1349.9,1119.0 1350.9,1120.7 1351.9,1120.3 1352.9,1120.1 1353.9,1120.6 1354.9,1121.0 1355.9,1119.8 1356.9,1120.4 1357.9,1120.5 1358.9,1120.4 1359.9,1120.5 1360.9,1120.9 1361.9,1121.5 1362.9,1120.9 1363.9,1121.8 1364.8,1122.1 1365.8,1122.7 1366.8,1121.7 1367.8,1123.1 1368.8,1122.4 1369.8,1121.8 1370.8,1122.9 1371.8,1122.5 1372.8,1123.4 1373.8,1123.5 1374.8,1122.6 1375.8,1121.8 1376.8,1121.5 1377.8,1122.6 1378.8,1121.8 1379.8,1122.4 1380.8,1121.9 1381.8,1122.6 1382.8,1121.4 1383.8,1122.3 1384.8,1121.5 1385.7,1122.2 1386.7,1122.2 1387.7,1121.6 1388.6,1123.4 1389.6,1122.3 1390.6,1123.4 1391.6,1123.1 1392.5,1122.8 1393.5,1123.9 1394.5,1123.4 1395.4,1125.5 1396.4,1124.2 1397.3,1125.4 1398.2,1125.2 1399.1,1126.6 1400.1,1126.3 1401.0,1126.8 1401.9,1127.4 1402.9,1128.1 1403.9,1127.4 1404.9,1126.8 1405.9,1127.4 1406.9,1126.2 1407.8,1127.0 1408.8,1126.3 1409.8,1126.5 1410.8,1126.2 1411.8,1127.2 1412.8,1126.6 1413.8,1127.4 1414.8,1126.3 1415.8,1128.2 1416.7,1127.6 1417.7,1128.4 1418.7,1127.1 1419.7,1127.8 1420.7,1128.3 1421.7,1127.3 1422.7,1127.3 1423.7,1127.6 1424.7,1127.6 1425.7,1127.7 1426.7,1127.4 1427.7,1128.4 1428.7,1128.4 1429.7,1128.7 1430.7,1128.5 1431.7,1128.1 1432.7,1129.3 1433.7,1128.4 1434.7,1128.7 1435.6,1128.5 1436.5,1130.4 1437.4,1130.4 1438.4,1131.2 1439.3,1130.6 1440.2,1131.5 1441.1,1131.7 1442.0,1131.5 1443.0,1132.3 1443.9,1132.7 1444.8,1132.5 1445.7,1132.0 1446.7,1131.7 1447.6,1132.1 1448.5,1131.6 1449.5,1129.8 1450.3,1129.6 1451.1,1130.1 1451.9,1130.7 1452.8,1132.0 1453.6,1131.9 1454.4,1133.3 1455.2,1134.0 1456.0,1134.4 1456.8,1134.2 1457.6,1134.5 1458.6,1136.2 1459.6,1135.8 1460.6,1135.0 1461.6,1135.1 1462.6,1136.0 1463.6,1135.7 1464.6,1136.3 1465.6,1136.7 1466.6,1135.9 1467.6,1135.4 1468.6,1136.1 1469.6,1135.0 1470.6,1135.7 1471.5,1134.9 1472.5,1135.0 1473.5,1134.6 1474.5,1134.1 1475.5,1133.0 1476.5,1134.2 1477.4,1133.2 1478.4,1132.6 1479.4,1132.3 1480.4,1132.5 1481.3,1133.5 1482.2,1134.3 1483.1,1133.8 1484.0,1134.9 1484.9,1135.8 1485.9,1135.5 1486.8,1136.4 1487.7,1136.1 1488.7,1136.9 1489.7,1137.3 1490.7,1136.6 1491.7,1137.0 1492.7,1136.9 1493.6,1136.5 1494.6,1137.9 1495.6,1137.7 1496.6,1138.1 1497.6,1138.0 1498.6,1137.6 1499.6,1137.2 1500.5,1138.0 1501.5,1138.9 1502.5,1138.0 1503.5,1139.3 1504.5,1139.0 1505.5,1138.3 1506.4,1139.7 1507.4,1140.5 1508.4,1139.3 1509.4,1139.7 1510.4,1140.1 1511.4,1140.3 1512.3,1140.5 1513.3,1139.6 1514.3,1140.6 1515.3,1141.5 1516.3,1140.7 1517.3,1140.5 1518.3,1140.6 1519.3,1141.6 1520.3,1142.4 1521.3,1141.6 1522.3,1143.0 1523.3,1142.4 1524.2,1142.6 1525.2,1143.4 1526.2,1143.6 1527.2,1144.2 1528.2,1142.5 1529.2,1143.7 1530.1,1143.0 1531.1,1143.3 1532.1,1142.7 1533.1,1143.8 1534.1,1142.4 1535.1,1143.4 1536.1,1142.5 1537.1,1143.3 1538.1,1143.8 1539.0,1142.4 1540.0,1143.5 1541.0,1143.6 1542.0,1142.6 1543.0,1142.4 1544.0,1142.8 1544.9,1142.2 1545.9,1142.2 1546.8,1143.9 1547.7,1143.2 1548.7,1143.5 1549.6,1144.2 1550.5,1144.5 1551.5,1145.0 1552.4,1145.1 1553.3,1145.0 1554.3,1145.9 1555.2,1145.6 1556.2,1147.4 1557.1,1147.0 1558.1,1146.2 1559.1,1145.9 1560.1,1146.0 1561.1,1145.6 1562.1,1146.3 1563.1,1146.5 1564.1,1146.6 1565.1,1147.0 1566.1,1145.1 1567.1,1146.5 1568.1,1145.9 1569.0,1146.6 1570.0,1147.1 1571.0,1147.3 1572.0,1146.6 1573.0,1146.8 1574.0,1146.8 1574.9,1147.6 1575.9,1146.9 1576.9,1147.9 1577.9,1147.9 1578.9,1147.4 1579.9,1147.2 1580.9,1148.0 1581.8,1148.6 1582.8,1148.1 1583.8,1149.0 1584.8,1149.2 1585.8,1148.4 1586.8,1149.2 1587.8,1148.3 1588.8,1149.6 1589.8,1148.3 1590.8,1148.7 1591.8,1148.5 1592.8,1149.0 1593.8,1148.9 1594.8,1149.3 1595.8,1149.1 1596.8,1149.6 1597.7,1149.7 1598.7,1149.3 1599.7,1150.9 1600.7,1149.6 1601.7,1149.9 1602.6,1150.2 1603.6,1151.4 1604.6,1150.8 1605.6,1151.1 1606.6,1150.0 1607.5,1150.2 1608.5,1149.2 1609.4,1149.4 1610.4,1150.9 1611.3,1150.7 1612.3,1151.6 1613.2,1151.9 1614.1,1151.7 1615.1,1152.5 1616.0,1152.5 1616.9,1152.7 1617.9,1153.2 1618.9,1152.2 1619.9,1152.8 1620.9,1152.6 1621.9,1151.9 1622.9,1152.4 1623.9,1152.7 1624.9,1151.6 1625.9,1152.1 1626.9,1151.9 1627.9,1151.0 1628.9,1151.9 1629.9,1151.5 1630.9,1151.2 1631.9,1152.5 1632.8,1151.9 1633.8,1151.6 1634.8,1152.1 1635.8,1152.9 1636.8,1153.3 1637.8,1152.8 1638.8,1153.1 1639.8,1153.7 1640.7,1153.8 1641.7,1152.8 1642.7,1152.7 1643.7,1154.1 1644.7,1153.1 1645.6,1152.4 1646.6,1152.4 1647.6,1152.6 1648.5,1151.9 1649.5,1151.6 1650.5,1151.6 1651.5,1151.9 1652.5,1152.6 1653.5,1152.6 1654.4,1152.1 1655.4,1153.1 1656.4,1152.4 1657.4,1152.8 1658.4,1152.4 1659.4,1152.1 1660.3,1153.7 1661.3,1154.2 1662.2,1154.6 1663.1,1154.7 1664.1,1154.0 1665.0,1155.5 1665.9,1154.4 1666.9,1155.7 1667.8,1156.3 1668.8,1156.5 1669.8,1157.0 1670.8,1157.3 1671.8,1156.2 1672.8,1156.8 1673.8,1157.6 1674.8,1157.6 1675.8,1157.7 1676.8,1157.1 1677.8,1156.8 1678.8,1157.8 1679.8,1157.9 1680.8,1157.5 1681.8,1158.2 1682.7,1157.8 1683.7,1157.8 1684.7,1158.2 1685.7,1158.4 1686.7,1159.6 1687.7,1159.7 1688.7,1159.8 1689.6,1159.9 1690.6,1159.6 1691.6,1160.4 1692.6,1160.5 1693.6,1160.1 1694.6,1159.0 1695.6,1159.4 1696.5,1159.7 1697.5,1159.3 1698.5,1159.0 1699.5,1158.6 1700.5,1158.5 1701.4,1158.7 1702.4,1158.4 1703.4,1159.2 1704.3,1159.5 1705.3,1158.6 1706.2,1160.1 1707.2,1160.1 1708.1,1160.5 1709.1,1160.9 1710.1,1160.8 1711.1,1161.1 1712.1,1161.3 1713.1,1162.1 1714.1,1161.8 1715.1,1161.6 1716.1,1161.8 1717.1,1161.5 1718.1,1161.8 1719.1,1161.2 1720.1,1161.0 1721.1,1161.3 1722.1,1161.3 1723.1,1160.7 1724.1,1160.9 1725.1,1160.7 1726.1,1160.9 1727.1,1162.0 1728.1,1162.0 1729.1,1161.7 1730.1,1161.0 1731.1,1161.2 1732.1,1160.8 1733.1,1160.8 1734.1,1161.4 1735.1,1159.9 1736.1,1160.5 1737.1,1160.3 1738.1,1161.1 1739.1,1160.8 1740.1,1160.6 1741.1,1161.2 1742.1,1160.5 1743.1,1160.2 1744.1,1160.6 1745.1,1161.6 1746.1,1161.3 1747.1,1161.4 1748.1,1161.0 1749.1,1160.7 1749.9,1162.2 1750.8,1162.7 1751.7,1162.8 1752.5,1163.8 1753.4,1163.1 1754.3,1164.6 1755.2,1164.2 1756.1,1165.1 1757.1,1164.0 1758.1,1165.3 1759.1,1165.9 1760.1,1165.1 1761.1,1165.9 1762.0,1166.0 1762.9,1166.1 1763.8,1166.9 1764.7,1166.4 1765.6,1168.1 1766.4,1168.4 1767.3,1167.7 1768.2,1168.7 1769.1,1169.3 1769.9,1170.3 1770.9,1169.7 1771.9,1169.6 1772.9,1168.2 1773.9,1169.4 1774.9,1168.5 1775.8,1167.7 1776.8,1168.6 1777.8,1168.7 1778.8,1168.4 1779.8,1168.1 1780.8,1167.4 1781.8,1167.5 1782.8,1167.0 1783.8,1168.0 1784.8,1167.9 1785.8,1167.4 1786.8,1168.1 1787.8,1167.1 1788.8,1167.7 1789.8,1167.5 1790.7,1168.3 1791.7,1167.8 1792.7,1168.5 1793.6,1168.0 1794.6,1169.9 1795.6,1169.3 1796.5,1169.2 1797.5,1169.4 1798.5,1170.5 1799.4,1169.4 1800.3,1169.1 1801.2,1168.8 1802.1,1168.2 1803.0,1169.2 1803.9,1168.6 1804.8,1166.9 1805.7,1166.6 1806.7,1168.3 1807.7,1167.1 1808.7,1167.5 1809.7,1167.0 1810.5,1169.0 1811.4,1168.2 1812.3,1168.4 1813.1,1168.9 1814.0,1169.5 1814.8,1171.2 1815.7,1170.7 1816.7,1170.6 1817.7,1171.4 1818.7,1170.8 1819.6,1172.0 1820.6,1172.5 1821.6,1172.2 1822.6,1172.9 1823.6,1172.3 1824.6,1172.5 1825.6,1173.3 1826.6,1173.1 1827.6,1173.4 1828.6,1173.3 1829.6,1173.5 1830.6,1172.5 1831.6,1173.9 1832.6,1172.7 1833.6,1174.4 1834.6,1173.3 1835.5,1174.3 1836.5,1174.3 1837.5,1174.9 1838.5,1174.2 1839.5,1175.2 1840.4,1175.3 1841.4,1175.1 1842.4,1176.1 1843.4,1176.5 1844.4,1176.1 1845.4,1175.4 1846.4,1175.9 1847.4,1174.3 1848.4,1175.3 1849.4,1175.4"/>
<polyline class="cv" stroke="#00ff00" points="380.0,158.1 381.0,158.1 381.9,158.8 382.9,157.6 383.9,157.1 384.9,157.6 385.8,157.4 386.7,159.0 387.6,158.5 388.6,158.9 389.5,159.2 390.4,158.6 391.4,159.6 392.3,160.9 393.3,160.7 394.2,160.7 395.2,160.9 396.2,162.1 397.1,161.2 398.1,162.5 399.1,161.9 400.0,163.0 400.9,162.6 401.7,162.0 402.6,161.7 403.5,161.6 404.3,160.4 405.2,159.6 406.0,158.8 407.0,158.6 407.9,159.2 408.9,158.7 409.9,158.6 410.9,159.0 411.9,159.2 412.8,158.9 413.8,160.5 414.8,160.6 415.8,161.2 416.8,160.2 417.8,161.0 418.8,161.2 419.8,160.5 420.8,160.4 421.8,161.5 422.8,161.6 423.8,160.9 424.8,160.6 425.8,160.8 426.8,161.4 427.8,160.8 428.8,160.3 429.8,160.2 430.8,160.3 431.8,160.1 432.8,159.5 433.7,160.4 434.7,159.4 435.7,160.0 436.7,159.6 437.7,159.8 438.7,159.8 439.7,159.2 440.7,158.9 441.6,159.7 442.6,158.8 443.6,159.5 444.6,157.9 445.6,158.4 446.6,159.8 447.6,159.6 448.6,158.6 449.6,158.9 450.6,159.5 451.6,160.1 452.6,159.6 453.5,160.3 454.5,160.0 455.4,160.9 456.4,161.6 457.3,162.0 458.3,161.5 459.2,161.5 460.2,161.8 461.2,161.7 462.1,162.0 463.1,161.4 464.1,162.7 465.1,161.4 466.1,162.6 467.1,162.2 468.1,161.0 469.1,161.2 470.1,162.3 471.1,161.2 472.1,162.0 473.1,160.5 474.0,161.3 475.0,160.8 476.0,161.6 477.0,161.0 478.0,162.2 479.0,161.5 480.0,161.3 481.0,161.5 482.0,162.5 483.0,163.2 483.9,162.5 484.9,162.5 485.8,162.7 486.8,163.3 487.7,163.3 488.7,164.1 489.6,163.2 490.6,163.5 491.5,164.7 492.5,165.1 493.5,166.0 494.5,166.5 495.4,166.8 496.4,166.5 497.4,166.2 498.3,166.6 499.3,166.9 500.2,167.8 501.1,168.0 502.0,168.7 502.8,169.2 503.7,169.6 504.5,169.0 505.4,170.5 506.2,170.5 507.0,171.6 507.8,172.8 508.6,172.2 509.4,174.0 510.2,173.9 511.0,174.7 511.8,174.7 512.6,175.2 513.4,176.4 514.1,177.4 514.9,177.8 515.7,177.9 516.5,178.3 517.3,178.8 518.3,178.9 519.3,179.3 520.3,179.8 521.3,179.6 522.3,179.5 523.3,180.5 524.3,180.3 525.3,180.2 526.3,180.9 527.3,180.7 528.3,179.4 529.3,179.7 530.3,180.1 531.2,180.6 532.1,181.0 533.0,180.4 533.9,181.8 534.8,182.4 535.7,183.5 536.6,183.3 537.6,183.0 538.5,184.2 539.4,184.2 540.3,183.9 541.3,184.1 542.2,185.9 543.2,184.9 544.1,184.9 545.1,186.1 546.1,186.2 547.0,185.3 548.0,186.5 548.9,187.2 549.9,186.6 550.8,186.6 551.7,187.0 552.6,187.9 553.5,188.7 554.4,188.5 555.3,189.3 556.2,190.1 557.1,190.4 558.0,190.8 558.9,191.7 559.7,192.0 560.6,192.7 561.3,192.9 562.1,194.5 562.9,195.5 563.6,195.0 564.4,195.7 565.2,197.5 565.9,197.7 566.7,198.6 567.5,197.9 568.2,198.8 568.9,199.3 569.6,200.2 570.3,201.4 571.0,202.6 571.7,203.4 572.4,204.0 573.1,204.6 573.8,206.3 574.6,207.1 575.3,207.4 576.2,207.2 577.1,208.5 578.0,208.9 578.9,208.0 579.8,209.3 580.7,209.3 581.7,208.0 582.6,207.9 583.6,207.7 584.5,206.9 585.5,207.2 586.4,206.2 587.4,206.1 588.3,207.3 589.2,206.5 590.1,207.0 591.0,208.6 591.9,208.5 592.8,209.8 593.7,209.1 594.6,210.3 595.5,210.1 596.4,210.6 597.3,211.7 598.3,211.6 599.2,212.4 600.1,213.0 601.0,212.1 602.0,212.9 602.9,212.8 603.8,211.2 604.8,210.6 605.7,210.1 606.6,209.8 607.5,210.3 608.5,210.0 609.5,210.1 610.5,210.6 611.4,211.5 612.4,210.9 613.3,211.2 614.2,212.6 615.1,212.8 616.0,212.6 616.9,214.0 617.8,213.2 618.7,215.0 619.6,215.6 620.5,214.6 621.5,215.7 622.5,215.1 623.5,215.3 624.5,216.2 625.5,214.8 626.5,215.1 627.5,214.8 628.5,215.8 629.5,214.8 630.5,216.4 631.4,216.5 632.3,216.0 633.3,217.6 634.2,218.1 635.1,217.3 636.1,216.8 637.0,216.9 638.0,217.1 638.9,216.3 639.9,215.5 640.8,216.6 641.8,215.3 642.7,215.2 643.7,214.4 644.7,213.6 645.7,213.9 646.7,213.9 647.7,213.3 648.7,212.9 649.6,213.4 650.6,213.4 651.6,213.0 652.6,212.7 653.6,213.6 654.6,214.4 655.6,214.1 656.6,213.3 657.6,213.9 658.6,214.3 659.6,215.0 660.6,214.5 661.6,214.5 662.6,215.3 663.4,215.4 664.3,213.4 665.2,213.6 666.1,213.4 666.9,213.2 667.8,211.8 668.7,211.9 669.5,211.4 670.5,211.7 671.4,211.7 672.4,211.6 673.4,211.3 674.3,211.6 675.3,212.1 676.2,212.7 677.1,211.4 678.1,211.1 679.0,210.6 679.9,209.7 680.8,210.4 681.7,209.8 682.7,209.1 683.6,209.2 684.6,208.9 685.6,208.9 686.5,209.1 687.5,210.1 688.4,209.4 689.4,209.8 690.3,208.8 691.2,208.8 692.2,207.4 693.1,207.1 694.0,207.9 694.9,208.4 695.8,208.9 696.8,209.0 697.7,209.0 698.6,210.9 699.5,210.7 700.5,210.8 701.4,210.4 702.4,209.7 703.4,209.8 704.4,210.7 705.4,210.5 706.4,210.1 707.4,209.5 708.3,210.6 709.3,210.1 710.3,209.5 711.3,208.7 712.3,209.6 713.3,209.9 714.3,209.8 715.3,209.5 716.3,208.9 717.3,209.8 718.1,208.9 718.9,208.8 719.7,208.0 720.5,207.0 721.3,207.0 721.8,207.6 722.3,208.6 722.8,209.8 723.4,210.2 723.9,211.1 724.4,211.7 725.0,212.6 725.6,211.4 726.3,211.2 727.0,211.4 727.7,210.3 728.4,209.4 729.1,209.0 729.8,207.3 730.5,207.0 731.1,207.1 731.8,205.8 732.5,204.6 733.2,204.3 734.0,204.5 734.9,204.3 735.8,205.1 736.7,205.2 737.7,206.4 738.6,205.6 739.5,206.5 740.5,207.6 741.4,207.5 742.3,207.1 743.2,207.2 744.1,207.2 745.0,208.5 746.0,208.4 746.9,209.4 747.8,209.6 748.8,209.1 749.7,208.5 750.7,208.9 751.7,207.7 752.6,208.6 753.6,208.7 754.6,208.5 755.6,207.8 756.6,208.2 757.6,207.5 758.5,207.8 759.5,207.3 760.5,207.5 761.5,207.6 762.5,207.5 763.5,207.0 764.5,206.0 765.5,205.7 766.5,207.2 767.5,206.5 768.5,206.1 769.5,205.4 770.5,205.1 771.5,205.4 772.4,204.7 773.4,206.1 774.4,205.2 775.4,205.3 776.4,204.5 777.4,204.3 778.4,204.9 779.4,204.4 780.4,204.4 781.4,204.5 782.4,203.9 783.4,203.5 784.4,204.1 785.3,204.3 786.3,204.0 787.3,203.3 788.3,203.1 789.3,202.4 790.3,202.2 791.3,203.4 792.2,204.0 793.2,203.3 794.1,204.7 795.1,204.2 796.1,203.0 797.0,204.0 798.0,202.6 799.0,203.5 799.9,202.8 800.9,203.4 801.9,202.8 802.8,201.8 803.8,201.8 804.8,202.5 805.7,203.6 806.7,204.0 807.7,203.8 808.6,203.6 809.6,204.6 810.6,203.7 811.6,204.8 812.6,205.2 813.6,204.8 814.6,204.5 815.6,204.2 816.6,203.4 817.6,203.8 818.6,204.7 819.6,204.1 820.6,205.1 821.6,205.1 822.6,204.9 823.6,205.6 824.6,204.9 825.6,204.7 826.6,205.4 827.6,205.0 828.5,205.1 829.5,204.0 830.4,203.4 831.4,202.8 832.4,203.8 833.4,202.8 834.4,203.6 835.4,204.1 836.4,204.0 837.4,203.5 838.3,203.3 839.3,204.5 840.2,204.7 841.2,204.5 842.1,204.4 843.1,204.1 844.0,205.3 845.0,205.9 845.9,205.5 846.9,205.4 847.8,205.0 848.8,207.0 849.7,206.4 850.6,206.6 851.5,206.7 852.4,207.7 853.3,208.4 854.1,208.4 855.0,210.3 855.9,209.9 856.7,211.4 857.6,211.9 858.6,211.8 859.6,211.2 860.6,212.3 861.6,211.9 862.6,212.2 863.5,211.2 864.5,212.7 865.5,212.7 866.5,212.3 867.5,212.6 868.5,213.4 869.5,214.2 870.5,214.3 871.4,214.0 872.4,213.5 873.4,214.7 874.4,213.9 875.4,214.7 876.4,214.1 877.4,213.6 878.3,214.9 879.3,214.6 880.3,213.9 881.3,214.7 882.3,214.5 883.3,216.0 884.3,215.2 885.3,215.3 886.3,216.1 887.3,216.2 888.3,215.0 889.3,216.4 890.3,216.8 891.3,216.4 892.3,216.4 893.3,216.3 894.3,216.8 895.2,217.1 896.1,216.4 897.0,218.4 897.9,217.5 898.8,219.1 899.7,219.1 900.6,219.6 901.5,220.0 902.4,220.9 903.3,221.4 904.2,220.7 905.1,221.9 906.0,221.4 907.0,222.3 907.9,221.6 908.9,223.1 909.8,223.1 910.8,223.2 911.7,222.6 912.7,224.4 913.6,224.1 914.6,224.0 915.5,225.2 916.5,225.4 917.4,225.3 918.4,225.0 919.3,225.5 920.3,226.8 921.2,227.3 922.1,226.4 923.0,228.3 923.9,227.6 924.7,227.9 925.6,228.1 926.5,228.8 927.4,230.3 928.3,230.2 929.2,230.1 930.1,231.2 930.9,231.5 931.6,233.4 932.4,233.2 933.1,234.9 933.9,234.6 934.6,235.5 935.4,236.0 936.1,237.0 936.9,236.9 937.6,237.2 938.4,238.6 939.1,238.0 939.9,239.5 940.6,239.9 941.3,241.1 942.0,241.9 942.7,243.0 943.4,242.8 944.1,244.5 944.9,245.6 945.6,246.0 946.3,245.8 947.0,247.0 947.7,247.3 948.5,247.9 949.2,249.6 950.0,249.4 950.8,249.5 951.5,250.7 952.3,251.0 953.1,252.6 953.9,253.7 954.6,253.2 955.4,253.5 956.1,254.4 956.8,255.7 957.5,256.8 958.2,257.5 958.9,257.5 959.6,257.8 960.3,258.7 961.0,259.3 961.4,259.7 961.7,261.3 962.0,261.6 962.2,263.2 962.5,264.6 962.8,265.8 963.0,265.7 962.8,266.7 962.7,267.7 962.5,269.3 962.4,270.0 962.2,271.7 962.0,272.4 961.9,272.7 961.7,275.2 961.6,275.5 961.4,277.0 961.3,277.3 961.9,277.6 962.7,276.8 963.5,275.0 964.3,274.5 965.1,275.1 965.9,273.9 966.7,274.5 967.6,274.9 968.5,275.2 969.3,275.3 970.2,275.9 971.0,276.3 971.9,277.3 972.7,277.3 973.2,277.8 973.8,279.1 974.3,281.2 974.9,280.6 975.4,281.7 976.0,281.9 976.5,282.8 977.1,283.7 977.7,285.8 978.2,286.5 978.8,287.3 979.3,288.2 979.9,288.4 980.4,289.1 980.8,290.3 981.3,291.1 981.8,291.1 982.2,292.4 982.7,293.8 983.2,294.7 983.7,295.9 984.1,296.2 984.6,297.2 985.1,297.7 985.5,298.5 986.0,299.9 986.5,300.3 987.0,302.1 987.4,302.1 987.9,302.5 988.4,303.3 988.8,305.5 989.3,305.8 989.8,307.3 990.2,308.3 990.7,308.9 991.1,309.3 991.6,311.4 992.0,311.6 992.5,313.3 992.9,313.6 993.4,314.9 993.8,315.5 994.3,316.6 994.7,316.7 995.2,318.8 995.6,319.3 996.1,319.8 996.5,321.3 997.0,321.9 997.4,323.3 997.9,323.6 998.3,324.7 998.7,325.3 999.2,325.9 999.6,325.8 1000.1,328.3 1000.4,328.4 1000.8,329.3 1001.1,330.5 1001.5,331.1 1001.8,332.4 1002.2,334.2 1002.5,334.1 1002.9,334.7 1003.2,337.0 1003.6,337.0 1003.9,337.4 1004.3,339.1 1004.6,339.0 1005.0,340.0 1005.3,342.5 1005.7,342.6 1006.0,343.9 1006.4,345.2 1006.7,346.5 1007.1,346.6 1007.5,347.7 1007.9,348.7 1008.3,349.5 1008.8,349.1 1009.2,350.4 1009.7,351.0 1010.1,352.0 1010.6,353.4 1011.0,353.3 1011.5,355.2 1011.9,355.7 1012.4,357.6 1012.8,358.1 1013.3,358.7 1013.7,359.9 1014.2,361.6 1014.6,361.4 1015.0,362.4 1015.4,363.2 1015.9,364.2 1016.3,365.2 1016.7,365.5 1017.1,366.9 1017.5,368.7 1017.9,368.8 1018.3,369.1 1018.7,370.7 1019.1,371.9 1019.5,371.4 1019.9,372.6 1020.3,374.3 1020.7,375.8 1021.1,375.5 1021.5,376.9 1022.0,378.4 1022.4,378.4 1022.8,379.8 1023.2,380.6 1023.6,381.6 1024.0,383.3 1024.4,383.9 1024.8,385.1 1025.2,385.4 1025.7,386.7 1026.2,386.5 1026.7,388.4 1027.2,389.1 1027.7,390.1 1028.2,390.7 1028.7,391.2 1029.2,391.5 1029.7,392.3 1030.2,393.4 1030.7,394.8 1031.2,395.5 1031.7,396.8 1032.2,397.2 1032.7,398.9 1033.2,399.9 1033.7,399.4 1034.2,401.2 1034.7,401.7 1035.2,403.7 1035.8,404.3 1036.3,405.4 1036.9,404.7 1037.4,406.5 1038.0,406.3 1038.5,407.7 1039.1,407.8 1039.6,409.5 1040.2,410.6 1040.8,412.1 1041.3,412.1 1041.9,413.7 1042.4,414.5 1043.0,415.4 1043.5,416.5 1044.1,416.2 1044.6,416.7 1045.2,418.7 1045.9,419.0 1046.5,418.6 1047.2,420.3 1047.8,419.8 1048.5,420.9 1049.1,422.2 1049.8,423.1 1050.4,422.8 1051.1,423.7 1051.7,425.2 1052.4,425.9 1053.1,426.0 1053.8,427.1 1054.5,426.9 1055.2,428.9 1055.9,429.4 1056.6,430.6 1057.3,430.3 1058.0,431.8 1058.8,431.6 1059.5,434.0 1060.1,434.0 1060.6,434.4 1061.1,435.5 1061.6,437.0 1062.1,438.1 1062.6,437.5 1063.1,438.6 1063.6,440.3 1064.1,441.8 1064.6,441.8 1065.1,442.4 1065.7,443.8 1066.3,445.4 1066.9,445.4 1067.5,446.9 1068.1,446.4 1068.7,446.9 1069.3,448.4 1069.9,450.1 1070.5,449.8 1071.1,450.4 1071.7,451.4 1072.3,452.1 1073.0,452.8 1073.8,453.5 1074.6,454.0 1075.4,454.3 1076.2,454.4 1077.0,456.3 1077.8,456.9 1078.6,457.1 1079.4,457.8 1080.2,458.2 1081.0,459.0 1081.8,458.4 1082.6,459.3 1083.0,460.1 1083.5,462.6 1083.9,463.7 1084.4,464.3 1084.8,465.4 1085.3,466.4 1085.7,467.7 1086.2,468.4 1086.6,469.2 1087.1,468.9 1087.5,470.2 1088.0,471.4 1088.4,471.8 1088.9,473.3 1089.3,474.2 1089.7,473.8 1090.3,475.7 1090.8,475.7 1091.4,476.8 1092.0,478.2 1092.6,478.7 1093.2,478.8 1093.8,480.7 1094.4,481.7 1095.0,481.6 1095.6,482.4 1096.1,483.2 1096.7,484.2 1097.3,486.2 1097.9,486.9 1098.5,486.5 1099.1,487.4 1099.7,489.3 1100.2,489.1 1100.6,491.3 1101.0,491.2 1101.4,492.0 1101.9,492.2 1102.3,493.2 1102.7,494.1 1103.1,495.2 1103.5,496.6 1104.0,496.4 1104.4,498.6 1104.8,499.4 1105.2,499.7 1105.6,501.3 1106.1,501.6 1106.5,502.1 1106.9,503.9 1107.3,504.8 1107.8,505.0 1108.3,505.7 1108.8,507.6 1109.3,507.0 1109.8,509.0 1110.4,509.7 1110.9,510.1 1111.4,510.5 1111.9,511.9 1112.4,512.4 1112.9,513.4 1113.5,515.7 1114.0,516.3 1114.5,516.2 1115.0,517.2 1115.5,518.9 1116.0,519.1 1116.5,520.2 1117.1,520.4 1117.6,520.6 1118.1,522.1 1118.6,523.2 1119.1,523.2 1119.6,525.6 1120.1,525.5 1120.7,527.0 1121.2,528.4 1121.7,528.8 1122.2,529.4 1122.7,531.5 1123.0,531.7 1123.4,532.2 1123.7,533.4 1124.1,534.3 1124.4,535.1 1124.8,535.2 1125.1,535.9 1125.5,537.1 1125.9,538.4 1126.2,539.1 1126.6,540.4 1126.9,540.3 1127.3,541.0 1127.6,543.0 1128.0,543.8 1128.3,545.1 1128.7,546.3 1129.1,546.7 1129.4,547.3 1129.8,549.5 1130.1,549.1 1130.5,550.7 1130.8,552.4 1131.2,552.1 1131.5,553.6 1131.9,554.9 1132.2,556.9 1132.5,556.3 1132.8,557.2 1133.1,559.0 1133.4,560.6 1133.7,561.2 1134.0,561.7 1134.4,562.0 1134.7,563.8 1135.0,563.3 1135.3,564.9 1135.6,566.5 1135.9,567.4 1136.2,568.3 1136.5,568.9 1136.8,569.5 1137.1,570.0 1137.4,571.3 1137.7,572.4 1138.0,574.1 1138.3,574.0 1138.6,575.0 1138.9,575.8 1139.2,578.1 1139.5,579.1 1139.8,579.3 1140.1,581.4 1140.4,581.6 1140.6,582.3 1140.8,584.0 1141.1,583.8 1141.3,585.3 1141.6,586.1 1141.8,587.3 1142.1,588.1 1142.3,589.6 1142.5,591.0 1142.8,591.6 1143.0,593.2 1143.3,593.9 1143.5,594.4 1143.8,594.7 1144.0,595.4 1144.2,597.1 1144.5,598.4 1144.7,599.5 1145.0,599.8 1145.2,600.7 1145.5,602.5 1145.7,603.4 1145.9,603.2 1146.2,605.2 1146.4,605.4 1146.6,607.7 1146.9,608.8 1147.1,609.5 1147.3,610.2 1147.5,610.3 1147.8,612.6 1148.0,612.2 1148.2,614.6 1148.4,615.5 1148.7,615.6 1148.9,616.2 1149.1,617.2 1149.3,618.7 1149.6,619.5 1149.8,621.2 1150.0,621.5 1150.2,622.6 1150.5,623.6 1150.7,625.1 1150.9,626.2 1151.1,627.1 1151.3,628.5 1151.6,629.1 1151.8,630.1 1152.0,630.1 1152.2,632.3 1152.4,632.0 1152.6,633.3 1152.8,634.1 1153.0,635.9 1153.2,636.2 1153.4,637.6 1153.6,638.4 1153.8,639.4 1154.0,640.8 1154.2,641.3 1154.4,641.3 1154.6,642.7 1154.8,643.5 1155.0,645.5 1155.2,646.0 1155.4,647.0 1155.6,648.0 1155.7,648.4 1155.9,649.2 1156.1,650.0 1156.3,652.2 1156.5,651.7 1156.7,654.0 1156.9,655.1 1157.1,655.9 1157.4,656.3 1157.6,658.0 1157.8,657.6 1158.0,659.0 1158.2,660.0 1158.4,661.6 1158.6,662.1 1158.9,662.9 1159.1,665.0 1159.3,665.1 1159.5,666.5 1159.7,668.0 1159.9,668.1 1160.1,669.4 1160.4,670.7 1160.6,671.3 1160.8,672.1 1161.0,672.9 1161.2,674.3 1161.4,674.5 1161.7,676.0 1161.9,677.4 1162.1,679.1 1162.3,679.6 1162.5,679.7 1162.7,681.0 1162.9,681.5 1163.1,683.8 1163.3,684.5 1163.5,685.6 1163.7,687.1 1163.9,687.1 1164.1,689.1 1164.3,689.5 1164.5,690.8 1164.7,691.2 1164.9,692.7 1165.1,693.2 1165.3,694.0 1165.5,695.3 1165.7,696.2 1165.8,696.9 1166.0,697.9 1166.2,697.7 1166.4,699.0 1166.6,701.2 1166.8,701.9 1167.0,702.4 1167.2,703.7 1167.4,703.8 1167.6,705.3 1167.8,706.8 1168.0,706.5 1168.2,707.5 1168.4,709.3 1168.6,710.8 1168.8,711.2 1169.0,711.8 1169.2,713.1 1169.4,714.6 1169.6,715.4 1169.8,716.1 1170.0,717.6 1170.2,717.5 1170.4,719.0 1170.6,720.5 1170.8,721.9 1171.0,722.2 1171.1,722.6 1171.3,724.7 1171.5,725.9 1171.7,727.1 1171.9,727.1 1172.1,728.9 1172.3,729.7 1172.5,729.2 1172.7,730.9 1172.9,731.8 1173.0,732.7 1173.2,734.3 1173.4,735.8 1173.5,735.4 1173.7,736.6 1173.9,737.6 1174.0,738.8 1174.2,740.0 1174.4,741.2 1174.5,741.7 1174.7,743.8 1174.9,743.7 1175.0,745.8 1175.2,746.0 1175.4,746.2 1175.5,748.3 1175.7,748.4 1175.9,749.8 1176.0,751.4 1176.2,751.2 1176.4,752.5 1176.5,753.0 1176.7,754.4 1176.9,756.2 1177.0,756.8 1177.2,757.8 1177.3,758.4 1177.5,759.7 1177.6,761.5 1177.8,762.3 1177.9,762.0 1178.1,764.2 1178.2,764.3 1178.3,766.2 1178.5,767.4 1178.6,767.5 1178.8,768.2 1178.9,768.7 1179.1,769.8 1179.2,771.3 1179.4,772.9 1179.5,773.7 1179.7,774.0 1179.8,774.9 1180.0,776.3 1180.1,777.5 1180.3,777.7 1180.4,779.4 1180.6,780.1 1180.8,781.7 1180.9,782.1 1181.1,782.7 1181.3,785.1 1181.5,784.7 1181.7,786.8 1181.8,786.9 1182.0,788.2 1182.2,789.0 1182.4,789.7 1182.5,790.9 1182.7,791.5 1182.9,793.9 1183.1,794.3 1183.2,794.7 1183.4,796.2 1183.6,797.8 1183.8,799.1 1184.0,800.2 1184.1,801.1 1184.3,800.7 1184.5,801.7 1184.7,802.6 1184.8,803.7 1185.0,805.9 1185.2,807.1 1185.4,806.6 1185.6,807.6 1185.8,809.4 1185.9,810.8 1186.1,810.7 1186.3,811.6 1186.5,813.6 1186.7,813.6 1186.8,814.3 1187.0,816.3 1187.2,817.2 1187.4,818.8 1187.6,819.2 1187.8,819.8 1187.9,820.8 1188.1,821.0 1188.3,822.0 1188.5,823.7 1188.7,823.7 1188.9,824.9 1189.0,827.0 1189.2,827.8 1189.4,828.3 1189.6,828.9 1189.8,830.0 1189.9,831.6 1190.1,832.6 1190.3,834.0 1190.5,834.4 1190.7,835.3 1190.9,836.5 1191.0,838.5 1191.2,838.6 1191.4,839.4 1191.5,841.0 1191.7,842.3 1191.8,843.2 1192.0,844.0 1192.1,843.8 1192.3,845.7 1192.4,846.0 1192.6,847.9 1192.7,849.0 1192.9,848.9 1193.1,849.9 1193.2,851.3 1193.4,853.3 1193.5,853.6 1193.7,854.9 1193.8,854.4 1194.0,856.4 1194.2,857.8 1194.4,858.2 1194.6,859.2 1194.8,860.0 1195.0,862.2 1195.2,862.1 1195.4,863.4 1195.6,865.2 1195.8,865.6 1196.0,865.9 1196.2,867.3 1196.4,868.8 1196.6,869.6 1196.8,870.0 1197.0,871.4 1197.2,872.3 1197.4,873.1 1197.6,874.6 1197.8,874.4 1198.0,875.8 1198.1,876.4 1198.3,877.9 1198.5,878.5 1198.7,879.2 1198.9,880.4 1199.1,881.8 1199.3,882.8 1199.5,883.1 1199.7,883.9 1199.9,885.0 1200.1,886.2 1200.3,887.2 1200.5,888.1 1200.7,889.4 1200.9,890.4 1201.1,891.7 1201.3,892.7 1201.5,893.0 1201.7,895.3 1201.9,896.5 1202.1,895.8 1202.3,897.3 1202.5,899.2 1202.7,899.7 1202.9,900.0 1203.1,901.0 1203.3,902.6 1203.4,903.0 1203.6,905.2 1203.9,905.8 1204.1,906.9 1204.3,907.1 1204.6,908.4 1204.8,910.0 1205.1,910.9 1205.3,912.0 1205.6,913.4 1205.8,913.6 1206.0,915.2 1206.3,915.6 1206.5,916.6 1206.8,917.6 1207.0,918.7 1207.3,920.1 1207.5,920.7 1207.7,920.6 1208.0,921.7 1208.2,923.6 1208.5,924.7 1208.7,924.3 1209.0,925.6 1209.2,926.2 1209.4,927.7 1209.7,929.1 1209.9,929.8 1210.2,930.4 1210.4,931.5 1210.6,933.4 1210.8,934.2 1211.0,934.0 1211.2,935.9 1211.4,936.7 1211.7,937.1 1211.9,938.8 1212.1,940.5 1212.3,940.2 1212.5,941.4 1212.7,942.8 1212.9,943.2 1213.2,944.7 1213.4,946.0 1213.6,945.9 1213.8,946.6 1214.0,948.8 1214.2,948.8 1214.5,949.3 1214.7,951.3 1214.9,952.5 1215.1,952.9 1215.3,953.1 1215.5,954.2 1215.8,956.4 1216.0,955.8 1216.2,957.3 1216.4,959.4 1216.7,959.8 1216.9,960.6 1217.1,961.3 1217.3,963.7 1217.5,963.5 1217.8,966.2 1218.0,965.4 1218.2,967.1 1218.4,967.5 1218.7,969.0 1218.9,969.9 1219.1,971.1 1219.3,972.1 1219.6,972.2 1219.8,974.2 1220.0,974.4 1220.2,975.6 1220.5,976.6 1220.7,977.3 1220.9,978.4 1221.1,980.4 1221.4,981.7 1221.7,982.3 1222.0,982.4 1222.3,983.5 1222.5,983.9 1222.8,985.4 1223.1,986.9 1223.4,987.5 1223.7,989.3 1224.0,989.9 1224.3,991.1 1224.6,990.7 1224.8,991.8 1225.1,992.8 1225.4,994.0 1225.7,995.8 1226.0,995.5 1226.3,996.2 1226.6,998.2 1226.9,998.9 1227.1,1000.2 1227.4,1000.9 1227.7,1001.9 1228.0,1001.7 1228.3,1002.9 1228.6,1004.2 1228.9,1004.8 1229.3,1006.5 1229.7,1006.6 1230.1,1008.3 1230.5,1009.2 1230.9,1010.3 1231.3,1011.7 1231.7,1012.8 1232.1,1012.7 1232.5,1013.8 1232.9,1014.2 1233.3,1016.2 1233.7,1017.3 1234.1,1017.1 1234.5,1018.0 1234.9,1020.1 1235.3,1020.3 1235.7,1020.2 1236.1,1022.5 1236.5,1023.0 1236.9,1024.0 1237.3,1025.5 1237.8,1025.7 1238.2,1026.1 1238.7,1028.1 1239.1,1028.6 1239.6,1029.5 1240.0,1030.8 1240.5,1030.7 1240.9,1031.5 1241.4,1033.1 1241.8,1033.1 1242.2,1035.3 1242.7,1035.5 1243.1,1037.3 1243.6,1037.8 1244.0,1038.2 1244.5,1039.4 1244.9,1040.5 1245.4,1040.5 1245.8,1041.3 1246.3,1042.6 1246.7,1043.9 1247.2,1044.9 1247.6,1045.5 1248.1,1047.2 1248.5,1047.0 1249.0,1047.7 1249.4,1049.3 1249.9,1049.3 1250.3,1051.2 1250.8,1051.4 1251.2,1052.1 1252.0,1053.2 1252.9,1052.5 1253.7,1053.4 1254.6,1054.6 1255.4,1055.0 1256.3,1055.4 1257.2,1055.5 1257.8,1057.0 1258.4,1056.6 1258.9,1059.0 1259.5,1058.6 1260.1,1059.6 1260.6,1060.6 1261.2,1061.8 1261.7,1062.7 1262.3,1063.0 1262.8,1063.8 1263.4,1066.3 1263.9,1066.9 1264.5,1066.5 1265.1,1068.8 1265.8,1068.2 1266.6,1068.6 1267.4,1070.5 1268.2,1071.1 1268.9,1070.5 1269.7,1071.8 1270.5,1071.9 1271.2,1073.6 1272.0,1073.2 1272.8,1073.6 1273.7,1073.9 1274.7,1075.4 1275.6,1075.4 1276.5,1075.8 1277.5,1076.1 1278.4,1076.1 1279.3,1076.9 1280.3,1076.4 1281.2,1076.7 1282.1,1078.0 1283.0,1078.4 1284.0,1077.6 1284.9,1078.8 1285.8,1078.8 1286.6,1079.8 1287.5,1079.2 1288.4,1079.9 1289.2,1080.9 1290.1,1081.2 1291.0,1081.8 1291.8,1082.1 1292.7,1082.6 1293.6,1083.6 1294.4,1084.5 1295.3,1084.3 1296.1,1085.7 1296.9,1085.1 1297.7,1086.2 1298.5,1087.0 1299.3,1088.1 1300.0,1089.1 1300.8,1088.7 1301.6,1088.9 1302.4,1090.8 1303.2,1090.5 1304.1,1091.6 1305.1,1090.6 1306.1,1090.6 1307.1,1090.1 1308.1,1090.1 1309.1,1091.5 1310.1,1090.4 1311.1,1091.7 1312.1,1090.9 1313.1,1091.8 1314.1,1091.0 1315.1,1090.8 1316.1,1091.7 1317.1,1092.5 1318.1,1092.3 1319.1,1091.9 1320.1,1092.3 1320.8,1092.3 1321.0,1090.8 1321.1,1089.4 1321.3,1089.7 1321.4,1087.1 1321.6,1087.0 1321.7,1085.7 1321.8,1086.9 1321.9,1087.6 1322.0,1088.8 1322.1,1088.8 1322.3,1090.4 1322.4,1091.7 1322.5,1091.4 1323.2,1091.6 1324.2,1092.0 1325.2,1092.8 1326.2,1092.3 1327.2,1092.5 1328.1,1094.0 1329.1,1094.2 1330.1,1094.0 1331.1,1093.3 1332.0,1094.4 1333.0,1094.9 1333.9,1094.8 1334.9,1095.0 1335.8,1095.5 1336.8,1095.6 1337.7,1095.3 1338.7,1095.6 1339.6,1096.6 1340.6,1097.4 1341.6,1097.6 1342.6,1097.1 1343.6,1097.7 1344.6,1097.7 1345.5,1097.2 1346.5,1097.5 1347.5,1098.2 1348.5,1097.6 1349.5,1097.6 1350.5,1097.7 1351.5,1097.9 1352.5,1099.0 1353.4,1099.1 1354.4,1098.9 1355.4,1099.1 1356.3,1100.3 1357.3,1100.9 1358.2,1101.1 1359.2,1102.3 1360.1,1102.2 1361.1,1101.8 1362.1,1102.1 1363.0,1101.1 1364.0,1101.4 1365.0,1101.1 1366.0,1099.8 1366.9,1099.9 1367.9,1099.9 1368.9,1099.8 1369.8,1099.6 1370.7,1101.2 1371.7,1100.5 1372.6,1101.4 1373.6,1102.2 1374.5,1102.8 1375.5,1102.1 1376.4,1103.1 1377.4,1102.0 1378.3,1102.4 1379.3,1102.9 1380.3,1102.0 1381.2,1102.6 1382.2,1101.7 1383.2,1101.4 1384.2,1101.1 1385.1,1100.8 1386.1,1102.1 1387.1,1101.7 1388.1,1101.9 1389.1,1102.5 1390.1,1101.6 1391.1,1101.5 1392.1,1103.3 1393.1,1101.9 1394.1,1102.7 1395.1,1102.1 1396.1,1103.1 1397.0,1102.7 1398.0,1103.1 1399.0,1103.8 1400.0,1103.4 1401.0,1103.7 1402.0,1103.3 1403.0,1103.9 1404.0,1104.2 1405.0,1104.0 1406.0,1103.9 1407.0,1104.2 1408.0,1103.5 1409.0,1104.5 1410.0,1104.4 1410.9,1104.7 1411.9,1105.2 1412.9,1104.7 1413.9,1103.4 1414.9,1103.8 1415.9,1103.1 1416.9,1103.5 1417.9,1103.8 1418.9,1102.9 1419.9,1101.6 1420.8,1103.5 1421.8,1102.5 1422.7,1103.3 1423.7,1104.2 1424.6,1104.4 1425.6,1105.7 1426.5,1105.3 1427.5,1106.0 1428.4,1105.5 1429.4,1105.9 1430.3,1106.4 1431.3,1106.5 1432.2,1106.8 1433.2,1107.1 1434.1,1107.1 1435.1,1108.6 1436.0,1108.7 1437.0,1107.9 1437.9,1107.8 1438.9,1109.6 1439.8,1108.7 1440.8,1110.2 1441.7,1110.5 1442.7,1109.8 1443.6,1109.6 1444.6,1111.2 1445.6,1110.5 1446.6,1110.9 1447.6,1111.3 1448.6,1111.3 1449.6,1110.7 1450.6,1110.2 1451.6,1111.1 1452.6,1111.1 1453.6,1110.2 1454.6,1111.7 1455.6,1112.0 1456.6,1111.9 1457.6,1111.4 1458.6,1111.3 1459.6,1110.8 1460.6,1111.4 1461.5,1110.7 1462.5,1112.5 1463.5,1112.6 1464.5,1111.6 1465.5,1112.0 1466.5,1112.3 1467.5,1112.7 1468.5,1112.6 1469.4,1112.8 1470.4,1112.2 1471.4,1112.8 1472.4,1113.8 1473.4,1112.8 1474.4,1113.7 1475.4,1113.8 1476.4,1114.2 1477.4,1113.9 1478.4,1114.8 1479.4,1114.8 1480.4,1113.6 1481.4,1114.3 1482.4,1113.6 1483.4,1114.7 1484.4,1113.6 1485.3,1113.9 1486.3,1114.9 1487.3,1115.7 1488.3,1115.5 1489.3,1114.4 1490.3,1116.1 1491.3,1115.1 1492.3,1116.0 1493.3,1114.8 1494.3,1114.9 1495.3,1116.7 1496.3,1115.7 1497.3,1115.8 1498.3,1116.3 1499.3,1115.3 1500.2,1115.6 1501.2,1117.1 1502.1,1117.4 1503.0,1117.3 1504.0,1118.0 1504.9,1118.0 1505.9,1118.7 1506.8,1120.0 1507.7,1120.2 1508.7,1119.6 1509.7,1119.3 1510.6,1120.1 1511.6,1119.0 1512.6,1119.5 1513.6,1119.4 1514.6,1119.6 1515.5,1119.1 1516.5,1118.0 1517.5,1118.6 1518.5,1118.1 1519.5,1117.2 1520.5,1117.9 1521.5,1117.7 1522.4,1117.7 1523.4,1118.4 1524.4,1118.8 1525.4,1118.1 1526.4,1118.5 1527.4,1118.7 1528.4,1118.6 1529.4,1120.2 1530.3,1119.2 1531.3,1119.2 1532.2,1120.2 1533.1,1121.0 1534.0,1121.7 1534.8,1122.2 1535.7,1121.6 1536.6,1121.7 1537.5,1122.1 1538.3,1123.0 1539.2,1123.0 1540.2,1123.9 1541.1,1124.1 1542.1,1124.3 1543.1,1123.1 1544.1,1123.7 1545.1,1123.5 1546.1,1123.0 1547.1,1123.1 1548.1,1123.1 1549.1,1124.8 1550.1,1124.4 1551.0,1125.9 1552.0,1125.1 1552.9,1125.1 1553.9,1126.8 1554.9,1125.7 1555.8,1126.6 1556.8,1125.9 1557.8,1126.2 1558.8,1127.5 1559.8,1126.9 1560.7,1126.5 1561.7,1126.7 1562.7,1127.1 1563.7,1127.8 1564.7,1128.0 1565.7,1127.4 1566.7,1128.3 1567.7,1127.6 1568.7,1128.2 1569.7,1127.4 1570.7,1128.1 1571.6,1128.3 1572.6,1128.8 1573.6,1128.9 1574.7,1128.1 1575.7,1128.1 1576.7,1128.8 1577.7,1127.5 1578.7,1128.3 1579.7,1128.6 1580.7,1128.9 1581.7,1127.5 1582.7,1127.7 1583.7,1127.9 1584.6,1127.7 1585.6,1128.7 1586.6,1128.5 1587.6,1128.1 1588.6,1129.3 1589.6,1128.5 1590.6,1129.7 1591.6,1129.4 1592.6,1129.1 1593.5,1130.1 1594.5,1130.3 1595.5,1129.9 1596.5,1130.2 1597.4,1130.7 1598.4,1130.6 1599.4,1130.7 1600.3,1131.3 1601.3,1131.8 1602.3,1131.4 1603.3,1130.4 1604.3,1131.6 1605.3,1131.0 1606.3,1130.9 1607.3,1131.2 1608.3,1129.9 1609.3,1131.5 1610.3,1131.4 1611.2,1131.2 1612.2,1131.9 1613.1,1131.5 1614.1,1131.8 1615.0,1132.6 1616.0,1132.0 1616.9,1133.8 1617.9,1132.4 1618.9,1132.6 1619.9,1133.3 1620.9,1133.1 1621.8,1134.6 1622.8,1134.8 1623.8,1134.6 1624.8,1134.3 1625.8,1135.5 1626.8,1135.2 1627.8,1135.0 1628.8,1135.1 1629.7,1134.6 1630.7,1135.0 1631.7,1135.6 1632.7,1134.8 1633.7,1135.7 1634.7,1136.0 1635.7,1134.9 1636.7,1135.4 1637.7,1135.4 1638.7,1135.8 1639.7,1135.8 1640.7,1136.6 1641.7,1135.5 1642.7,1136.7 1643.7,1135.7 1644.7,1136.1 1645.7,1135.8 1646.7,1135.3 1647.7,1135.8 1648.7,1136.6 1649.7,1136.9 1650.7,1136.7 1651.7,1136.9 1652.7,1136.7 1653.7,1137.1 1654.7,1136.7 1655.7,1137.4 1656.7,1136.3 1657.7,1137.4 1658.6,1136.3 1659.6,1137.2 1660.6,1137.3 1661.6,1136.4 1662.6,1136.3 1663.6,1136.0 1664.6,1136.5 1665.6,1136.2 1666.6,1135.3 1667.6,1135.3 1668.6,1135.4 1669.5,1135.7 1670.5,1136.3 1671.5,1136.6 1672.5,1136.5 1673.5,1136.8 1674.5,1137.7 1675.5,1136.6 1676.5,1137.8 1677.5,1137.1 1678.5,1136.6 1679.5,1137.4 1680.5,1137.7 1681.5,1137.4 1682.5,1138.2 1683.4,1137.5 1684.4,1138.7 1685.4,1138.0 1686.4,1137.8 1687.4,1138.4 1688.4,1138.1 1689.4,1138.6 1690.4,1138.7 1691.4,1138.1 1692.4,1138.2 1693.4,1139.6 1694.4,1138.9 1695.4,1138.9 1696.4,1139.5 1697.4,1139.4 1698.4,1139.1 1699.4,1138.8 1700.4,1139.8 1701.4,1139.5 1702.4,1139.8 1703.4,1138.4 1704.4,1139.4 1705.4,1138.6 1706.4,1138.9 1707.4,1138.2 1708.4,1138.0 1709.4,1138.3 1710.4,1138.0 1711.4,1138.7 1712.4,1137.6 1713.4,1138.8 1714.4,1139.0 1715.4,1138.1 1715.7,1136.7 1715.9,1137.2 1716.1,1135.2 1716.3,1135.2 1716.6,1134.2 1716.7,1134.9 1716.9,1135.5 1717.0,1137.6 1717.2,1137.2 1717.3,1138.5 1717.5,1140.1 1717.9,1140.1 1718.7,1141.0 1719.4,1141.9 1720.4,1142.6 1721.4,1141.5 1722.4,1142.1 1723.4,1141.5 1724.4,1142.2 1725.4,1142.9 1726.4,1142.5 1727.4,1142.4 1728.4,1142.6 1729.4,1141.5 1730.4,1142.1 1731.4,1141.7 1732.3,1143.1 1733.3,1143.6 1734.3,1142.4 1735.3,1143.0 1736.3,1143.5 1737.3,1143.0 1738.2,1144.7 1739.2,1143.8 1740.2,1143.9 1741.2,1144.7 1742.2,1143.8 1743.2,1145.7 1744.2,1144.8 1745.2,1145.0 1746.2,1146.0 1747.2,1144.9 1748.2,1145.3 1749.2,1145.9 1750.2,1146.2 1751.1,1145.6 1752.1,1145.0 1753.1,1145.3 1754.1,1146.6 1755.1,1146.7 1756.1,1145.7 1757.1,1146.9 1758.1,1146.0 1759.0,1146.0 1760.0,1147.8 1761.0,1146.5 1762.0,1147.2 1763.0,1148.0 1764.0,1147.6 1765.0,1148.6 1766.0,1147.8 1767.0,1149.1 1767.9,1148.1 1768.9,1148.7 1769.9,1147.6 1770.9,1148.4 1771.9,1148.4 1772.9,1146.4 1773.9,1146.5 1774.9,1146.3 1775.9,1147.4 1776.9,1146.4 1777.9,1147.8 1778.9,1147.1 1779.9,1148.0 1780.8,1147.7 1781.8,1148.3 1782.8,1148.7 1783.8,1147.7 1784.8,1147.8 1785.8,1147.8 1786.8,1148.4 1787.8,1148.9 1788.7,1149.5 1789.7,1150.2 1790.7,1150.2 1791.7,1149.2 1792.7,1150.2 1793.7,1150.9 1794.6,1149.7 1795.6,1151.2 1796.6,1150.7 1797.6,1150.1 1798.6,1150.5 1799.6,1151.9 1800.5,1150.5 1801.5,1151.0 1802.5,1151.0 1803.5,1150.8 1804.5,1151.8 1805.5,1151.5 1806.5,1150.7 1807.5,1151.8 1808.5,1151.8 1809.5,1152.1 1810.5,1151.6 1811.5,1151.7 1812.5,1152.2 1813.5,1152.4 1814.5,1151.8 1815.5,1151.4 1816.5,1151.7 1817.5,1151.6 1818.5,1151.7 1819.5,1151.6 1820.5,1152.8 1821.5,1152.6 1822.5,1151.3 1823.5,1151.8 1824.5,1152.4 1825.5,1151.9 1826.5,1151.4 1827.5,1152.3 1828.5,1152.9 1829.5,1152.1 1830.5,1152.3 1831.5,1151.8 1832.5,1152.6 1833.5,1153.1 1834.5,1151.6 1835.5,1151.6 1836.5,1151.8 1837.5,1152.7 1838.5,1151.8 1839.5,1151.8 1840.5,1152.4 1841.5,1151.9 1842.5,1152.5 1843.4,1151.8 1844.4,1152.0 1845.4,1152.4 1846.4,1153.6 1847.3,1154.5 1848.3,1154.9"/>
</g>
<rect class="ax" x="300.0" y="51.5" width="1582.5" height="1167.0"/>
<path class="tk" d="M276.50 1218.50H298.50M288.70 1191.98H298.50M288.70 1165.45H298.50M288.70 1138.93H298.50M276.50 1112.41H298.50M288.70 1085.89H298.50M288.70 1059.36H298.50M288.70 1032.84H298.50M276.50 1006.32H298.50M288.70 979.80H298.50M288.70 953.27H298.50M288.70 926.75H298.50M276.50 900.23H298.50M288.70 873.70H298.50M288.70 847.18H298.50M288.70 820.66H298.50M276.50 794.14H298.50M288.70 767.61H298.50M288.70 741.09H298.50M288.70 714.57H298.50M276.50 688.05H298.50M288.70 661.52H298.50M288.70 635.00H298.50M288.70 608.48H298.50M276.50 581.95H298.50M288.70 555.43H298.50M288.70 528.91H298.50M288.70 502.39H298.50M276.50 475.86H298.50M288.70 449.34H298.50M288.70 422.82H298.50M288.70 396.30H298.50M276.50 369.77H298.50M288.70 343.25H298.50M288.70 316.73H298.50M288.70 290.20H298.50M276.50 263.68H298.50M288.70 237.16H298.50M288.70 210.64H298.50M288.70 184.11H298.50M276.50 157.59H298.50M288.70 131.07H298.50M288.70 104.55H298.50M288.70 78.02H298.50M276.50 51.50H298.50M300.00 1220.00V1241.50M348.69 1220.00V1230.20M397.38 1220.00V1230.20M446.08 1220.00V1230.20M494.77 1220.00V1230.20M543.46 1220.00V1241.50M592.15 1220.00V1230.20M640.85 1220.00V1230.20M689.54 1220.00V1230.20M738.23 1220.00V1230.20M786.92 1220.00V1241.50M835.62 1220.00V1230.20M884.31 1220.00V1230.20M933.00 1220.00V1230.20M981.69 1220.00V1230.20M1030.38 1220.00V1241.50M1079.08 1220.00V1230.20M1127.77 1220.00V1230.20M1176.46 1220.00V1230.20M1225.15 1220.00V1230.20M1273.85 1220.00V1241.50M1322.54 1220.00V1230.20M1371.23 1220.00V1230.20M1419.92 1220.00V1230.20M1468.62 1220.00V1230.20M1517.31 1220.00V1241.50M1566.00 1220.00V1230.20M1614.69 1220.00V1230.20M1663.38 1220.00V1230.20M1712.08 1220.00V1230.20M1760.77 1220.00V1241.50M1809.46 1220.00V1230.20M1858.15 1220.00V1230.20"/>
<text filter="url(#bin)" transform="translate(260 1235.5) scale(1 1.041)" text-anchor="end">0</text>
<text filter="url(#bin)" transform="translate(260 1129.4) scale(1 1.041)" text-anchor="end">10</text>
<text filter="url(#bin)" transform="translate(260 1023.3) scale(1 1.041)" text-anchor="end">20</text>
<text filter="url(#bin)" transform="translate(260 917.2) scale(1 1.041)" text-anchor="end">30</text>
<text filter="url(#bin)" transform="translate(260 811.1) scale(1 1.041)" text-anchor="end">40</text>
<text filter="url(#bin)" transform="translate(260 705.0) scale(1 1.041)" text-anchor="end">50</text>
<text filter="url(#bin)" transform="translate(260 599.0) scale(1 1.041)" text-anchor="end">60</text>
<text filter="url(#bin)" transform="translate(260 492.9) scale(1 1.041)" text-anchor="end">70</text>
<text filter="url(#bin)" transform="translate(260 386.8) scale(1 1.041)" text-anchor="end">80</text>
<text filter="url(#bin)" transform="translate(260 280.7) scale(1 1.041)" text-anchor="end">90</text>
<text filter="url(#bin)" transform="translate(260 174.6) scale(1 1.041)" text-anchor="end">100</text>
<text filter="url(#bin)" transform="translate(260 68.5) scale(1 1.041)" text-anchor="end">110</text>
<text filter="url(#bin)" transform="translate(300.0 1306.5) scale(1 1.041)" text-anchor="middle">0</text>
<text filter="url(#bin)" transform="translate(543.5 1306.5) scale(1 1.041)" text-anchor="middle">100</text>
<text filter="url(#bin)" transform="translate(786.9 1306.5) scale(1 1.041)" text-anchor="middle">200</text>
<text filter="url(#bin)" transform="translate(1030.4 1306.5) scale(1 1.041)" text-anchor="middle">300</text>
<text filter="url(#bin)" transform="translate(1273.8 1306.5) scale(1 1.041)" text-anchor="middle">400</text>
<text filter="url(#bin)" transform="translate(1517.3 1306.5) scale(1 1.041)" text-anchor="middle">500</text>
<text filter="url(#bin)" transform="translate(1760.8 1306.5) scale(1 1.041)" text-anchor="middle">600</text>
<text filter="url(#bin)" transform="translate(848.5 1412) scale(1 1.041)" text-anchor="start" textLength="487" lengthAdjust="spacingAndGlyphs">Temperature (<tspan font-size="57" dy="1">°</tspan><tspan dy="-1">C)</tspan></text>
<text filter="url(#bin)" transform="translate(67 872.5) rotate(-90) scale(1 1.041)" text-anchor="start" textLength="437.5" lengthAdjust="spacingAndGlyphs">Weight loss (%)</text>
<rect x="1375.5" y="114.5" width="400" height="379.5" fill="#fff" stroke="#000" stroke-width="3" shape-rendering="crispEdges"/>
<line x1="1381" x2="1523.6" y1="152.5" y2="152.5" stroke="#000000" stroke-width="3" shape-rendering="crispEdges"/>
<text filter="url(#bin)" transform="translate(1540 175.0) scale(1 1.041)" text-anchor="start" textLength="196.5" lengthAdjust="spacingAndGlyphs">PU-Si0</text>
<line x1="1381" x2="1523.6" y1="229.5" y2="229.5" stroke="#ff0000" stroke-width="3" shape-rendering="crispEdges"/>
<text filter="url(#bin)" transform="translate(1540 251.4) scale(1 1.041)" text-anchor="start" textLength="196.5" lengthAdjust="spacingAndGlyphs">PU-Si4</text>
<line x1="1381" x2="1523.6" y1="305.5" y2="305.5" stroke="#0000ff" stroke-width="3" shape-rendering="crispEdges"/>
<text filter="url(#bin)" transform="translate(1540 327.9) scale(1 1.041)" text-anchor="start" textLength="197" lengthAdjust="spacingAndGlyphs">PU-Si9</text>
<line x1="1381" x2="1523.6" y1="382.5" y2="382.5" stroke="#9500ff" stroke-width="3" shape-rendering="crispEdges"/>
<text filter="url(#bin)" transform="translate(1540 404.4) scale(1 1.041)" text-anchor="start" textLength="231.5" lengthAdjust="spacingAndGlyphs">PU-Si13</text>
<line x1="1381" x2="1523.6" y1="458.5" y2="458.5" stroke="#00ff00" stroke-width="3" shape-rendering="crispEdges"/>
<text filter="url(#bin)" transform="translate(1540 480.8) scale(1 1.041)" text-anchor="start" textLength="231.5" lengthAdjust="spacingAndGlyphs">PU-Si17</text>
</svg></body></html>
